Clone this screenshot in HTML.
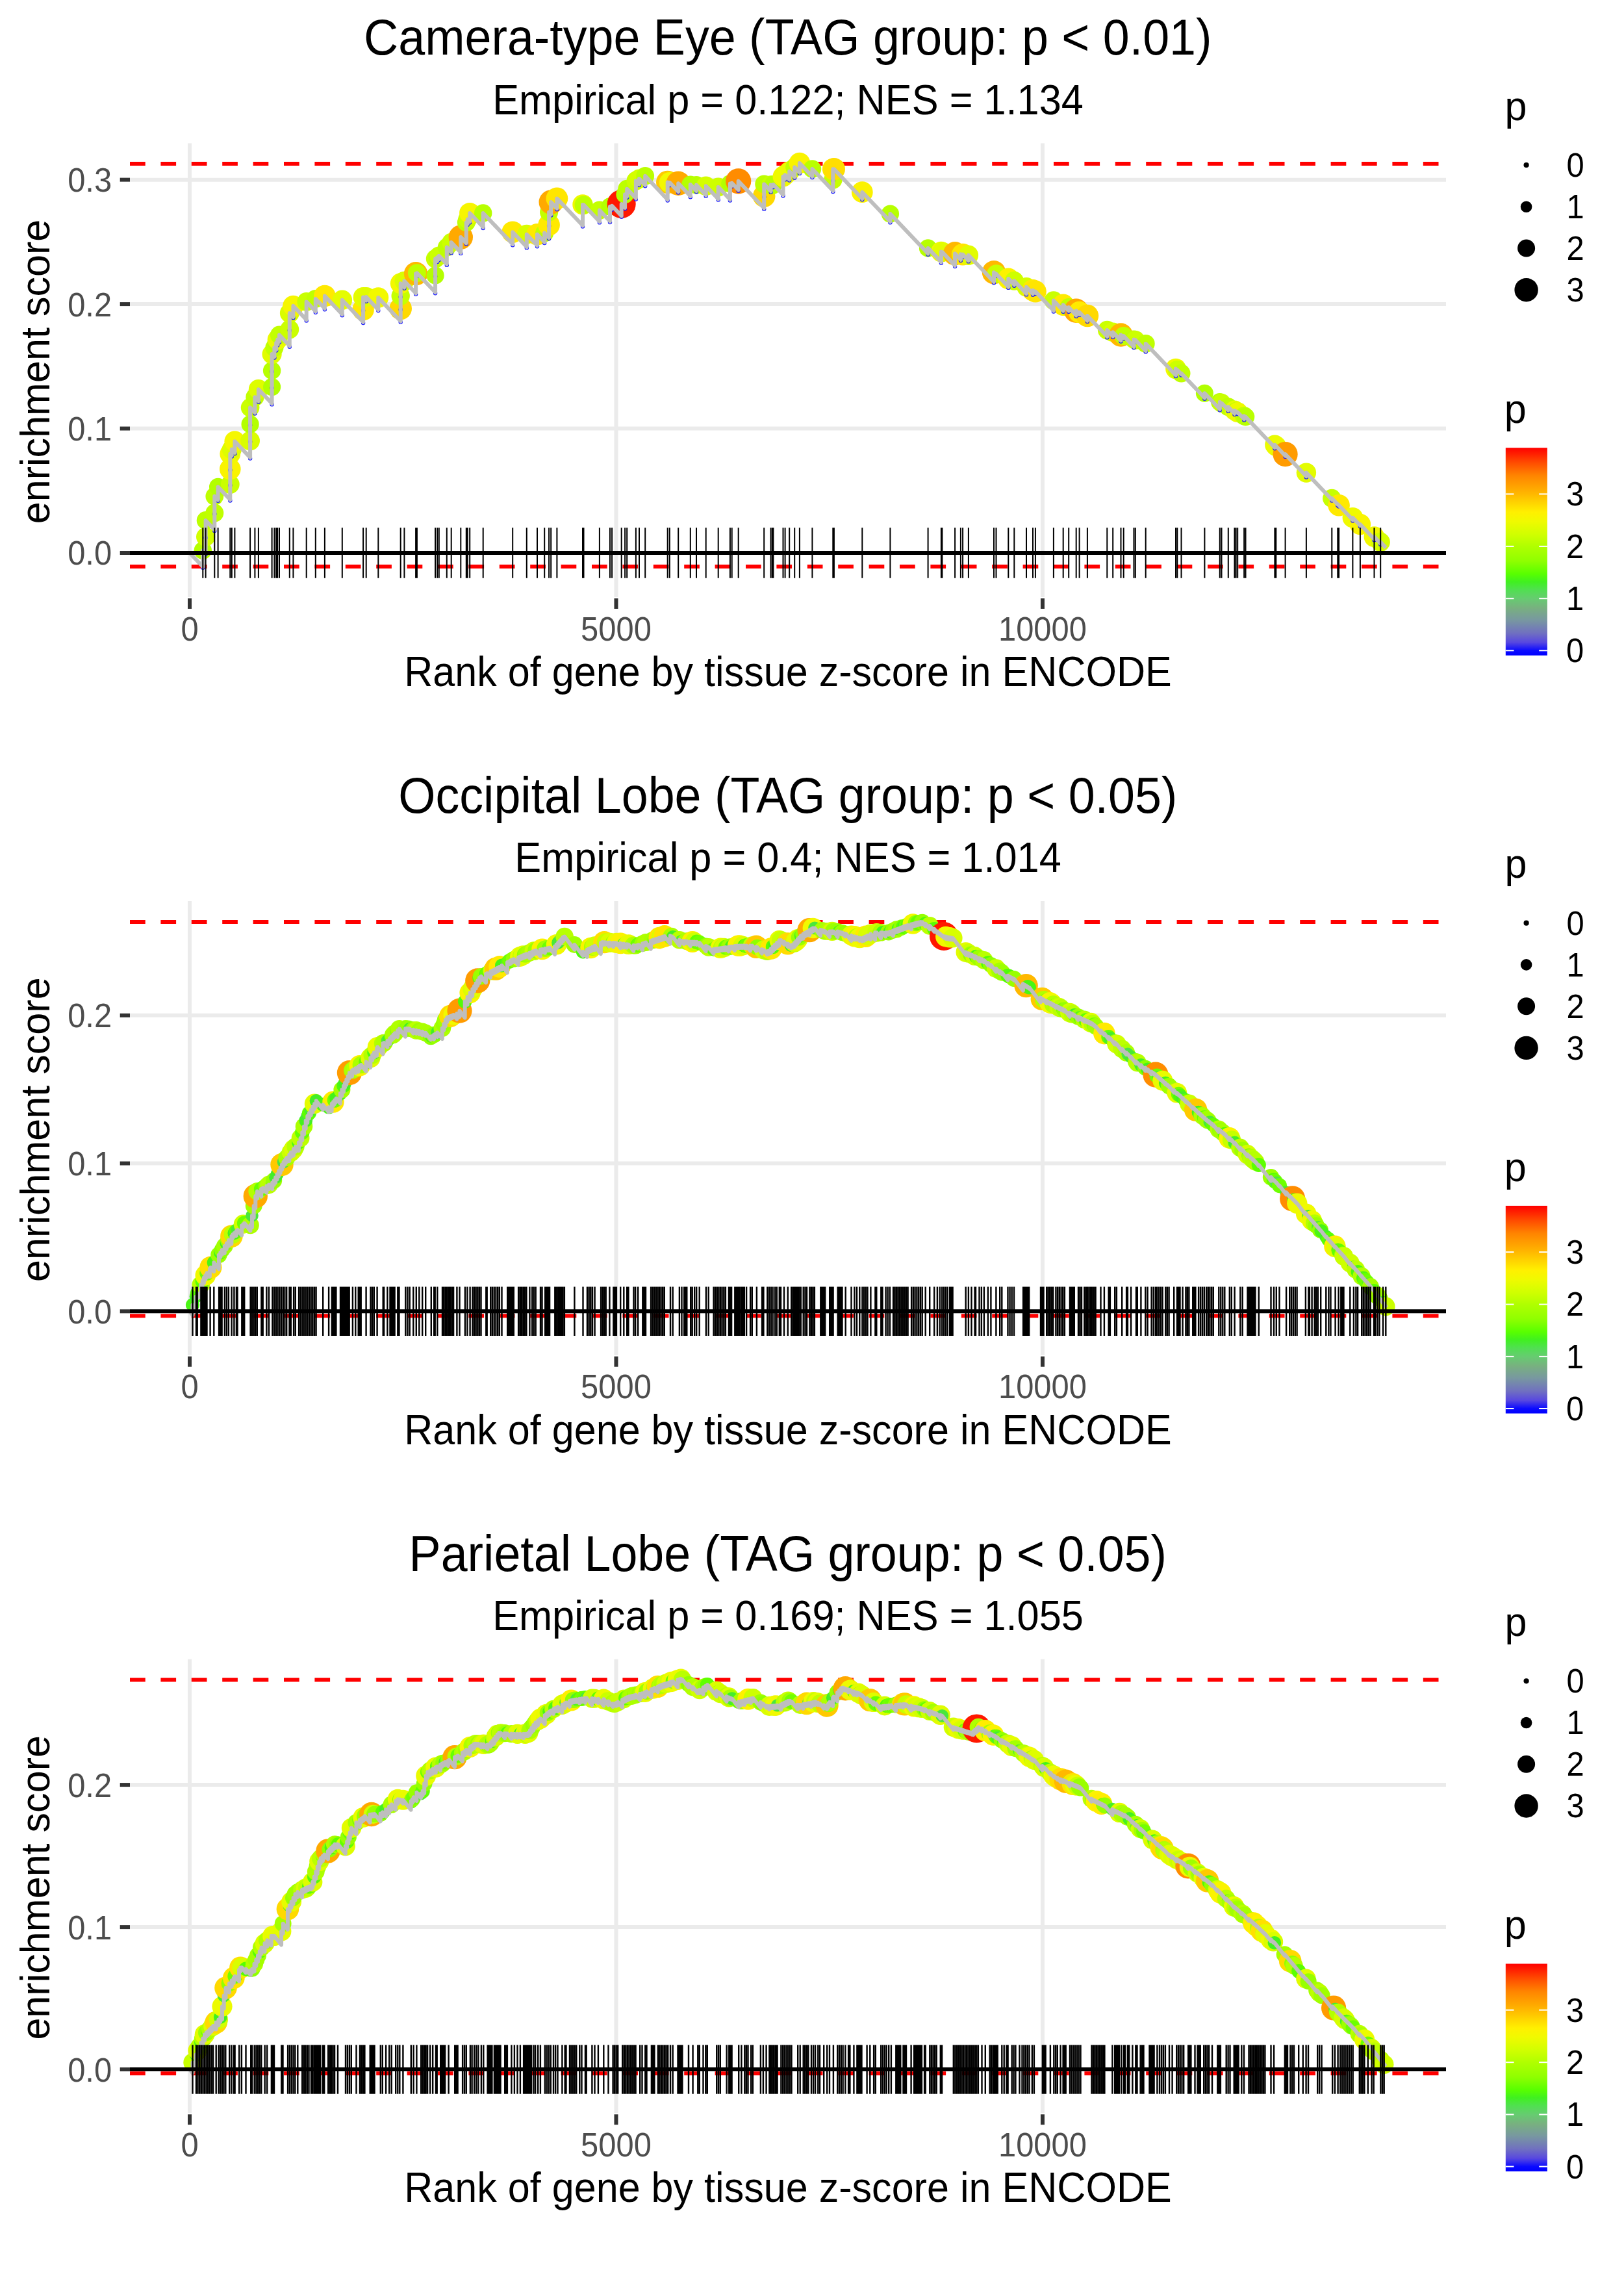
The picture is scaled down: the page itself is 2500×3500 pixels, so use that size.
<!DOCTYPE html><html><head><meta charset="utf-8"><style>html,body{margin:0;padding:0;background:#fff}svg{display:block}</style></head><body><svg width="2500" height="3500" viewBox="0 0 2500 3500">
<defs><linearGradient id="cbar" x1="0" y1="0" x2="0" y2="1"><stop offset="0.0000" stop-color="#FF0000"/><stop offset="0.0696" stop-color="#FF4A00"/><stop offset="0.1329" stop-color="#FF8400"/><stop offset="0.1962" stop-color="#FFA800"/><stop offset="0.2228" stop-color="#FFB800"/><stop offset="0.2595" stop-color="#FFD000"/><stop offset="0.3101" stop-color="#FFF000"/><stop offset="0.3544" stop-color="#F0FA00"/><stop offset="0.4177" stop-color="#D0FF00"/><stop offset="0.4747" stop-color="#B0FF00"/><stop offset="0.5443" stop-color="#90FF00"/><stop offset="0.6076" stop-color="#58FF00"/><stop offset="0.6456" stop-color="#40F020"/><stop offset="0.6835" stop-color="#50E050"/><stop offset="0.7259" stop-color="#66CC70"/><stop offset="0.7722" stop-color="#78B080"/><stop offset="0.8291" stop-color="#7898A0"/><stop offset="0.8924" stop-color="#7070C0"/><stop offset="0.9367" stop-color="#5848E0"/><stop offset="0.9766" stop-color="#0A0AFF"/><stop offset="1.0000" stop-color="#0000FF"/></linearGradient></defs>
<rect width="2500" height="3500" fill="#FFFFFF"/>
<text transform="translate(1212.80,84.30) scale(1,1.06)" font-size="73.6" text-anchor="middle" font-family="Liberation Sans, sans-serif" fill="#000">Camera-type Eye (TAG group: p &lt; 0.01)</text>
<text transform="translate(1213.00,175.80) scale(1,1.065)" font-size="61.3" text-anchor="middle" font-family="Liberation Sans, sans-serif" fill="#000">Empirical p = 0.122; NES = 1.134</text>
<line x1="292.00" y1="220.4" x2="292.00" y2="919.0" stroke="#EBEBEB" stroke-width="6"/>
<line x1="948.48" y1="220.4" x2="948.48" y2="919.0" stroke="#EBEBEB" stroke-width="6"/>
<line x1="1604.95" y1="220.4" x2="1604.95" y2="919.0" stroke="#EBEBEB" stroke-width="6"/>
<line x1="200.0" y1="851.00" x2="2226.0" y2="851.00" stroke="#EBEBEB" stroke-width="6"/>
<line x1="200.0" y1="659.55" x2="2226.0" y2="659.55" stroke="#EBEBEB" stroke-width="6"/>
<line x1="200.0" y1="468.10" x2="2226.0" y2="468.10" stroke="#EBEBEB" stroke-width="6"/>
<line x1="200.0" y1="276.65" x2="2226.0" y2="276.65" stroke="#EBEBEB" stroke-width="6"/>
<line x1="184.7" y1="851.00" x2="200" y2="851.00" stroke="#333333" stroke-width="6"/>
<text transform="translate(172.10,869.40) scale(1,1.065)" font-size="48.9" text-anchor="end" font-family="Liberation Sans, sans-serif" fill="#4D4D4D">0.0</text>
<line x1="184.7" y1="659.55" x2="200" y2="659.55" stroke="#333333" stroke-width="6"/>
<text transform="translate(172.10,677.95) scale(1,1.065)" font-size="48.9" text-anchor="end" font-family="Liberation Sans, sans-serif" fill="#4D4D4D">0.1</text>
<line x1="184.7" y1="468.10" x2="200" y2="468.10" stroke="#333333" stroke-width="6"/>
<text transform="translate(172.10,486.50) scale(1,1.065)" font-size="48.9" text-anchor="end" font-family="Liberation Sans, sans-serif" fill="#4D4D4D">0.2</text>
<line x1="184.7" y1="276.65" x2="200" y2="276.65" stroke="#333333" stroke-width="6"/>
<text transform="translate(172.10,295.05) scale(1,1.065)" font-size="48.9" text-anchor="end" font-family="Liberation Sans, sans-serif" fill="#4D4D4D">0.3</text>
<line x1="292.00" y1="921.0" x2="292.00" y2="937.0" stroke="#333333" stroke-width="6"/>
<text transform="translate(292.00,985.50) scale(1,1.065)" font-size="48.9" text-anchor="middle" font-family="Liberation Sans, sans-serif" fill="#4D4D4D">0</text>
<line x1="948.48" y1="921.0" x2="948.48" y2="937.0" stroke="#333333" stroke-width="6"/>
<text transform="translate(948.48,985.50) scale(1,1.065)" font-size="48.9" text-anchor="middle" font-family="Liberation Sans, sans-serif" fill="#4D4D4D">5000</text>
<line x1="1604.95" y1="921.0" x2="1604.95" y2="937.0" stroke="#333333" stroke-width="6"/>
<text transform="translate(1604.95,985.50) scale(1,1.065)" font-size="48.9" text-anchor="middle" font-family="Liberation Sans, sans-serif" fill="#4D4D4D">10000</text>
<text transform="translate(1213.00,1055.90) scale(1,1.065)" font-size="61.1" text-anchor="middle" font-family="Liberation Sans, sans-serif" fill="#000">Rank of gene by tissue z-score in ENCODE</text>
<text transform="translate(75.80,572.00) rotate(-90) scale(1,1.03)" font-size="61.1" text-anchor="middle" font-family="Liberation Sans, sans-serif" fill="#000">enrichment score</text>
<line x1="200.0" y1="252.0" x2="2226.0" y2="252.0" stroke="#FF0000" stroke-width="6" stroke-dasharray="23.7 23.7"/>
<line x1="200.0" y1="871.9" x2="2226.0" y2="871.9" stroke="#FF0000" stroke-width="6" stroke-dasharray="23.7 23.7"/>
<circle cx="312.3" cy="847.2" r="13.7" fill="#B5FF00"/>
<circle cx="316.6" cy="826.3" r="14.6" fill="#D2FF00"/>
<circle cx="316.6" cy="801.0" r="13.9" fill="#BCFF00"/>
<circle cx="330.3" cy="789.6" r="14.0" fill="#C0FF00"/>
<circle cx="330.3" cy="763.8" r="13.9" fill="#BEFF00"/>
<circle cx="335.6" cy="749.4" r="13.6" fill="#B3FF00"/>
<circle cx="354.3" cy="745.5" r="14.4" fill="#CAFF00"/>
<circle cx="354.3" cy="722.0" r="16.3" fill="#FAF300"/>
<circle cx="354.3" cy="698.4" r="15.9" fill="#F2F800"/>
<circle cx="356.8" cy="691.6" r="15.1" fill="#DEFD00"/>
<circle cx="361.4" cy="679.2" r="16.0" fill="#F5F700"/>
<circle cx="385.1" cy="678.5" r="14.9" fill="#DAFD00"/>
<circle cx="385.1" cy="652.9" r="13.6" fill="#B4FF00"/>
<circle cx="385.1" cy="627.3" r="14.3" fill="#CAFF00"/>
<circle cx="392.4" cy="611.3" r="14.1" fill="#C2FF00"/>
<circle cx="397.9" cy="599.2" r="15.1" fill="#DEFD00"/>
<circle cx="418.6" cy="595.6" r="13.6" fill="#B2FF00"/>
<circle cx="418.6" cy="570.4" r="13.7" fill="#B7FF00"/>
<circle cx="418.6" cy="545.1" r="15.1" fill="#E0FD00"/>
<circle cx="422.4" cy="535.1" r="14.1" fill="#C2FF00"/>
<circle cx="425.2" cy="527.8" r="13.8" fill="#BAFF00"/>
<circle cx="427.2" cy="522.6" r="15.5" fill="#EAFB00"/>
<circle cx="430.0" cy="515.6" r="14.1" fill="#C2FF00"/>
<circle cx="445.8" cy="507.0" r="14.4" fill="#CBFF00"/>
<circle cx="445.8" cy="481.9" r="14.9" fill="#DAFD00"/>
<circle cx="451.4" cy="470.8" r="16.1" fill="#F6F600"/>
<circle cx="471.7" cy="464.4" r="14.3" fill="#C8FF00"/>
<circle cx="485.8" cy="459.9" r="14.0" fill="#BFFF00"/>
<circle cx="499.9" cy="455.5" r="16.8" fill="#FFE900"/>
<circle cx="526.8" cy="461.7" r="15.3" fill="#E5FC00"/>
<circle cx="559.1" cy="476.5" r="16.8" fill="#FFE900"/>
<circle cx="559.1" cy="457.5" r="15.4" fill="#E6FC00"/>
<circle cx="563.7" cy="457.1" r="15.2" fill="#E1FC00"/>
<circle cx="582.3" cy="458.1" r="15.9" fill="#F2F900"/>
<circle cx="616.7" cy="474.9" r="17.3" fill="#FFD900"/>
<circle cx="616.7" cy="455.6" r="14.2" fill="#C6FF00"/>
<circle cx="616.7" cy="436.2" r="15.9" fill="#F3F800"/>
<circle cx="622.4" cy="432.6" r="14.9" fill="#DAFD00"/>
<circle cx="640.1" cy="421.3" r="18.2" fill="#FFB800"/>
<circle cx="641.9" cy="420.2" r="14.0" fill="#BFFF00"/>
<circle cx="670.1" cy="424.0" r="13.6" fill="#B4FF00"/>
<circle cx="670.1" cy="398.3" r="14.3" fill="#C8FF00"/>
<circle cx="673.2" cy="395.9" r="13.8" fill="#B8FF00"/>
<circle cx="675.8" cy="393.8" r="14.4" fill="#CBFF00"/>
<circle cx="687.8" cy="380.6" r="14.0" fill="#BEFF00"/>
<circle cx="694.7" cy="373.1" r="14.4" fill="#CCFF00"/>
<circle cx="709.3" cy="365.1" r="18.7" fill="#FFA900"/>
<circle cx="717.8" cy="342.4" r="13.9" fill="#BDFF00"/>
<circle cx="719.7" cy="337.4" r="14.4" fill="#CCFF00"/>
<circle cx="723.2" cy="328.0" r="16.1" fill="#F7F500"/>
<circle cx="743.7" cy="328.0" r="13.7" fill="#B7FF00"/>
<circle cx="789.2" cy="357.2" r="16.8" fill="#FFE900"/>
<circle cx="810.8" cy="360.7" r="14.9" fill="#D9FE00"/>
<circle cx="827.0" cy="360.7" r="16.8" fill="#FFE900"/>
<circle cx="838.2" cy="358.6" r="14.1" fill="#C2FF00"/>
<circle cx="845.1" cy="346.2" r="16.8" fill="#FFEA00"/>
<circle cx="845.1" cy="326.6" r="14.1" fill="#C3FF00"/>
<circle cx="848.2" cy="311.1" r="18.7" fill="#FFA900"/>
<circle cx="857.4" cy="305.4" r="16.9" fill="#FFE600"/>
<circle cx="897.0" cy="314.9" r="15.7" fill="#EEFA00"/>
<circle cx="898.5" cy="315.3" r="13.9" fill="#BDFF00"/>
<circle cx="922.9" cy="323.6" r="14.2" fill="#C4FF00"/>
<circle cx="939.0" cy="317.9" r="13.6" fill="#B2FF00"/>
<circle cx="942.1" cy="316.8" r="13.7" fill="#B5FF00"/>
<circle cx="956.7" cy="314.0" r="22.0" fill="#FF1800"/>
<circle cx="962.1" cy="299.2" r="13.7" fill="#B5FF00"/>
<circle cx="965.2" cy="290.7" r="13.9" fill="#BCFF00"/>
<circle cx="978.9" cy="278.2" r="14.4" fill="#CBFF00"/>
<circle cx="984.0" cy="275.1" r="14.7" fill="#D5FE00"/>
<circle cx="993.2" cy="270.8" r="13.9" fill="#BBFF00"/>
<circle cx="1027.7" cy="280.4" r="17.7" fill="#FFC900"/>
<circle cx="1030.8" cy="280.9" r="15.9" fill="#F3F800"/>
<circle cx="1044.2" cy="282.3" r="18.7" fill="#FFA900"/>
<circle cx="1062.8" cy="284.0" r="13.6" fill="#B3FF00"/>
<circle cx="1072.0" cy="284.8" r="13.8" fill="#B8FF00"/>
<circle cx="1086.7" cy="286.2" r="14.8" fill="#D5FE00"/>
<circle cx="1105.7" cy="287.9" r="14.5" fill="#CEFF00"/>
<circle cx="1123.9" cy="282.6" r="13.7" fill="#B5FF00"/>
<circle cx="1126.7" cy="281.8" r="13.5" fill="#B1FF00"/>
<circle cx="1136.7" cy="278.8" r="19.6" fill="#FF8C00"/>
<circle cx="1176.2" cy="301.8" r="17.3" fill="#FFD900"/>
<circle cx="1176.2" cy="283.4" r="13.9" fill="#BCFF00"/>
<circle cx="1186.6" cy="284.6" r="14.3" fill="#C8FF00"/>
<circle cx="1188.9" cy="284.8" r="14.3" fill="#C8FF00"/>
<circle cx="1190.4" cy="284.0" r="13.7" fill="#B7FF00"/>
<circle cx="1205.5" cy="271.7" r="15.9" fill="#F3F800"/>
<circle cx="1208.6" cy="269.2" r="15.7" fill="#EEFA00"/>
<circle cx="1215.2" cy="263.8" r="15.6" fill="#ECFB00"/>
<circle cx="1223.2" cy="257.3" r="14.0" fill="#C0FF00"/>
<circle cx="1230.9" cy="251.0" r="16.3" fill="#FAF300"/>
<circle cx="1250.4" cy="260.0" r="13.8" fill="#B9FF00"/>
<circle cx="1282.3" cy="276.8" r="14.2" fill="#C6FF00"/>
<circle cx="1282.3" cy="260.2" r="16.5" fill="#FDF100"/>
<circle cx="1283.9" cy="260.2" r="17.1" fill="#FFDE00"/>
<circle cx="1327.3" cy="295.7" r="16.4" fill="#FBF200"/>
<circle cx="1370.4" cy="329.1" r="13.7" fill="#B7FF00"/>
<circle cx="1428.6" cy="381.9" r="13.7" fill="#B7FF00"/>
<circle cx="1448.9" cy="387.5" r="15.8" fill="#F1F900"/>
<circle cx="1450.4" cy="387.9" r="15.2" fill="#E2FC00"/>
<circle cx="1470.1" cy="390.3" r="18.2" fill="#FFB800"/>
<circle cx="1478.9" cy="391.3" r="14.2" fill="#C5FF00"/>
<circle cx="1482.1" cy="391.6" r="16.9" fill="#FFE600"/>
<circle cx="1490.9" cy="392.7" r="15.2" fill="#E2FC00"/>
<circle cx="1530.0" cy="419.2" r="18.2" fill="#FFB800"/>
<circle cx="1533.5" cy="421.6" r="14.3" fill="#C9FF00"/>
<circle cx="1552.3" cy="428.9" r="16.4" fill="#FCF200"/>
<circle cx="1561.3" cy="432.3" r="14.5" fill="#CEFF00"/>
<circle cx="1580.0" cy="441.7" r="14.8" fill="#D6FE00"/>
<circle cx="1590.0" cy="446.7" r="16.8" fill="#FFE900"/>
<circle cx="1593.9" cy="448.6" r="16.9" fill="#FFE500"/>
<circle cx="1621.9" cy="462.6" r="14.4" fill="#CAFF00"/>
<circle cx="1636.7" cy="469.3" r="16.7" fill="#FFEB00"/>
<circle cx="1645.2" cy="473.1" r="14.1" fill="#C1FF00"/>
<circle cx="1656.7" cy="478.3" r="18.7" fill="#FFA900"/>
<circle cx="1661.6" cy="480.5" r="16.7" fill="#FFEB00"/>
<circle cx="1673.9" cy="486.0" r="17.3" fill="#FFD900"/>
<circle cx="1704.3" cy="508.1" r="14.4" fill="#CBFF00"/>
<circle cx="1713.2" cy="511.2" r="14.8" fill="#D7FE00"/>
<circle cx="1725.5" cy="515.5" r="18.2" fill="#FFB800"/>
<circle cx="1729.7" cy="517.0" r="14.1" fill="#C2FF00"/>
<circle cx="1745.5" cy="522.5" r="13.9" fill="#BDFF00"/>
<circle cx="1747.8" cy="523.3" r="14.4" fill="#CCFF00"/>
<circle cx="1763.7" cy="528.9" r="14.0" fill="#BEFF00"/>
<circle cx="1810.0" cy="567.5" r="15.8" fill="#F1F900"/>
<circle cx="1812.3" cy="569.4" r="14.4" fill="#CDFF00"/>
<circle cx="1818.5" cy="574.6" r="14.0" fill="#C1FF00"/>
<circle cx="1854.4" cy="605.2" r="13.5" fill="#B1FF00"/>
<circle cx="1877.8" cy="618.8" r="13.7" fill="#B6FF00"/>
<circle cx="1880.5" cy="620.4" r="14.3" fill="#C9FF00"/>
<circle cx="1890.8" cy="626.3" r="14.0" fill="#BFFF00"/>
<circle cx="1900.5" cy="631.8" r="15.3" fill="#E5FC00"/>
<circle cx="1902.7" cy="633.1" r="14.0" fill="#C0FF00"/>
<circle cx="1905.2" cy="634.5" r="15.6" fill="#EDFA00"/>
<circle cx="1915.2" cy="640.2" r="14.1" fill="#C2FF00"/>
<circle cx="1917.5" cy="641.6" r="13.8" fill="#B9FF00"/>
<circle cx="1962.4" cy="684.7" r="15.2" fill="#E3FC00"/>
<circle cx="1964.3" cy="686.5" r="15.6" fill="#ECFB00"/>
<circle cx="1978.6" cy="699.1" r="19.1" fill="#FF9B00"/>
<circle cx="2010.9" cy="727.6" r="15.2" fill="#E3FC00"/>
<circle cx="2050.3" cy="767.0" r="14.2" fill="#C6FF00"/>
<circle cx="2059.3" cy="776.0" r="14.1" fill="#C1FF00"/>
<circle cx="2061.1" cy="777.7" r="16.8" fill="#FFE900"/>
<circle cx="2082.4" cy="796.7" r="15.8" fill="#F0FA00"/>
<circle cx="2093.9" cy="807.0" r="16.2" fill="#F9F400"/>
<circle cx="2115.5" cy="826.2" r="15.9" fill="#F2F900"/>
<circle cx="2125.2" cy="834.3" r="14.7" fill="#D5FE00"/>
<circle cx="312.3" cy="873.8" r="2.6" fill="none" stroke="#2020FF" stroke-width="1.2"/>
<circle cx="316.6" cy="853.2" r="2.6" fill="none" stroke="#2020FF" stroke-width="1.2"/>
<circle cx="316.6" cy="827.8" r="2.6" fill="none" stroke="#2020FF" stroke-width="1.2"/>
<circle cx="330.3" cy="816.9" r="2.6" fill="none" stroke="#2020FF" stroke-width="1.2"/>
<circle cx="330.3" cy="791.1" r="2.6" fill="none" stroke="#2020FF" stroke-width="1.2"/>
<circle cx="335.6" cy="770.8" r="2.6" fill="none" stroke="#2020FF" stroke-width="1.2"/>
<circle cx="354.3" cy="770.5" r="2.6" fill="none" stroke="#2020FF" stroke-width="1.2"/>
<circle cx="354.3" cy="747.0" r="2.6" fill="none" stroke="#2020FF" stroke-width="1.2"/>
<circle cx="354.3" cy="723.5" r="2.6" fill="none" stroke="#2020FF" stroke-width="1.2"/>
<circle cx="356.8" cy="702.6" r="2.6" fill="none" stroke="#2020FF" stroke-width="1.2"/>
<circle cx="361.4" cy="698.0" r="2.6" fill="none" stroke="#2020FF" stroke-width="1.2"/>
<circle cx="385.1" cy="705.6" r="2.6" fill="none" stroke="#2020FF" stroke-width="1.2"/>
<circle cx="385.1" cy="680.0" r="2.6" fill="none" stroke="#2020FF" stroke-width="1.2"/>
<circle cx="385.1" cy="654.4" r="2.6" fill="none" stroke="#2020FF" stroke-width="1.2"/>
<circle cx="392.4" cy="636.4" r="2.6" fill="none" stroke="#2020FF" stroke-width="1.2"/>
<circle cx="397.9" cy="618.5" r="2.6" fill="none" stroke="#2020FF" stroke-width="1.2"/>
<circle cx="418.6" cy="622.4" r="2.6" fill="none" stroke="#2020FF" stroke-width="1.2"/>
<circle cx="418.6" cy="597.1" r="2.6" fill="none" stroke="#2020FF" stroke-width="1.2"/>
<circle cx="418.6" cy="571.9" r="2.6" fill="none" stroke="#2020FF" stroke-width="1.2"/>
<circle cx="422.4" cy="550.6" r="2.6" fill="none" stroke="#2020FF" stroke-width="1.2"/>
<circle cx="425.2" cy="539.6" r="2.6" fill="none" stroke="#2020FF" stroke-width="1.2"/>
<circle cx="427.2" cy="531.4" r="2.6" fill="none" stroke="#2020FF" stroke-width="1.2"/>
<circle cx="430.0" cy="527.0" r="2.6" fill="none" stroke="#2020FF" stroke-width="1.2"/>
<circle cx="445.8" cy="533.7" r="2.6" fill="none" stroke="#2020FF" stroke-width="1.2"/>
<circle cx="445.8" cy="508.5" r="2.6" fill="none" stroke="#2020FF" stroke-width="1.2"/>
<circle cx="451.4" cy="489.2" r="2.6" fill="none" stroke="#2020FF" stroke-width="1.2"/>
<circle cx="471.7" cy="493.6" r="2.6" fill="none" stroke="#2020FF" stroke-width="1.2"/>
<circle cx="485.8" cy="480.7" r="2.6" fill="none" stroke="#2020FF" stroke-width="1.2"/>
<circle cx="499.9" cy="476.3" r="2.6" fill="none" stroke="#2020FF" stroke-width="1.2"/>
<circle cx="526.8" cy="485.2" r="2.6" fill="none" stroke="#2020FF" stroke-width="1.2"/>
<circle cx="559.1" cy="497.1" r="2.6" fill="none" stroke="#2020FF" stroke-width="1.2"/>
<circle cx="559.1" cy="478.0" r="2.6" fill="none" stroke="#2020FF" stroke-width="1.2"/>
<circle cx="563.7" cy="463.8" r="2.6" fill="none" stroke="#2020FF" stroke-width="1.2"/>
<circle cx="582.3" cy="478.1" r="2.6" fill="none" stroke="#2020FF" stroke-width="1.2"/>
<circle cx="616.7" cy="495.8" r="2.6" fill="none" stroke="#2020FF" stroke-width="1.2"/>
<circle cx="616.7" cy="476.4" r="2.6" fill="none" stroke="#2020FF" stroke-width="1.2"/>
<circle cx="616.7" cy="457.1" r="2.6" fill="none" stroke="#2020FF" stroke-width="1.2"/>
<circle cx="622.4" cy="443.7" r="2.6" fill="none" stroke="#2020FF" stroke-width="1.2"/>
<circle cx="640.1" cy="452.7" r="2.6" fill="none" stroke="#2020FF" stroke-width="1.2"/>
<circle cx="641.9" cy="424.7" r="2.6" fill="none" stroke="#2020FF" stroke-width="1.2"/>
<circle cx="670.1" cy="451.3" r="2.6" fill="none" stroke="#2020FF" stroke-width="1.2"/>
<circle cx="670.1" cy="425.5" r="2.6" fill="none" stroke="#2020FF" stroke-width="1.2"/>
<circle cx="673.2" cy="403.1" r="2.6" fill="none" stroke="#2020FF" stroke-width="1.2"/>
<circle cx="675.8" cy="400.1" r="2.6" fill="none" stroke="#2020FF" stroke-width="1.2"/>
<circle cx="687.8" cy="407.9" r="2.6" fill="none" stroke="#2020FF" stroke-width="1.2"/>
<circle cx="694.7" cy="389.4" r="2.6" fill="none" stroke="#2020FF" stroke-width="1.2"/>
<circle cx="709.3" cy="389.9" r="2.6" fill="none" stroke="#2020FF" stroke-width="1.2"/>
<circle cx="717.8" cy="375.6" r="2.6" fill="none" stroke="#2020FF" stroke-width="1.2"/>
<circle cx="719.7" cy="345.9" r="2.6" fill="none" stroke="#2020FF" stroke-width="1.2"/>
<circle cx="723.2" cy="342.5" r="2.6" fill="none" stroke="#2020FF" stroke-width="1.2"/>
<circle cx="743.7" cy="351.0" r="2.6" fill="none" stroke="#2020FF" stroke-width="1.2"/>
<circle cx="789.2" cy="377.2" r="2.6" fill="none" stroke="#2020FF" stroke-width="1.2"/>
<circle cx="810.8" cy="381.4" r="2.6" fill="none" stroke="#2020FF" stroke-width="1.2"/>
<circle cx="827.0" cy="379.2" r="2.6" fill="none" stroke="#2020FF" stroke-width="1.2"/>
<circle cx="838.2" cy="374.0" r="2.6" fill="none" stroke="#2020FF" stroke-width="1.2"/>
<circle cx="845.1" cy="367.3" r="2.6" fill="none" stroke="#2020FF" stroke-width="1.2"/>
<circle cx="845.1" cy="347.7" r="2.6" fill="none" stroke="#2020FF" stroke-width="1.2"/>
<circle cx="848.2" cy="331.4" r="2.6" fill="none" stroke="#2020FF" stroke-width="1.2"/>
<circle cx="857.4" cy="322.2" r="2.6" fill="none" stroke="#2020FF" stroke-width="1.2"/>
<circle cx="897.0" cy="348.5" r="2.6" fill="none" stroke="#2020FF" stroke-width="1.2"/>
<circle cx="898.5" cy="318.0" r="2.6" fill="none" stroke="#2020FF" stroke-width="1.2"/>
<circle cx="922.9" cy="342.4" r="2.6" fill="none" stroke="#2020FF" stroke-width="1.2"/>
<circle cx="939.0" cy="342.0" r="2.6" fill="none" stroke="#2020FF" stroke-width="1.2"/>
<circle cx="942.1" cy="322.7" r="2.6" fill="none" stroke="#2020FF" stroke-width="1.2"/>
<circle cx="956.7" cy="333.7" r="2.6" fill="none" stroke="#2020FF" stroke-width="1.2"/>
<circle cx="962.1" cy="321.2" r="2.6" fill="none" stroke="#2020FF" stroke-width="1.2"/>
<circle cx="965.2" cy="303.9" r="2.6" fill="none" stroke="#2020FF" stroke-width="1.2"/>
<circle cx="978.9" cy="306.5" r="2.6" fill="none" stroke="#2020FF" stroke-width="1.2"/>
<circle cx="984.0" cy="285.0" r="2.6" fill="none" stroke="#2020FF" stroke-width="1.2"/>
<circle cx="993.2" cy="286.3" r="2.6" fill="none" stroke="#2020FF" stroke-width="1.2"/>
<circle cx="1027.7" cy="308.6" r="2.6" fill="none" stroke="#2020FF" stroke-width="1.2"/>
<circle cx="1030.8" cy="285.2" r="2.6" fill="none" stroke="#2020FF" stroke-width="1.2"/>
<circle cx="1044.2" cy="296.5" r="2.6" fill="none" stroke="#2020FF" stroke-width="1.2"/>
<circle cx="1062.8" cy="303.3" r="2.6" fill="none" stroke="#2020FF" stroke-width="1.2"/>
<circle cx="1072.0" cy="295.2" r="2.6" fill="none" stroke="#2020FF" stroke-width="1.2"/>
<circle cx="1086.7" cy="301.8" r="2.6" fill="none" stroke="#2020FF" stroke-width="1.2"/>
<circle cx="1105.7" cy="307.6" r="2.6" fill="none" stroke="#2020FF" stroke-width="1.2"/>
<circle cx="1123.9" cy="308.5" r="2.6" fill="none" stroke="#2020FF" stroke-width="1.2"/>
<circle cx="1126.7" cy="287.1" r="2.6" fill="none" stroke="#2020FF" stroke-width="1.2"/>
<circle cx="1136.7" cy="293.8" r="2.6" fill="none" stroke="#2020FF" stroke-width="1.2"/>
<circle cx="1176.2" cy="321.8" r="2.6" fill="none" stroke="#2020FF" stroke-width="1.2"/>
<circle cx="1176.2" cy="303.3" r="2.6" fill="none" stroke="#2020FF" stroke-width="1.2"/>
<circle cx="1186.6" cy="295.8" r="2.6" fill="none" stroke="#2020FF" stroke-width="1.2"/>
<circle cx="1188.9" cy="288.5" r="2.6" fill="none" stroke="#2020FF" stroke-width="1.2"/>
<circle cx="1190.4" cy="287.9" r="2.6" fill="none" stroke="#2020FF" stroke-width="1.2"/>
<circle cx="1205.5" cy="301.3" r="2.6" fill="none" stroke="#2020FF" stroke-width="1.2"/>
<circle cx="1208.6" cy="276.4" r="2.6" fill="none" stroke="#2020FF" stroke-width="1.2"/>
<circle cx="1215.2" cy="277.6" r="2.6" fill="none" stroke="#2020FF" stroke-width="1.2"/>
<circle cx="1223.2" cy="273.7" r="2.6" fill="none" stroke="#2020FF" stroke-width="1.2"/>
<circle cx="1230.9" cy="266.9" r="2.6" fill="none" stroke="#2020FF" stroke-width="1.2"/>
<circle cx="1250.4" cy="273.0" r="2.6" fill="none" stroke="#2020FF" stroke-width="1.2"/>
<circle cx="1282.3" cy="295.0" r="2.6" fill="none" stroke="#2020FF" stroke-width="1.2"/>
<circle cx="1282.3" cy="278.3" r="2.6" fill="none" stroke="#2020FF" stroke-width="1.2"/>
<circle cx="1283.9" cy="263.4" r="2.6" fill="none" stroke="#2020FF" stroke-width="1.2"/>
<circle cx="1327.3" cy="307.3" r="2.6" fill="none" stroke="#2020FF" stroke-width="1.2"/>
<circle cx="1370.4" cy="342.4" r="2.6" fill="none" stroke="#2020FF" stroke-width="1.2"/>
<circle cx="1428.6" cy="391.7" r="2.6" fill="none" stroke="#2020FF" stroke-width="1.2"/>
<circle cx="1448.9" cy="404.8" r="2.6" fill="none" stroke="#2020FF" stroke-width="1.2"/>
<circle cx="1450.4" cy="390.6" r="2.6" fill="none" stroke="#2020FF" stroke-width="1.2"/>
<circle cx="1470.1" cy="410.1" r="2.6" fill="none" stroke="#2020FF" stroke-width="1.2"/>
<circle cx="1478.9" cy="401.0" r="2.6" fill="none" stroke="#2020FF" stroke-width="1.2"/>
<circle cx="1482.1" cy="396.1" r="2.6" fill="none" stroke="#2020FF" stroke-width="1.2"/>
<circle cx="1490.9" cy="402.4" r="2.6" fill="none" stroke="#2020FF" stroke-width="1.2"/>
<circle cx="1530.0" cy="435.2" r="2.6" fill="none" stroke="#2020FF" stroke-width="1.2"/>
<circle cx="1533.5" cy="424.4" r="2.6" fill="none" stroke="#2020FF" stroke-width="1.2"/>
<circle cx="1552.3" cy="442.9" r="2.6" fill="none" stroke="#2020FF" stroke-width="1.2"/>
<circle cx="1561.3" cy="439.8" r="2.6" fill="none" stroke="#2020FF" stroke-width="1.2"/>
<circle cx="1580.0" cy="453.4" r="2.6" fill="none" stroke="#2020FF" stroke-width="1.2"/>
<circle cx="1590.0" cy="453.7" r="2.6" fill="none" stroke="#2020FF" stroke-width="1.2"/>
<circle cx="1593.9" cy="452.3" r="2.6" fill="none" stroke="#2020FF" stroke-width="1.2"/>
<circle cx="1621.9" cy="479.5" r="2.6" fill="none" stroke="#2020FF" stroke-width="1.2"/>
<circle cx="1636.7" cy="479.7" r="2.6" fill="none" stroke="#2020FF" stroke-width="1.2"/>
<circle cx="1645.2" cy="479.7" r="2.6" fill="none" stroke="#2020FF" stroke-width="1.2"/>
<circle cx="1656.7" cy="486.7" r="2.6" fill="none" stroke="#2020FF" stroke-width="1.2"/>
<circle cx="1661.6" cy="484.9" r="2.6" fill="none" stroke="#2020FF" stroke-width="1.2"/>
<circle cx="1673.9" cy="494.9" r="2.6" fill="none" stroke="#2020FF" stroke-width="1.2"/>
<circle cx="1704.3" cy="519.4" r="2.6" fill="none" stroke="#2020FF" stroke-width="1.2"/>
<circle cx="1713.2" cy="519.0" r="2.6" fill="none" stroke="#2020FF" stroke-width="1.2"/>
<circle cx="1725.5" cy="525.6" r="2.6" fill="none" stroke="#2020FF" stroke-width="1.2"/>
<circle cx="1729.7" cy="521.4" r="2.6" fill="none" stroke="#2020FF" stroke-width="1.2"/>
<circle cx="1745.5" cy="535.1" r="2.6" fill="none" stroke="#2020FF" stroke-width="1.2"/>
<circle cx="1747.8" cy="526.5" r="2.6" fill="none" stroke="#2020FF" stroke-width="1.2"/>
<circle cx="1763.7" cy="541.5" r="2.6" fill="none" stroke="#2020FF" stroke-width="1.2"/>
<circle cx="1810.0" cy="579.0" r="2.6" fill="none" stroke="#2020FF" stroke-width="1.2"/>
<circle cx="1812.3" cy="571.4" r="2.6" fill="none" stroke="#2020FF" stroke-width="1.2"/>
<circle cx="1818.5" cy="577.4" r="2.6" fill="none" stroke="#2020FF" stroke-width="1.2"/>
<circle cx="1854.4" cy="613.8" r="2.6" fill="none" stroke="#2020FF" stroke-width="1.2"/>
<circle cx="1877.8" cy="631.3" r="2.6" fill="none" stroke="#2020FF" stroke-width="1.2"/>
<circle cx="1880.5" cy="623.1" r="2.6" fill="none" stroke="#2020FF" stroke-width="1.2"/>
<circle cx="1890.8" cy="632.7" r="2.6" fill="none" stroke="#2020FF" stroke-width="1.2"/>
<circle cx="1900.5" cy="637.9" r="2.6" fill="none" stroke="#2020FF" stroke-width="1.2"/>
<circle cx="1902.7" cy="635.6" r="2.6" fill="none" stroke="#2020FF" stroke-width="1.2"/>
<circle cx="1905.2" cy="637.2" r="2.6" fill="none" stroke="#2020FF" stroke-width="1.2"/>
<circle cx="1915.2" cy="646.5" r="2.6" fill="none" stroke="#2020FF" stroke-width="1.2"/>
<circle cx="1917.5" cy="644.2" r="2.6" fill="none" stroke="#2020FF" stroke-width="1.2"/>
<circle cx="1962.4" cy="690.2" r="2.6" fill="none" stroke="#2020FF" stroke-width="1.2"/>
<circle cx="1964.3" cy="688.2" r="2.6" fill="none" stroke="#2020FF" stroke-width="1.2"/>
<circle cx="1978.6" cy="703.0" r="2.6" fill="none" stroke="#2020FF" stroke-width="1.2"/>
<circle cx="2010.9" cy="734.5" r="2.6" fill="none" stroke="#2020FF" stroke-width="1.2"/>
<circle cx="2050.3" cy="770.5" r="2.6" fill="none" stroke="#2020FF" stroke-width="1.2"/>
<circle cx="2059.3" cy="778.0" r="2.6" fill="none" stroke="#2020FF" stroke-width="1.2"/>
<circle cx="2061.1" cy="779.4" r="2.6" fill="none" stroke="#2020FF" stroke-width="1.2"/>
<circle cx="2082.4" cy="801.6" r="2.6" fill="none" stroke="#2020FF" stroke-width="1.2"/>
<circle cx="2093.9" cy="810.3" r="2.6" fill="none" stroke="#2020FF" stroke-width="1.2"/>
<circle cx="2115.5" cy="831.2" r="2.6" fill="none" stroke="#2020FF" stroke-width="1.2"/>
<circle cx="2125.2" cy="837.9" r="2.6" fill="none" stroke="#2020FF" stroke-width="1.2"/>
<path d="M292.0 851.0 L312.3 872.3 L312.3 847.2 L316.6 851.7 L316.6 801.0 L330.3 815.4 L330.3 763.8 L335.6 769.3 L335.6 749.4 L354.3 769.0 L354.3 698.4 L356.8 701.1 L356.8 691.6 L361.4 696.5 L361.4 679.2 L385.1 704.1 L385.1 627.3 L392.4 634.9 L392.4 611.3 L397.9 617.0 L397.9 599.2 L418.6 620.9 L418.6 545.1 L422.4 549.1 L422.4 535.1 L425.2 538.1 L425.2 527.8 L427.2 529.9 L427.2 522.6 L430.0 525.5 L430.0 515.6 L445.8 532.2 L445.8 481.9 L451.4 487.7 L451.4 470.8 L471.7 492.1 L471.7 464.4 L485.8 479.2 L485.8 459.9 L499.9 474.8 L499.9 455.5 L526.8 483.7 L526.8 461.7 L559.1 495.6 L559.1 457.5 L563.7 462.3 L563.7 457.1 L582.3 476.6 L582.3 458.1 L616.7 494.3 L616.7 436.2 L622.4 442.2 L622.4 432.6 L640.1 451.2 L640.1 421.3 L641.9 423.2 L641.9 420.2 L670.1 449.8 L670.1 398.3 L673.2 401.6 L673.2 395.9 L675.8 398.6 L675.8 393.8 L687.8 406.4 L687.8 380.6 L694.7 387.9 L694.7 373.1 L709.3 388.4 L709.3 365.1 L717.8 374.1 L717.8 342.4 L719.7 344.4 L719.7 337.4 L723.2 341.0 L723.2 328.0 L743.7 349.5 L743.7 328.0 L789.2 375.7 L789.2 357.2 L810.8 379.9 L810.8 360.7 L827.0 377.7 L827.0 360.7 L838.2 372.5 L838.2 358.6 L845.1 365.8 L845.1 326.6 L848.2 329.9 L848.2 311.1 L857.4 320.7 L857.4 305.4 L897.0 347.0 L897.0 314.9 L898.5 316.5 L898.5 315.3 L922.9 340.9 L922.9 323.6 L939.0 340.5 L939.0 317.9 L942.1 321.2 L942.1 316.8 L956.7 332.2 L956.7 314.0 L962.1 319.7 L962.1 299.2 L965.2 302.4 L965.2 290.7 L978.9 305.0 L978.9 278.2 L984.0 283.5 L984.0 275.1 L993.2 284.8 L993.2 270.8 L1027.7 307.1 L1027.7 280.4 L1030.8 283.7 L1030.8 280.9 L1044.2 295.0 L1044.2 282.3 L1062.8 301.8 L1062.8 284.0 L1072.0 293.7 L1072.0 284.8 L1086.7 300.3 L1086.7 286.2 L1105.7 306.1 L1105.7 287.9 L1123.9 307.0 L1123.9 282.6 L1126.7 285.6 L1126.7 281.8 L1136.7 292.3 L1136.7 278.8 L1176.2 320.3 L1176.2 283.4 L1186.6 294.3 L1186.6 284.6 L1188.9 287.0 L1188.9 284.8 L1190.4 286.4 L1190.4 284.0 L1205.5 299.8 L1205.5 271.7 L1208.6 274.9 L1208.6 269.2 L1215.2 276.1 L1215.2 263.8 L1223.2 272.2 L1223.2 257.3 L1230.9 265.4 L1230.9 251.0 L1250.4 271.5 L1250.4 260.0 L1282.3 293.5 L1282.3 260.2 L1283.9 261.9 L1283.9 260.2 L1327.3 305.8 L1327.3 295.7 L1370.4 340.9 L1370.4 329.1 L1428.6 390.2 L1428.6 381.9 L1448.9 403.3 L1448.9 387.5 L1450.4 389.1 L1450.4 387.9 L1470.1 408.6 L1470.1 390.3 L1478.9 399.5 L1478.9 391.3 L1482.1 394.6 L1482.1 391.6 L1490.9 400.9 L1490.9 392.7 L1530.0 433.7 L1530.0 419.2 L1533.5 422.9 L1533.5 421.6 L1552.3 441.4 L1552.3 428.9 L1561.3 438.3 L1561.3 432.3 L1580.0 451.9 L1580.0 441.7 L1590.0 452.2 L1590.0 446.7 L1593.9 450.8 L1593.9 448.6 L1621.9 478.0 L1621.9 462.6 L1636.7 478.2 L1636.7 469.3 L1645.2 478.2 L1645.2 473.1 L1656.7 485.2 L1656.7 478.3 L1661.6 483.4 L1661.6 480.5 L1673.9 493.4 L1673.9 486.0 L1704.3 517.9 L1704.3 508.1 L1713.2 517.5 L1713.2 511.2 L1725.5 524.1 L1725.5 515.5 L1729.7 519.9 L1729.7 517.0 L1745.5 533.6 L1745.5 522.5 L1747.8 525.0 L1747.8 523.3 L1763.7 540.0 L1763.7 528.9 L1810.0 577.5 L1810.0 567.5 L1812.3 569.9 L1812.3 569.4 L1818.5 575.9 L1818.5 574.6 L1854.4 612.3 L1854.4 605.2 L1877.8 629.8 L1877.8 618.8 L1880.5 621.6 L1880.5 620.4 L1890.8 631.2 L1890.8 626.3 L1900.5 636.4 L1900.5 631.8 L1902.7 634.1 L1902.7 633.1 L1905.2 635.7 L1905.2 634.5 L1915.2 645.0 L1915.2 640.2 L1917.5 642.7 L1917.5 641.6 L1962.4 688.7 L1962.4 684.7 L1964.3 686.7 L1964.3 686.5 L1978.6 701.5 L1978.6 699.1 L2010.9 733.0 L2010.9 727.6 L2050.3 769.0 L2050.3 767.0 L2059.3 776.5 L2059.3 776.0 L2061.1 777.9 L2061.1 777.7 L2082.4 800.1 L2082.4 796.7 L2093.9 808.8 L2093.9 807.0 L2115.5 829.7 L2115.5 826.2 L2125.2 836.4 L2125.2 834.3 L2133.5 843.1" fill="none" stroke="#BEBEBE" stroke-width="6" stroke-linejoin="round"/>
<line x1="200.0" y1="851.0" x2="2226.0" y2="851.0" stroke="#000" stroke-width="6"/>
<path d="M312.3 812.2V889.8M316.6 812.2V889.8M330.3 812.2V889.8M335.6 812.2V889.8M354.3 812.2V889.8M356.8 812.2V889.8M361.4 812.2V889.8M385.1 812.2V889.8M392.4 812.2V889.8M397.9 812.2V889.8M418.6 812.2V889.8M422.4 812.2V889.8M425.2 812.2V889.8M427.2 812.2V889.8M430.0 812.2V889.8M445.8 812.2V889.8M451.4 812.2V889.8M471.7 812.2V889.8M485.8 812.2V889.8M499.9 812.2V889.8M526.8 812.2V889.8M559.1 812.2V889.8M563.7 812.2V889.8M582.3 812.2V889.8M616.7 812.2V889.8M622.4 812.2V889.8M640.1 812.2V889.8M641.9 812.2V889.8M670.1 812.2V889.8M673.2 812.2V889.8M675.8 812.2V889.8M687.8 812.2V889.8M694.7 812.2V889.8M709.3 812.2V889.8M717.8 812.2V889.8M719.7 812.2V889.8M723.2 812.2V889.8M743.7 812.2V889.8M789.2 812.2V889.8M810.8 812.2V889.8M827.0 812.2V889.8M838.2 812.2V889.8M845.1 812.2V889.8M848.2 812.2V889.8M857.4 812.2V889.8M897.0 812.2V889.8M898.5 812.2V889.8M922.9 812.2V889.8M939.0 812.2V889.8M942.1 812.2V889.8M956.7 812.2V889.8M962.1 812.2V889.8M965.2 812.2V889.8M978.9 812.2V889.8M984.0 812.2V889.8M993.2 812.2V889.8M1027.7 812.2V889.8M1030.8 812.2V889.8M1044.2 812.2V889.8M1062.8 812.2V889.8M1072.0 812.2V889.8M1086.7 812.2V889.8M1105.7 812.2V889.8M1123.9 812.2V889.8M1126.7 812.2V889.8M1136.7 812.2V889.8M1176.2 812.2V889.8M1186.6 812.2V889.8M1188.9 812.2V889.8M1190.4 812.2V889.8M1205.5 812.2V889.8M1208.6 812.2V889.8M1215.2 812.2V889.8M1223.2 812.2V889.8M1230.9 812.2V889.8M1250.4 812.2V889.8M1282.3 812.2V889.8M1283.9 812.2V889.8M1327.3 812.2V889.8M1370.4 812.2V889.8M1428.6 812.2V889.8M1448.9 812.2V889.8M1450.4 812.2V889.8M1470.1 812.2V889.8M1478.9 812.2V889.8M1482.1 812.2V889.8M1490.9 812.2V889.8M1530.0 812.2V889.8M1533.5 812.2V889.8M1552.3 812.2V889.8M1561.3 812.2V889.8M1580.0 812.2V889.8M1590.0 812.2V889.8M1593.9 812.2V889.8M1621.9 812.2V889.8M1636.7 812.2V889.8M1645.2 812.2V889.8M1656.7 812.2V889.8M1661.6 812.2V889.8M1673.9 812.2V889.8M1704.3 812.2V889.8M1713.2 812.2V889.8M1725.5 812.2V889.8M1729.7 812.2V889.8M1745.5 812.2V889.8M1747.8 812.2V889.8M1763.7 812.2V889.8M1810.0 812.2V889.8M1812.3 812.2V889.8M1818.5 812.2V889.8M1854.4 812.2V889.8M1877.8 812.2V889.8M1880.5 812.2V889.8M1890.8 812.2V889.8M1900.5 812.2V889.8M1902.7 812.2V889.8M1905.2 812.2V889.8M1915.2 812.2V889.8M1917.5 812.2V889.8M1962.4 812.2V889.8M1964.3 812.2V889.8M1978.6 812.2V889.8M2010.9 812.2V889.8M2050.3 812.2V889.8M2059.3 812.2V889.8M2061.1 812.2V889.8M2082.4 812.2V889.8M2093.9 812.2V889.8M2115.5 812.2V889.8M2125.2 812.2V889.8" stroke="#000" stroke-width="2"/>
<text transform="translate(2316.40,184.50) scale(1,1.02)" font-size="61.1" font-family="Liberation Sans, sans-serif" fill="#000">p</text>
<circle cx="2349.6" cy="254.0" r="4.10" fill="#000"/>
<text transform="translate(2411.40,271.90) scale(1,1.07)" font-size="48.9" font-family="Liberation Sans, sans-serif" fill="#000">0</text>
<circle cx="2349.6" cy="318.2" r="8.80" fill="#000"/>
<text transform="translate(2411.40,336.10) scale(1,1.07)" font-size="48.9" font-family="Liberation Sans, sans-serif" fill="#000">1</text>
<circle cx="2349.6" cy="382.0" r="13.50" fill="#000"/>
<text transform="translate(2411.40,399.90) scale(1,1.07)" font-size="48.9" font-family="Liberation Sans, sans-serif" fill="#000">2</text>
<circle cx="2349.6" cy="446.2" r="18.20" fill="#000"/>
<text transform="translate(2411.40,464.10) scale(1,1.07)" font-size="48.9" font-family="Liberation Sans, sans-serif" fill="#000">3</text>
<text transform="translate(2315.80,651.00) scale(1,1.02)" font-size="61.1" font-family="Liberation Sans, sans-serif" fill="#000">p</text>
<rect x="2317.8" y="689.2" width="64.1" height="319.6" fill="url(#cbar)"/>
<line x1="2317.8" y1="1001.3" x2="2330.5" y2="1001.3" stroke="#FFF" stroke-width="2"/>
<line x1="2369.2" y1="1001.3" x2="2381.9" y2="1001.3" stroke="#FFF" stroke-width="2"/>
<text transform="translate(2411.00,1019.20) scale(1,1.07)" font-size="48.9" font-family="Liberation Sans, sans-serif" fill="#000">0</text>
<line x1="2317.8" y1="921.2" x2="2330.5" y2="921.2" stroke="#FFF" stroke-width="2"/>
<line x1="2369.2" y1="921.2" x2="2381.9" y2="921.2" stroke="#FFF" stroke-width="2"/>
<text transform="translate(2411.00,939.10) scale(1,1.07)" font-size="48.9" font-family="Liberation Sans, sans-serif" fill="#000">1</text>
<line x1="2317.8" y1="840.9" x2="2330.5" y2="840.9" stroke="#FFF" stroke-width="2"/>
<line x1="2369.2" y1="840.9" x2="2381.9" y2="840.9" stroke="#FFF" stroke-width="2"/>
<text transform="translate(2411.00,858.80) scale(1,1.07)" font-size="48.9" font-family="Liberation Sans, sans-serif" fill="#000">2</text>
<line x1="2317.8" y1="760.4" x2="2330.5" y2="760.4" stroke="#FFF" stroke-width="2"/>
<line x1="2369.2" y1="760.4" x2="2381.9" y2="760.4" stroke="#FFF" stroke-width="2"/>
<text transform="translate(2411.00,778.30) scale(1,1.07)" font-size="48.9" font-family="Liberation Sans, sans-serif" fill="#000">3</text>
<text transform="translate(1212.80,1250.97) scale(1,1.06)" font-size="73.6" text-anchor="middle" font-family="Liberation Sans, sans-serif" fill="#000">Occipital Lobe (TAG group: p &lt; 0.05)</text>
<text transform="translate(1213.00,1342.47) scale(1,1.065)" font-size="61.3" text-anchor="middle" font-family="Liberation Sans, sans-serif" fill="#000">Empirical p = 0.4; NES = 1.014</text>
<line x1="292.00" y1="1387.1" x2="292.00" y2="2085.7" stroke="#EBEBEB" stroke-width="6"/>
<line x1="948.48" y1="1387.1" x2="948.48" y2="2085.7" stroke="#EBEBEB" stroke-width="6"/>
<line x1="1604.95" y1="1387.1" x2="1604.95" y2="2085.7" stroke="#EBEBEB" stroke-width="6"/>
<line x1="200.0" y1="2018.30" x2="2226.0" y2="2018.30" stroke="#EBEBEB" stroke-width="6"/>
<line x1="200.0" y1="1790.55" x2="2226.0" y2="1790.55" stroke="#EBEBEB" stroke-width="6"/>
<line x1="200.0" y1="1562.80" x2="2226.0" y2="1562.80" stroke="#EBEBEB" stroke-width="6"/>
<line x1="184.7" y1="2018.30" x2="200" y2="2018.30" stroke="#333333" stroke-width="6"/>
<text transform="translate(172.10,2036.70) scale(1,1.065)" font-size="48.9" text-anchor="end" font-family="Liberation Sans, sans-serif" fill="#4D4D4D">0.0</text>
<line x1="184.7" y1="1790.55" x2="200" y2="1790.55" stroke="#333333" stroke-width="6"/>
<text transform="translate(172.10,1808.95) scale(1,1.065)" font-size="48.9" text-anchor="end" font-family="Liberation Sans, sans-serif" fill="#4D4D4D">0.1</text>
<line x1="184.7" y1="1562.80" x2="200" y2="1562.80" stroke="#333333" stroke-width="6"/>
<text transform="translate(172.10,1581.20) scale(1,1.065)" font-size="48.9" text-anchor="end" font-family="Liberation Sans, sans-serif" fill="#4D4D4D">0.2</text>
<line x1="292.00" y1="2087.7" x2="292.00" y2="2103.7" stroke="#333333" stroke-width="6"/>
<text transform="translate(292.00,2152.17) scale(1,1.065)" font-size="48.9" text-anchor="middle" font-family="Liberation Sans, sans-serif" fill="#4D4D4D">0</text>
<line x1="948.48" y1="2087.7" x2="948.48" y2="2103.7" stroke="#333333" stroke-width="6"/>
<text transform="translate(948.48,2152.17) scale(1,1.065)" font-size="48.9" text-anchor="middle" font-family="Liberation Sans, sans-serif" fill="#4D4D4D">5000</text>
<line x1="1604.95" y1="2087.7" x2="1604.95" y2="2103.7" stroke="#333333" stroke-width="6"/>
<text transform="translate(1604.95,2152.17) scale(1,1.065)" font-size="48.9" text-anchor="middle" font-family="Liberation Sans, sans-serif" fill="#4D4D4D">10000</text>
<text transform="translate(1213.00,2222.57) scale(1,1.065)" font-size="61.1" text-anchor="middle" font-family="Liberation Sans, sans-serif" fill="#000">Rank of gene by tissue z-score in ENCODE</text>
<text transform="translate(75.80,1738.67) rotate(-90) scale(1,1.03)" font-size="61.1" text-anchor="middle" font-family="Liberation Sans, sans-serif" fill="#000">enrichment score</text>
<line x1="200.0" y1="1418.9" x2="2226.0" y2="1418.9" stroke="#FF0000" stroke-width="6" stroke-dasharray="23.7 23.7"/>
<line x1="200.0" y1="2025.2" x2="2226.0" y2="2025.2" stroke="#FF0000" stroke-width="6" stroke-dasharray="23.7 23.7"/>
<circle cx="296.5" cy="2008.4" r="10.6" fill="#49F614"/>
<circle cx="301.8" cy="1995.6" r="10.2" fill="#42EE27"/>
<circle cx="303.9" cy="1990.4" r="11.0" fill="#58FF00"/>
<circle cx="309.2" cy="1977.6" r="13.8" fill="#B9FF00"/>
<circle cx="311.6" cy="1971.8" r="11.1" fill="#5CFF00"/>
<circle cx="313.9" cy="1966.5" r="12.4" fill="#94FF00"/>
<circle cx="316.3" cy="1962.9" r="15.8" fill="#F1F900"/>
<circle cx="318.7" cy="1959.3" r="11.5" fill="#71FF00"/>
<circle cx="322.9" cy="1953.0" r="10.7" fill="#4CF810"/>
<circle cx="324.4" cy="1950.7" r="17.1" fill="#FFDF00"/>
<circle cx="329.3" cy="1943.3" r="10.6" fill="#49F514"/>
<circle cx="336.9" cy="1931.5" r="12.7" fill="#9DFF00"/>
<circle cx="339.3" cy="1927.7" r="10.3" fill="#42F11E"/>
<circle cx="341.8" cy="1923.9" r="12.1" fill="#8DFF00"/>
<circle cx="345.7" cy="1918.0" r="12.9" fill="#A2FF00"/>
<circle cx="348.9" cy="1913.4" r="10.4" fill="#42F11D"/>
<circle cx="352.1" cy="1908.8" r="13.1" fill="#A5FF00"/>
<circle cx="356.4" cy="1902.7" r="17.3" fill="#FFD900"/>
<circle cx="358.5" cy="1900.1" r="13.9" fill="#BDFF00"/>
<circle cx="360.6" cy="1898.0" r="10.2" fill="#41EF24"/>
<circle cx="363.7" cy="1894.9" r="11.2" fill="#61FF00"/>
<circle cx="365.7" cy="1892.9" r="10.0" fill="#47E935"/>
<circle cx="372.1" cy="1886.4" r="11.5" fill="#6DFF00"/>
<circle cx="374.3" cy="1884.2" r="14.6" fill="#D2FF00"/>
<circle cx="376.4" cy="1882.7" r="11.5" fill="#6EFF00"/>
<circle cx="385.4" cy="1885.8" r="13.4" fill="#AEFF00"/>
<circle cx="388.0" cy="1870.9" r="9.8" fill="#4AE63E"/>
<circle cx="390.7" cy="1855.9" r="12.9" fill="#A1FF00"/>
<circle cx="393.3" cy="1841.0" r="18.7" fill="#FFA900"/>
<circle cx="396.0" cy="1833.6" r="13.6" fill="#B3FF00"/>
<circle cx="402.2" cy="1830.1" r="11.3" fill="#68FF00"/>
<circle cx="404.9" cy="1828.5" r="11.4" fill="#69FF00"/>
<circle cx="410.4" cy="1825.4" r="12.7" fill="#9DFF00"/>
<circle cx="414.0" cy="1823.4" r="13.8" fill="#BAFF00"/>
<circle cx="419.2" cy="1820.4" r="10.0" fill="#47E935"/>
<circle cx="421.7" cy="1817.1" r="12.5" fill="#99FF00"/>
<circle cx="424.2" cy="1812.2" r="10.0" fill="#46EA31"/>
<circle cx="426.6" cy="1807.2" r="10.1" fill="#44EC2C"/>
<circle cx="429.1" cy="1802.3" r="10.3" fill="#41F01F"/>
<circle cx="431.6" cy="1797.4" r="12.6" fill="#9BFF00"/>
<circle cx="434.0" cy="1792.5" r="17.7" fill="#FFC900"/>
<circle cx="436.5" cy="1788.5" r="9.8" fill="#4CE443"/>
<circle cx="438.9" cy="1785.3" r="9.8" fill="#4CE444"/>
<circle cx="441.4" cy="1782.1" r="13.1" fill="#A7FF00"/>
<circle cx="445.3" cy="1777.2" r="10.6" fill="#4BF711"/>
<circle cx="448.0" cy="1773.6" r="14.4" fill="#CBFF00"/>
<circle cx="451.9" cy="1768.6" r="14.9" fill="#DAFD00"/>
<circle cx="455.0" cy="1764.7" r="13.7" fill="#B5FF00"/>
<circle cx="459.9" cy="1758.3" r="10.7" fill="#4DF80E"/>
<circle cx="462.6" cy="1751.7" r="13.9" fill="#BDFF00"/>
<circle cx="465.3" cy="1742.7" r="11.3" fill="#66FF00"/>
<circle cx="468.0" cy="1733.7" r="13.3" fill="#ABFF00"/>
<circle cx="470.7" cy="1724.7" r="10.4" fill="#43F21C"/>
<circle cx="473.3" cy="1717.7" r="10.0" fill="#47E935"/>
<circle cx="476.0" cy="1713.0" r="11.1" fill="#5EFF00"/>
<circle cx="478.7" cy="1708.3" r="10.0" fill="#46EA31"/>
<circle cx="481.4" cy="1703.6" r="11.3" fill="#67FF00"/>
<circle cx="484.1" cy="1698.9" r="15.3" fill="#E4FC00"/>
<circle cx="486.8" cy="1694.2" r="10.2" fill="#42EE27"/>
<circle cx="497.2" cy="1700.2" r="10.6" fill="#4AF712"/>
<circle cx="506.1" cy="1704.2" r="10.6" fill="#4AF613"/>
<circle cx="510.7" cy="1698.8" r="11.5" fill="#72FF00"/>
<circle cx="513.0" cy="1696.0" r="16.7" fill="#FFEB00"/>
<circle cx="515.3" cy="1693.2" r="11.6" fill="#72FF00"/>
<circle cx="517.6" cy="1690.4" r="10.4" fill="#44F21B"/>
<circle cx="523.8" cy="1683.0" r="10.5" fill="#46F319"/>
<circle cx="526.4" cy="1677.2" r="13.0" fill="#A5FF00"/>
<circle cx="529.0" cy="1671.3" r="10.7" fill="#4DF80E"/>
<circle cx="531.0" cy="1666.8" r="10.2" fill="#41EF24"/>
<circle cx="533.3" cy="1661.6" r="10.5" fill="#47F417"/>
<circle cx="535.6" cy="1656.4" r="9.8" fill="#4CE443"/>
<circle cx="537.9" cy="1651.2" r="19.1" fill="#FF9B00"/>
<circle cx="542.1" cy="1647.5" r="13.1" fill="#A6FF00"/>
<circle cx="543.6" cy="1646.6" r="13.3" fill="#ACFF00"/>
<circle cx="547.3" cy="1644.3" r="13.7" fill="#B8FF00"/>
<circle cx="551.5" cy="1641.7" r="10.4" fill="#42F11D"/>
<circle cx="553.7" cy="1640.3" r="16.3" fill="#F9F400"/>
<circle cx="555.9" cy="1638.9" r="13.3" fill="#ABFF00"/>
<circle cx="563.6" cy="1634.2" r="11.3" fill="#66FF00"/>
<circle cx="570.3" cy="1628.2" r="15.2" fill="#E2FC00"/>
<circle cx="573.1" cy="1623.9" r="13.6" fill="#B4FF00"/>
<circle cx="576.0" cy="1619.7" r="10.7" fill="#4FF90D"/>
<circle cx="580.0" cy="1613.7" r="13.7" fill="#B5FF00"/>
<circle cx="581.3" cy="1611.6" r="15.6" fill="#EBFB00"/>
<circle cx="589.5" cy="1606.0" r="13.8" fill="#B8FF00"/>
<circle cx="591.3" cy="1605.1" r="13.4" fill="#AEFF00"/>
<circle cx="596.4" cy="1601.8" r="9.8" fill="#4BE542"/>
<circle cx="600.3" cy="1597.9" r="10.4" fill="#44F31A"/>
<circle cx="602.8" cy="1595.4" r="11.3" fill="#66FF00"/>
<circle cx="605.3" cy="1592.8" r="13.3" fill="#ABFF00"/>
<circle cx="607.8" cy="1590.3" r="13.4" fill="#ADFF00"/>
<circle cx="612.1" cy="1586.0" r="12.1" fill="#8CFF00"/>
<circle cx="614.7" cy="1583.4" r="13.5" fill="#B0FF00"/>
<circle cx="624.1" cy="1583.0" r="13.1" fill="#A6FF00"/>
<circle cx="626.4" cy="1583.0" r="12.2" fill="#91FF00"/>
<circle cx="628.7" cy="1583.1" r="12.6" fill="#99FF00"/>
<circle cx="630.9" cy="1583.6" r="10.2" fill="#41EF24"/>
<circle cx="636.3" cy="1584.8" r="12.5" fill="#97FF00"/>
<circle cx="640.8" cy="1585.8" r="13.9" fill="#BDFF00"/>
<circle cx="645.3" cy="1586.7" r="12.8" fill="#9FFF00"/>
<circle cx="650.2" cy="1587.8" r="13.4" fill="#ADFF00"/>
<circle cx="655.2" cy="1589.7" r="13.2" fill="#AAFF00"/>
<circle cx="663.1" cy="1596.0" r="12.2" fill="#91FF00"/>
<circle cx="664.5" cy="1595.1" r="10.2" fill="#42EE25"/>
<circle cx="668.0" cy="1592.7" r="12.7" fill="#9CFF00"/>
<circle cx="669.9" cy="1591.5" r="12.1" fill="#8CFF00"/>
<circle cx="673.3" cy="1589.2" r="10.2" fill="#41EF23"/>
<circle cx="680.8" cy="1582.4" r="13.4" fill="#AEFF00"/>
<circle cx="683.3" cy="1576.1" r="12.6" fill="#9BFF00"/>
<circle cx="685.8" cy="1569.7" r="13.0" fill="#A3FF00"/>
<circle cx="688.3" cy="1565.9" r="12.3" fill="#93FF00"/>
<circle cx="690.8" cy="1564.9" r="14.5" fill="#CFFF00"/>
<circle cx="693.3" cy="1563.9" r="17.2" fill="#FFDB00"/>
<circle cx="695.8" cy="1562.9" r="10.6" fill="#4AF712"/>
<circle cx="698.3" cy="1561.9" r="15.8" fill="#F1F900"/>
<circle cx="703.4" cy="1559.9" r="10.2" fill="#41EF23"/>
<circle cx="707.5" cy="1555.7" r="19.1" fill="#FF9B00"/>
<circle cx="715.7" cy="1541.3" r="10.8" fill="#52FB08"/>
<circle cx="719.6" cy="1534.6" r="10.7" fill="#4FF90D"/>
<circle cx="723.6" cy="1528.1" r="16.2" fill="#F9F400"/>
<circle cx="727.3" cy="1522.2" r="15.0" fill="#DDFD00"/>
<circle cx="730.0" cy="1517.9" r="15.4" fill="#E6FC00"/>
<circle cx="732.6" cy="1513.6" r="11.4" fill="#6CFF00"/>
<circle cx="735.3" cy="1509.3" r="19.1" fill="#FF9B00"/>
<circle cx="738.0" cy="1505.1" r="10.7" fill="#4DF80F"/>
<circle cx="740.7" cy="1502.7" r="12.7" fill="#9CFF00"/>
<circle cx="748.1" cy="1499.0" r="10.4" fill="#43F21C"/>
<circle cx="749.9" cy="1498.1" r="11.3" fill="#67FF00"/>
<circle cx="755.0" cy="1495.5" r="11.2" fill="#5FFF00"/>
<circle cx="757.8" cy="1494.1" r="14.4" fill="#CBFF00"/>
<circle cx="760.6" cy="1492.7" r="15.4" fill="#E6FC00"/>
<circle cx="763.5" cy="1491.1" r="17.7" fill="#FFC900"/>
<circle cx="766.3" cy="1489.5" r="10.5" fill="#46F418"/>
<circle cx="769.1" cy="1487.9" r="16.8" fill="#FFE900"/>
<circle cx="772.5" cy="1486.0" r="10.5" fill="#48F515"/>
<circle cx="781.0" cy="1481.1" r="9.8" fill="#4AE63F"/>
<circle cx="783.5" cy="1479.7" r="11.3" fill="#66FF00"/>
<circle cx="786.0" cy="1478.3" r="11.5" fill="#6FFF00"/>
<circle cx="788.5" cy="1477.2" r="10.2" fill="#41EF24"/>
<circle cx="791.0" cy="1476.2" r="12.4" fill="#96FF00"/>
<circle cx="797.9" cy="1473.4" r="11.5" fill="#71FF00"/>
<circle cx="800.5" cy="1472.4" r="15.5" fill="#EBFB00"/>
<circle cx="803.0" cy="1471.3" r="13.8" fill="#B9FF00"/>
<circle cx="805.5" cy="1470.3" r="15.1" fill="#DFFD00"/>
<circle cx="808.0" cy="1469.3" r="12.2" fill="#90FF00"/>
<circle cx="810.6" cy="1468.3" r="12.9" fill="#A2FF00"/>
<circle cx="815.4" cy="1466.4" r="13.3" fill="#ABFF00"/>
<circle cx="819.0" cy="1464.9" r="9.8" fill="#4AE63F"/>
<circle cx="821.9" cy="1463.7" r="14.4" fill="#CCFF00"/>
<circle cx="824.9" cy="1462.8" r="12.7" fill="#9DFF00"/>
<circle cx="831.8" cy="1461.5" r="11.1" fill="#5EFF00"/>
<circle cx="834.7" cy="1460.9" r="16.4" fill="#FCF200"/>
<circle cx="839.0" cy="1460.1" r="12.7" fill="#9BFF00"/>
<circle cx="841.4" cy="1459.7" r="12.8" fill="#A0FF00"/>
<circle cx="843.9" cy="1459.2" r="10.0" fill="#46EA31"/>
<circle cx="846.3" cy="1458.7" r="11.4" fill="#6DFF00"/>
<circle cx="854.1" cy="1456.6" r="12.5" fill="#98FF00"/>
<circle cx="856.6" cy="1453.8" r="15.8" fill="#F2F900"/>
<circle cx="859.1" cy="1451.0" r="10.0" fill="#47E934"/>
<circle cx="861.6" cy="1448.2" r="9.9" fill="#49E73A"/>
<circle cx="864.1" cy="1445.4" r="9.9" fill="#49E73A"/>
<circle cx="866.6" cy="1442.6" r="10.2" fill="#42EE25"/>
<circle cx="869.1" cy="1441.5" r="13.8" fill="#B8FF00"/>
<circle cx="884.4" cy="1454.0" r="12.9" fill="#A1FF00"/>
<circle cx="897.5" cy="1464.7" r="10.7" fill="#4FF90D"/>
<circle cx="903.8" cy="1461.7" r="10.4" fill="#43F21C"/>
<circle cx="906.6" cy="1460.3" r="10.3" fill="#41EF22"/>
<circle cx="909.4" cy="1459.0" r="16.2" fill="#F9F400"/>
<circle cx="912.2" cy="1457.6" r="13.3" fill="#ABFF00"/>
<circle cx="915.6" cy="1455.8" r="14.6" fill="#D0FF00"/>
<circle cx="924.9" cy="1451.2" r="10.2" fill="#42EE26"/>
<circle cx="927.6" cy="1450.0" r="10.6" fill="#4AF613"/>
<circle cx="930.3" cy="1450.2" r="17.1" fill="#FFDF00"/>
<circle cx="932.9" cy="1450.4" r="14.2" fill="#C6FF00"/>
<circle cx="937.7" cy="1450.7" r="11.1" fill="#5BFF00"/>
<circle cx="939.1" cy="1450.8" r="15.0" fill="#DBFD00"/>
<circle cx="944.2" cy="1451.1" r="12.1" fill="#8BFF00"/>
<circle cx="946.6" cy="1451.2" r="11.5" fill="#6FFF00"/>
<circle cx="949.1" cy="1451.4" r="15.6" fill="#ECFB00"/>
<circle cx="955.2" cy="1451.8" r="16.4" fill="#FBF200"/>
<circle cx="960.3" cy="1452.5" r="10.0" fill="#46EA32"/>
<circle cx="965.0" cy="1453.3" r="13.4" fill="#ADFF00"/>
<circle cx="967.6" cy="1453.7" r="15.4" fill="#E7FB00"/>
<circle cx="975.3" cy="1455.0" r="13.5" fill="#B1FF00"/>
<circle cx="978.4" cy="1455.5" r="13.1" fill="#A7FF00"/>
<circle cx="981.4" cy="1454.8" r="11.2" fill="#62FF00"/>
<circle cx="983.0" cy="1454.3" r="11.5" fill="#6EFF00"/>
<circle cx="989.1" cy="1452.2" r="12.7" fill="#9CFF00"/>
<circle cx="991.7" cy="1451.4" r="10.2" fill="#42EE25"/>
<circle cx="994.2" cy="1450.5" r="13.4" fill="#AEFF00"/>
<circle cx="1001.9" cy="1448.0" r="9.9" fill="#4AE63D"/>
<circle cx="1004.5" cy="1447.1" r="13.2" fill="#A8FF00"/>
<circle cx="1007.2" cy="1446.2" r="10.2" fill="#43ED29"/>
<circle cx="1009.8" cy="1445.3" r="12.1" fill="#8CFF00"/>
<circle cx="1012.5" cy="1444.5" r="10.6" fill="#4BF712"/>
<circle cx="1015.1" cy="1443.6" r="16.8" fill="#FFE700"/>
<circle cx="1017.7" cy="1442.7" r="15.0" fill="#DCFD00"/>
<circle cx="1020.4" cy="1441.8" r="10.2" fill="#42EE26"/>
<circle cx="1023.0" cy="1441.0" r="16.9" fill="#FFE400"/>
<circle cx="1031.8" cy="1440.3" r="9.8" fill="#4CE443"/>
<circle cx="1033.8" cy="1441.2" r="13.4" fill="#ADFF00"/>
<circle cx="1035.9" cy="1442.2" r="10.2" fill="#42EE25"/>
<circle cx="1045.9" cy="1446.7" r="13.8" fill="#BAFF00"/>
<circle cx="1049.5" cy="1448.2" r="9.8" fill="#4BE541"/>
<circle cx="1053.0" cy="1448.5" r="10.5" fill="#48F515"/>
<circle cx="1055.2" cy="1448.6" r="12.5" fill="#97FF00"/>
<circle cx="1057.5" cy="1448.8" r="13.5" fill="#B0FF00"/>
<circle cx="1063.0" cy="1449.2" r="12.5" fill="#97FF00"/>
<circle cx="1065.9" cy="1449.4" r="16.5" fill="#FDF100"/>
<circle cx="1069.0" cy="1449.6" r="14.6" fill="#D1FF00"/>
<circle cx="1072.4" cy="1449.8" r="11.2" fill="#60FF00"/>
<circle cx="1076.7" cy="1450.9" r="11.5" fill="#71FF00"/>
<circle cx="1086.7" cy="1455.9" r="12.4" fill="#96FF00"/>
<circle cx="1088.8" cy="1456.9" r="10.5" fill="#48F516"/>
<circle cx="1090.9" cy="1457.9" r="13.9" fill="#BBFF00"/>
<circle cx="1098.4" cy="1460.9" r="10.5" fill="#46F418"/>
<circle cx="1101.1" cy="1460.5" r="11.6" fill="#73FF00"/>
<circle cx="1103.7" cy="1460.1" r="9.8" fill="#4AE63F"/>
<circle cx="1106.4" cy="1459.7" r="10.5" fill="#46F418"/>
<circle cx="1109.1" cy="1459.3" r="15.7" fill="#EEFA00"/>
<circle cx="1111.7" cy="1458.9" r="14.0" fill="#BEFF00"/>
<circle cx="1114.4" cy="1458.5" r="14.7" fill="#D5FE00"/>
<circle cx="1117.1" cy="1458.1" r="11.5" fill="#6FFF00"/>
<circle cx="1121.8" cy="1457.4" r="12.1" fill="#8EFF00"/>
<circle cx="1124.1" cy="1457.1" r="12.8" fill="#9FFF00"/>
<circle cx="1126.3" cy="1456.8" r="10.4" fill="#42F11D"/>
<circle cx="1131.1" cy="1456.1" r="9.7" fill="#4CE445"/>
<circle cx="1133.6" cy="1455.7" r="10.4" fill="#44F21B"/>
<circle cx="1136.0" cy="1455.6" r="16.2" fill="#F9F400"/>
<circle cx="1138.5" cy="1455.6" r="16.3" fill="#FBF300"/>
<circle cx="1141.0" cy="1455.6" r="11.3" fill="#65FF00"/>
<circle cx="1143.5" cy="1455.6" r="14.9" fill="#DAFD00"/>
<circle cx="1146.0" cy="1455.6" r="10.6" fill="#4BF711"/>
<circle cx="1149.1" cy="1455.6" r="11.5" fill="#6EFF00"/>
<circle cx="1154.9" cy="1455.6" r="10.4" fill="#44F31A"/>
<circle cx="1158.0" cy="1455.6" r="14.3" fill="#C7FF00"/>
<circle cx="1164.2" cy="1457.3" r="17.7" fill="#FFC900"/>
<circle cx="1165.7" cy="1458.0" r="12.2" fill="#8FFF00"/>
<circle cx="1172.9" cy="1461.0" r="9.9" fill="#4AE63E"/>
<circle cx="1175.6" cy="1462.0" r="14.6" fill="#D2FF00"/>
<circle cx="1181.1" cy="1464.3" r="13.8" fill="#B9FF00"/>
<circle cx="1184.0" cy="1463.0" r="10.3" fill="#41EF23"/>
<circle cx="1186.9" cy="1460.0" r="16.8" fill="#FFE800"/>
<circle cx="1189.9" cy="1457.1" r="11.1" fill="#5CFF00"/>
<circle cx="1192.9" cy="1454.0" r="10.3" fill="#41EF22"/>
<circle cx="1196.0" cy="1450.9" r="11.2" fill="#5FFF00"/>
<circle cx="1199.6" cy="1447.3" r="15.2" fill="#E3FC00"/>
<circle cx="1202.2" cy="1447.1" r="14.2" fill="#C7FF00"/>
<circle cx="1207.0" cy="1449.5" r="10.6" fill="#4BF711"/>
<circle cx="1212.8" cy="1452.4" r="17.2" fill="#FFDB00"/>
<circle cx="1218.0" cy="1455.1" r="10.2" fill="#42EE26"/>
<circle cx="1220.5" cy="1454.0" r="10.7" fill="#4DF80F"/>
<circle cx="1223.0" cy="1451.2" r="14.5" fill="#CEFF00"/>
<circle cx="1225.5" cy="1448.4" r="15.4" fill="#E7FB00"/>
<circle cx="1228.0" cy="1445.6" r="15.5" fill="#E9FB00"/>
<circle cx="1230.5" cy="1442.8" r="12.7" fill="#9DFF00"/>
<circle cx="1233.0" cy="1440.0" r="10.4" fill="#44F31A"/>
<circle cx="1236.5" cy="1437.4" r="12.2" fill="#91FF00"/>
<circle cx="1239.4" cy="1435.7" r="11.2" fill="#5FFF00"/>
<circle cx="1242.2" cy="1434.0" r="9.9" fill="#4AE63D"/>
<circle cx="1246.2" cy="1431.6" r="18.7" fill="#FFA900"/>
<circle cx="1248.8" cy="1430.0" r="11.6" fill="#73FF00"/>
<circle cx="1251.4" cy="1428.5" r="15.8" fill="#F2F900"/>
<circle cx="1254.1" cy="1428.4" r="9.9" fill="#49E73B"/>
<circle cx="1263.1" cy="1431.1" r="10.7" fill="#4DF80F"/>
<circle cx="1265.6" cy="1431.8" r="12.9" fill="#A2FF00"/>
<circle cx="1268.0" cy="1432.6" r="10.5" fill="#48F516"/>
<circle cx="1270.4" cy="1433.3" r="13.4" fill="#ADFF00"/>
<circle cx="1277.0" cy="1433.4" r="13.7" fill="#B6FF00"/>
<circle cx="1279.0" cy="1433.4" r="12.3" fill="#93FF00"/>
<circle cx="1281.0" cy="1433.4" r="14.7" fill="#D4FE00"/>
<circle cx="1282.8" cy="1433.4" r="12.8" fill="#9FFF00"/>
<circle cx="1289.5" cy="1433.5" r="12.5" fill="#97FF00"/>
<circle cx="1291.9" cy="1434.2" r="10.2" fill="#42EE26"/>
<circle cx="1294.3" cy="1434.9" r="11.4" fill="#6BFF00"/>
<circle cx="1296.7" cy="1435.6" r="12.7" fill="#9DFF00"/>
<circle cx="1301.0" cy="1436.9" r="11.6" fill="#74FF00"/>
<circle cx="1302.4" cy="1437.4" r="12.5" fill="#98FF00"/>
<circle cx="1310.5" cy="1439.8" r="15.3" fill="#E3FC00"/>
<circle cx="1315.4" cy="1441.3" r="16.2" fill="#F8F400"/>
<circle cx="1319.0" cy="1442.3" r="13.6" fill="#B4FF00"/>
<circle cx="1323.3" cy="1443.6" r="15.7" fill="#EFFA00"/>
<circle cx="1327.2" cy="1444.1" r="10.3" fill="#40F020"/>
<circle cx="1330.0" cy="1442.6" r="10.1" fill="#44EC2D"/>
<circle cx="1332.8" cy="1441.2" r="16.8" fill="#FFE900"/>
<circle cx="1335.7" cy="1439.8" r="14.8" fill="#D7FE00"/>
<circle cx="1340.4" cy="1437.4" r="14.9" fill="#DAFD00"/>
<circle cx="1347.2" cy="1435.3" r="11.2" fill="#61FF00"/>
<circle cx="1349.5" cy="1435.3" r="14.4" fill="#CBFF00"/>
<circle cx="1356.1" cy="1435.3" r="13.3" fill="#AAFF00"/>
<circle cx="1358.7" cy="1435.3" r="10.4" fill="#45F31A"/>
<circle cx="1363.4" cy="1435.3" r="10.1" fill="#44EC2C"/>
<circle cx="1365.6" cy="1435.3" r="10.9" fill="#53FC06"/>
<circle cx="1367.9" cy="1434.9" r="12.5" fill="#97FF00"/>
<circle cx="1370.1" cy="1434.1" r="10.4" fill="#42F11D"/>
<circle cx="1374.9" cy="1432.3" r="12.4" fill="#96FF00"/>
<circle cx="1377.5" cy="1431.3" r="10.1" fill="#44EC2C"/>
<circle cx="1380.0" cy="1430.4" r="13.1" fill="#A7FF00"/>
<circle cx="1382.6" cy="1429.4" r="9.9" fill="#48E839"/>
<circle cx="1385.1" cy="1428.5" r="10.8" fill="#50FA0A"/>
<circle cx="1387.6" cy="1427.5" r="12.3" fill="#92FF00"/>
<circle cx="1390.2" cy="1426.6" r="11.0" fill="#5AFF00"/>
<circle cx="1392.7" cy="1425.6" r="10.3" fill="#40F021"/>
<circle cx="1395.3" cy="1424.7" r="11.5" fill="#71FF00"/>
<circle cx="1397.8" cy="1423.9" r="10.8" fill="#51FB09"/>
<circle cx="1402.9" cy="1422.6" r="10.5" fill="#48F516"/>
<circle cx="1405.3" cy="1422.0" r="15.8" fill="#F2F900"/>
<circle cx="1407.8" cy="1421.3" r="10.1" fill="#44EC2C"/>
<circle cx="1410.2" cy="1420.7" r="12.5" fill="#97FF00"/>
<circle cx="1412.6" cy="1420.1" r="11.4" fill="#6CFF00"/>
<circle cx="1415.0" cy="1419.5" r="11.3" fill="#65FF00"/>
<circle cx="1417.4" cy="1418.9" r="11.4" fill="#6BFF00"/>
<circle cx="1419.9" cy="1419.2" r="12.4" fill="#95FF00"/>
<circle cx="1424.7" cy="1421.7" r="10.8" fill="#50FA0A"/>
<circle cx="1431.2" cy="1424.9" r="13.8" fill="#B9FF00"/>
<circle cx="1438.2" cy="1429.8" r="10.9" fill="#55FD04"/>
<circle cx="1442.9" cy="1433.6" r="10.7" fill="#4DF80E"/>
<circle cx="1446.8" cy="1436.7" r="10.3" fill="#40F021"/>
<circle cx="1450.0" cy="1439.3" r="13.8" fill="#BAFF00"/>
<circle cx="1453.0" cy="1441.0" r="22.0" fill="#FF1800"/>
<circle cx="1455.9" cy="1441.6" r="15.8" fill="#F1F900"/>
<circle cx="1458.8" cy="1442.2" r="10.0" fill="#47E935"/>
<circle cx="1461.9" cy="1442.8" r="15.8" fill="#F1F900"/>
<circle cx="1464.3" cy="1443.3" r="12.2" fill="#90FF00"/>
<circle cx="1466.8" cy="1443.8" r="14.8" fill="#D8FE00"/>
<circle cx="1486.7" cy="1465.5" r="15.2" fill="#E2FC00"/>
<circle cx="1490.9" cy="1467.3" r="14.5" fill="#CDFF00"/>
<circle cx="1494.7" cy="1469.0" r="12.5" fill="#98FF00"/>
<circle cx="1496.4" cy="1469.7" r="11.3" fill="#67FF00"/>
<circle cx="1500.4" cy="1471.5" r="14.5" fill="#CEFF00"/>
<circle cx="1502.2" cy="1472.3" r="10.5" fill="#47F417"/>
<circle cx="1507.3" cy="1474.5" r="12.8" fill="#9FFF00"/>
<circle cx="1511.1" cy="1476.2" r="10.2" fill="#42EE26"/>
<circle cx="1514.9" cy="1477.9" r="13.8" fill="#B9FF00"/>
<circle cx="1520.9" cy="1482.1" r="10.8" fill="#51FB09"/>
<circle cx="1525.4" cy="1485.2" r="12.2" fill="#8FFF00"/>
<circle cx="1533.4" cy="1490.7" r="14.4" fill="#CBFF00"/>
<circle cx="1539.0" cy="1494.5" r="13.1" fill="#A7FF00"/>
<circle cx="1542.5" cy="1497.0" r="12.7" fill="#9CFF00"/>
<circle cx="1551.3" cy="1501.7" r="10.8" fill="#52FB08"/>
<circle cx="1553.5" cy="1502.8" r="11.0" fill="#57FE01"/>
<circle cx="1555.7" cy="1503.9" r="10.6" fill="#49F614"/>
<circle cx="1557.9" cy="1505.0" r="10.9" fill="#55FD05"/>
<circle cx="1561.0" cy="1506.5" r="12.5" fill="#98FF00"/>
<circle cx="1574.9" cy="1514.2" r="13.6" fill="#B2FF00"/>
<circle cx="1577.3" cy="1515.7" r="12.4" fill="#96FF00"/>
<circle cx="1579.6" cy="1517.1" r="18.2" fill="#FFB800"/>
<circle cx="1582.0" cy="1518.5" r="10.5" fill="#49F514"/>
<circle cx="1584.4" cy="1519.9" r="10.6" fill="#49F614"/>
<circle cx="1601.8" cy="1535.6" r="12.2" fill="#8FFF00"/>
<circle cx="1604.3" cy="1537.4" r="17.7" fill="#FFC900"/>
<circle cx="1606.7" cy="1538.6" r="13.6" fill="#B2FF00"/>
<circle cx="1611.0" cy="1540.7" r="12.2" fill="#90FF00"/>
<circle cx="1613.6" cy="1542.0" r="12.8" fill="#9FFF00"/>
<circle cx="1616.2" cy="1543.3" r="16.2" fill="#F9F400"/>
<circle cx="1618.8" cy="1544.6" r="15.8" fill="#F2F900"/>
<circle cx="1621.4" cy="1545.9" r="13.6" fill="#B4FF00"/>
<circle cx="1625.2" cy="1547.8" r="11.6" fill="#73FF00"/>
<circle cx="1628.0" cy="1549.2" r="13.9" fill="#BCFF00"/>
<circle cx="1630.8" cy="1550.5" r="14.5" fill="#CEFF00"/>
<circle cx="1633.5" cy="1551.9" r="13.8" fill="#BAFF00"/>
<circle cx="1636.3" cy="1553.3" r="10.4" fill="#44F21B"/>
<circle cx="1639.1" cy="1554.7" r="12.4" fill="#95FF00"/>
<circle cx="1646.8" cy="1558.5" r="14.7" fill="#D3FF00"/>
<circle cx="1649.2" cy="1559.7" r="14.4" fill="#CCFF00"/>
<circle cx="1651.6" cy="1560.9" r="13.8" fill="#BAFF00"/>
<circle cx="1654.0" cy="1562.2" r="10.2" fill="#41EF24"/>
<circle cx="1659.8" cy="1564.9" r="12.7" fill="#9CFF00"/>
<circle cx="1662.5" cy="1566.2" r="10.1" fill="#45EB2E"/>
<circle cx="1665.2" cy="1567.4" r="11.5" fill="#6FFF00"/>
<circle cx="1669.1" cy="1569.2" r="13.8" fill="#B8FF00"/>
<circle cx="1671.6" cy="1570.4" r="11.2" fill="#62FF00"/>
<circle cx="1674.1" cy="1571.6" r="10.7" fill="#4FF90C"/>
<circle cx="1676.7" cy="1572.8" r="12.8" fill="#9EFF00"/>
<circle cx="1679.2" cy="1573.9" r="15.1" fill="#DFFD00"/>
<circle cx="1681.7" cy="1575.5" r="13.7" fill="#B8FF00"/>
<circle cx="1684.3" cy="1577.6" r="11.6" fill="#74FF00"/>
<circle cx="1686.8" cy="1579.7" r="12.8" fill="#A0FF00"/>
<circle cx="1694.5" cy="1586.2" r="12.6" fill="#9AFF00"/>
<circle cx="1699.9" cy="1590.6" r="16.8" fill="#FFEA00"/>
<circle cx="1706.5" cy="1596.1" r="11.2" fill="#60FF00"/>
<circle cx="1709.1" cy="1598.3" r="10.1" fill="#45EB2F"/>
<circle cx="1716.0" cy="1604.2" r="12.2" fill="#90FF00"/>
<circle cx="1719.1" cy="1607.0" r="14.6" fill="#D2FF00"/>
<circle cx="1727.2" cy="1614.3" r="13.9" fill="#BDFF00"/>
<circle cx="1733.9" cy="1620.3" r="13.3" fill="#ACFF00"/>
<circle cx="1736.1" cy="1622.3" r="9.7" fill="#4CE445"/>
<circle cx="1741.1" cy="1626.8" r="10.0" fill="#46EA32"/>
<circle cx="1748.8" cy="1633.8" r="12.9" fill="#A2FF00"/>
<circle cx="1751.0" cy="1635.7" r="13.8" fill="#B8FF00"/>
<circle cx="1756.4" cy="1639.2" r="10.2" fill="#43ED29"/>
<circle cx="1763.1" cy="1643.5" r="12.1" fill="#8DFF00"/>
<circle cx="1766.8" cy="1645.9" r="10.4" fill="#44F21B"/>
<circle cx="1772.4" cy="1649.4" r="10.4" fill="#44F21B"/>
<circle cx="1774.6" cy="1650.8" r="10.8" fill="#52FB08"/>
<circle cx="1776.8" cy="1652.3" r="12.5" fill="#97FF00"/>
<circle cx="1779.0" cy="1654.2" r="19.6" fill="#FF8C00"/>
<circle cx="1781.0" cy="1655.9" r="11.5" fill="#6FFF00"/>
<circle cx="1783.9" cy="1658.3" r="10.0" fill="#46EA32"/>
<circle cx="1786.9" cy="1660.8" r="10.9" fill="#56FE03"/>
<circle cx="1789.8" cy="1663.3" r="15.5" fill="#E9FB00"/>
<circle cx="1794.1" cy="1667.0" r="10.2" fill="#41EF24"/>
<circle cx="1796.9" cy="1669.4" r="11.0" fill="#56FE02"/>
<circle cx="1799.8" cy="1671.8" r="12.7" fill="#9EFF00"/>
<circle cx="1807.2" cy="1678.1" r="12.9" fill="#A2FF00"/>
<circle cx="1811.8" cy="1682.1" r="15.4" fill="#E7FB00"/>
<circle cx="1814.3" cy="1684.2" r="11.4" fill="#6DFF00"/>
<circle cx="1816.7" cy="1686.4" r="10.7" fill="#4FF90C"/>
<circle cx="1820.6" cy="1689.9" r="10.2" fill="#42EE27"/>
<circle cx="1825.2" cy="1694.1" r="11.2" fill="#61FF00"/>
<circle cx="1827.9" cy="1696.6" r="10.8" fill="#50FA0A"/>
<circle cx="1830.6" cy="1699.0" r="14.4" fill="#CCFF00"/>
<circle cx="1836.0" cy="1703.9" r="10.9" fill="#54FC05"/>
<circle cx="1838.3" cy="1706.0" r="13.3" fill="#ABFF00"/>
<circle cx="1840.6" cy="1708.1" r="17.7" fill="#FFC900"/>
<circle cx="1844.9" cy="1712.0" r="10.3" fill="#40F020"/>
<circle cx="1847.9" cy="1714.8" r="11.4" fill="#6BFF00"/>
<circle cx="1850.9" cy="1717.5" r="13.4" fill="#AFFF00"/>
<circle cx="1854.0" cy="1720.3" r="11.3" fill="#67FF00"/>
<circle cx="1856.9" cy="1722.7" r="13.0" fill="#A3FF00"/>
<circle cx="1859.7" cy="1724.9" r="12.9" fill="#A2FF00"/>
<circle cx="1862.4" cy="1727.1" r="9.9" fill="#48E838"/>
<circle cx="1865.2" cy="1729.3" r="9.8" fill="#4BE541"/>
<circle cx="1868.0" cy="1731.5" r="11.1" fill="#5FFF00"/>
<circle cx="1876.1" cy="1738.1" r="13.7" fill="#B6FF00"/>
<circle cx="1878.5" cy="1739.9" r="12.6" fill="#9AFF00"/>
<circle cx="1880.8" cy="1741.8" r="12.9" fill="#A2FF00"/>
<circle cx="1883.2" cy="1743.7" r="13.1" fill="#A6FF00"/>
<circle cx="1885.5" cy="1745.6" r="10.9" fill="#56FE03"/>
<circle cx="1892.6" cy="1751.4" r="16.3" fill="#FBF300"/>
<circle cx="1896.0" cy="1754.5" r="14.2" fill="#C6FF00"/>
<circle cx="1900.6" cy="1758.7" r="10.2" fill="#42EE27"/>
<circle cx="1909.1" cy="1766.5" r="13.9" fill="#BBFF00"/>
<circle cx="1912.9" cy="1770.0" r="12.7" fill="#9DFF00"/>
<circle cx="1920.3" cy="1776.8" r="14.7" fill="#D5FE00"/>
<circle cx="1922.8" cy="1779.0" r="11.4" fill="#6DFF00"/>
<circle cx="1925.2" cy="1781.3" r="13.4" fill="#AEFF00"/>
<circle cx="1927.7" cy="1783.6" r="13.9" fill="#BDFF00"/>
<circle cx="1930.2" cy="1785.8" r="13.7" fill="#B5FF00"/>
<circle cx="1932.6" cy="1788.1" r="13.7" fill="#B6FF00"/>
<circle cx="1937.8" cy="1793.0" r="11.1" fill="#5DFF00"/>
<circle cx="1956.5" cy="1811.7" r="12.7" fill="#9CFF00"/>
<circle cx="1960.8" cy="1816.0" r="10.9" fill="#55FD04"/>
<circle cx="1962.9" cy="1818.1" r="11.5" fill="#6DFF00"/>
<circle cx="1965.0" cy="1820.2" r="9.8" fill="#4BE542"/>
<circle cx="1969.5" cy="1824.7" r="11.5" fill="#6FFF00"/>
<circle cx="1980.1" cy="1835.3" r="10.0" fill="#46EA33"/>
<circle cx="1985.0" cy="1840.2" r="9.8" fill="#4BE540"/>
<circle cx="1987.3" cy="1842.5" r="13.3" fill="#ABFF00"/>
<circle cx="1989.7" cy="1844.9" r="19.6" fill="#FF8C00"/>
<circle cx="1992.1" cy="1847.3" r="10.9" fill="#53FC07"/>
<circle cx="1994.5" cy="1849.7" r="11.3" fill="#65FF00"/>
<circle cx="1996.8" cy="1852.3" r="15.7" fill="#EEFA00"/>
<circle cx="2009.1" cy="1866.4" r="11.4" fill="#69FF00"/>
<circle cx="2010.7" cy="1868.2" r="15.8" fill="#F0FA00"/>
<circle cx="2014.2" cy="1872.2" r="10.1" fill="#44EC2B"/>
<circle cx="2016.1" cy="1874.3" r="9.8" fill="#4BE541"/>
<circle cx="2019.6" cy="1878.4" r="15.5" fill="#EBFB00"/>
<circle cx="2023.5" cy="1882.8" r="13.6" fill="#B4FF00"/>
<circle cx="2026.2" cy="1885.9" r="12.6" fill="#9BFF00"/>
<circle cx="2029.0" cy="1889.1" r="9.9" fill="#48E839"/>
<circle cx="2032.5" cy="1893.2" r="12.5" fill="#97FF00"/>
<circle cx="2033.9" cy="1894.7" r="10.5" fill="#48F515"/>
<circle cx="2041.3" cy="1903.2" r="10.2" fill="#42EE25"/>
<circle cx="2045.2" cy="1907.6" r="11.1" fill="#5CFF00"/>
<circle cx="2048.7" cy="1911.5" r="10.3" fill="#42F11E"/>
<circle cx="2054.9" cy="1918.3" r="16.7" fill="#FFEC00"/>
<circle cx="2056.4" cy="1920.0" r="15.2" fill="#E2FC00"/>
<circle cx="2059.9" cy="1923.9" r="10.5" fill="#48F516"/>
<circle cx="2061.3" cy="1925.4" r="11.2" fill="#61FF00"/>
<circle cx="2064.1" cy="1928.5" r="11.1" fill="#5BFF00"/>
<circle cx="2066.4" cy="1931.0" r="12.5" fill="#98FF00"/>
<circle cx="2068.7" cy="1933.6" r="14.4" fill="#CAFF00"/>
<circle cx="2078.3" cy="1944.1" r="14.5" fill="#CEFF00"/>
<circle cx="2083.9" cy="1950.3" r="10.1" fill="#44EC2C"/>
<circle cx="2087.2" cy="1954.0" r="13.9" fill="#BDFF00"/>
<circle cx="2090.3" cy="1957.6" r="10.7" fill="#4CF80F"/>
<circle cx="2096.0" cy="1964.1" r="13.6" fill="#B3FF00"/>
<circle cx="2098.7" cy="1967.2" r="10.7" fill="#4DF80F"/>
<circle cx="2101.5" cy="1970.4" r="11.3" fill="#66FF00"/>
<circle cx="2104.3" cy="1973.6" r="11.5" fill="#70FF00"/>
<circle cx="2107.0" cy="1976.7" r="10.1" fill="#43ED2A"/>
<circle cx="2109.8" cy="1980.1" r="13.0" fill="#A5FF00"/>
<circle cx="2114.9" cy="1986.8" r="10.9" fill="#56FE03"/>
<circle cx="2117.5" cy="1990.2" r="11.2" fill="#62FF00"/>
<circle cx="2120.3" cy="1993.8" r="13.6" fill="#B2FF00"/>
<circle cx="2123.7" cy="1998.3" r="12.8" fill="#9EFF00"/>
<circle cx="2129.1" cy="2005.3" r="10.5" fill="#46F418"/>
<circle cx="2133.3" cy="2010.9" r="14.3" fill="#CAFF00"/>
<path d="M292.0 2018.3 L296.5 2024.3 L296.5 2008.4 L301.8 2015.3 L301.8 1995.6 L303.9 1998.4 L303.9 1990.4 L309.2 1997.2 L309.2 1977.6 L311.6 1980.7 L311.6 1971.8 L313.9 1974.9 L313.9 1966.5 L316.3 1969.7 L316.3 1962.9 L318.7 1966.1 L318.7 1959.3 L322.9 1964.8 L322.9 1953.0 L324.4 1955.1 L324.4 1950.7 L329.3 1957.1 L329.3 1943.3 L336.9 1953.3 L336.9 1931.5 L339.3 1934.8 L339.3 1927.7 L341.8 1930.9 L341.8 1923.9 L345.7 1928.9 L345.7 1918.0 L348.9 1922.3 L348.9 1913.4 L352.1 1917.7 L352.1 1908.8 L356.4 1914.5 L356.4 1902.7 L358.5 1905.4 L358.5 1900.1 L360.6 1902.8 L360.6 1898.0 L363.7 1902.0 L363.7 1894.9 L365.7 1897.5 L365.7 1892.9 L372.1 1901.4 L372.1 1886.4 L374.3 1889.2 L374.3 1884.2 L376.4 1887.0 L376.4 1882.7 L385.4 1894.4 L385.4 1885.8 L388.0 1889.3 L388.0 1870.9 L390.7 1874.4 L390.7 1855.9 L393.3 1859.4 L393.3 1841.0 L396.0 1844.5 L396.0 1833.6 L402.2 1841.7 L402.2 1830.1 L404.9 1833.8 L404.9 1828.5 L410.4 1835.7 L410.4 1825.4 L414.0 1830.2 L414.0 1823.4 L419.2 1830.2 L419.2 1820.4 L421.7 1823.6 L421.7 1817.1 L424.2 1820.3 L424.2 1812.2 L426.6 1815.4 L426.6 1807.2 L429.1 1810.5 L429.1 1802.3 L431.6 1805.5 L431.6 1797.4 L434.0 1800.6 L434.0 1792.5 L436.5 1795.7 L436.5 1788.5 L438.9 1791.7 L438.9 1785.3 L441.4 1788.5 L441.4 1782.1 L445.3 1787.2 L445.3 1777.2 L448.0 1780.8 L448.0 1773.6 L451.9 1778.6 L451.9 1768.6 L455.0 1772.7 L455.0 1764.7 L459.9 1771.1 L459.9 1758.3 L462.6 1761.9 L462.6 1751.7 L465.3 1755.2 L465.3 1742.7 L468.0 1746.2 L468.0 1733.7 L470.7 1737.2 L470.7 1724.7 L473.3 1728.2 L473.3 1717.7 L476.0 1721.3 L476.0 1713.0 L478.7 1716.6 L478.7 1708.3 L481.4 1711.9 L481.4 1703.6 L484.1 1707.2 L484.1 1698.9 L486.8 1702.5 L486.8 1694.2 L497.2 1707.9 L497.2 1700.2 L506.1 1711.9 L506.1 1704.2 L510.7 1710.2 L510.7 1698.8 L513.0 1701.8 L513.0 1696.0 L515.3 1699.0 L515.3 1693.2 L517.6 1696.2 L517.6 1690.4 L523.8 1698.5 L523.8 1683.0 L526.4 1686.5 L526.4 1677.2 L529.0 1680.6 L529.0 1671.3 L531.0 1673.9 L531.0 1666.8 L533.3 1669.8 L533.3 1661.6 L535.6 1664.6 L535.6 1656.4 L537.9 1659.4 L537.9 1651.2 L542.1 1656.7 L542.1 1647.5 L543.6 1649.6 L543.6 1646.6 L547.3 1651.4 L547.3 1644.3 L551.5 1649.7 L551.5 1641.7 L553.7 1644.6 L553.7 1640.3 L555.9 1643.2 L555.9 1638.9 L563.6 1648.9 L563.6 1634.2 L570.3 1643.0 L570.3 1628.2 L573.1 1632.0 L573.1 1623.9 L576.0 1627.7 L576.0 1619.7 L580.0 1624.9 L580.0 1613.7 L581.3 1615.5 L581.3 1611.6 L589.5 1622.3 L589.5 1606.0 L591.3 1608.4 L591.3 1605.1 L596.4 1611.7 L596.4 1601.8 L600.3 1606.8 L600.3 1597.9 L602.8 1601.2 L602.8 1595.4 L605.3 1598.7 L605.3 1592.8 L607.8 1596.1 L607.8 1590.3 L612.1 1596.0 L612.1 1586.0 L614.7 1589.4 L614.7 1583.4 L624.1 1595.7 L624.1 1583.0 L626.4 1586.0 L626.4 1583.0 L628.7 1586.0 L628.7 1583.1 L630.9 1586.1 L630.9 1583.6 L636.3 1590.7 L636.3 1584.8 L640.8 1590.8 L640.8 1585.8 L645.3 1591.6 L645.3 1586.7 L650.2 1593.2 L650.2 1587.8 L655.2 1594.4 L655.2 1589.7 L663.1 1600.0 L663.1 1596.0 L664.5 1597.8 L664.5 1595.1 L668.0 1599.7 L668.0 1592.7 L669.9 1595.2 L669.9 1591.5 L673.3 1596.1 L673.3 1589.2 L680.8 1599.0 L680.8 1582.4 L683.3 1585.7 L683.3 1576.1 L685.8 1579.3 L685.8 1569.7 L688.3 1573.0 L688.3 1565.9 L690.8 1569.2 L690.8 1564.9 L693.3 1568.2 L693.3 1563.9 L695.8 1567.2 L695.8 1562.9 L698.3 1566.2 L698.3 1561.9 L703.4 1568.6 L703.4 1559.9 L707.5 1565.2 L707.5 1555.7 L715.7 1566.5 L715.7 1541.3 L719.6 1546.4 L719.6 1534.6 L723.6 1539.9 L723.6 1528.1 L727.3 1533.0 L727.3 1522.2 L730.0 1525.7 L730.0 1517.9 L732.6 1521.4 L732.6 1513.6 L735.3 1517.1 L735.3 1509.3 L738.0 1512.9 L738.0 1505.1 L740.7 1508.6 L740.7 1502.7 L748.1 1512.4 L748.1 1499.0 L749.9 1501.4 L749.9 1498.1 L755.0 1504.7 L755.0 1495.5 L757.8 1499.2 L757.8 1494.1 L760.6 1497.8 L760.6 1492.7 L763.5 1496.4 L763.5 1491.1 L766.3 1494.8 L766.3 1489.5 L769.1 1493.2 L769.1 1487.9 L772.5 1492.3 L772.5 1486.0 L781.0 1497.1 L781.0 1481.1 L783.5 1484.4 L783.5 1479.7 L786.0 1483.0 L786.0 1478.3 L788.5 1481.6 L788.5 1477.2 L791.0 1480.4 L791.0 1476.2 L797.9 1485.2 L797.9 1473.4 L800.5 1476.7 L800.5 1472.4 L803.0 1475.7 L803.0 1471.3 L805.5 1474.7 L805.5 1470.3 L808.0 1473.6 L808.0 1469.3 L810.6 1472.6 L810.6 1468.3 L815.4 1474.7 L815.4 1466.4 L819.0 1471.1 L819.0 1464.9 L821.9 1468.8 L821.9 1463.7 L824.9 1467.6 L824.9 1462.8 L831.8 1471.9 L831.8 1461.5 L834.7 1465.3 L834.7 1460.9 L839.0 1466.6 L839.0 1460.1 L841.4 1463.3 L841.4 1459.7 L843.9 1462.8 L843.9 1459.2 L846.3 1462.4 L846.3 1458.7 L854.1 1469.0 L854.1 1456.6 L856.6 1459.9 L856.6 1453.8 L859.1 1457.1 L859.1 1451.0 L861.6 1454.3 L861.6 1448.2 L864.1 1451.5 L864.1 1445.4 L866.6 1448.7 L866.6 1442.6 L869.1 1445.9 L869.1 1441.5 L884.4 1461.6 L884.4 1454.0 L897.5 1471.2 L897.5 1464.7 L903.8 1472.9 L903.8 1461.7 L906.6 1465.4 L906.6 1460.3 L909.4 1464.0 L909.4 1459.0 L912.2 1462.6 L912.2 1457.6 L915.6 1462.1 L915.6 1455.8 L924.9 1468.1 L924.9 1451.2 L927.6 1454.7 L927.6 1450.0 L930.3 1453.5 L930.3 1450.2 L932.9 1453.7 L932.9 1450.4 L937.7 1456.6 L937.7 1450.7 L939.1 1452.5 L939.1 1450.8 L944.2 1457.4 L944.2 1451.1 L946.6 1454.3 L946.6 1451.2 L949.1 1454.5 L949.1 1451.4 L955.2 1459.4 L955.2 1451.8 L960.3 1458.5 L960.3 1452.5 L965.0 1458.6 L965.0 1453.3 L967.6 1456.7 L967.6 1453.7 L975.3 1463.8 L975.3 1455.0 L978.4 1459.0 L978.4 1455.5 L981.4 1459.5 L981.4 1454.8 L983.0 1456.8 L983.0 1454.3 L989.1 1462.4 L989.1 1452.2 L991.7 1455.6 L991.7 1451.4 L994.2 1454.7 L994.2 1450.5 L1001.9 1460.6 L1001.9 1448.0 L1004.5 1451.4 L1004.5 1447.1 L1007.2 1450.5 L1007.2 1446.2 L1009.8 1449.7 L1009.8 1445.3 L1012.5 1448.8 L1012.5 1444.5 L1015.1 1447.9 L1015.1 1443.6 L1017.7 1447.0 L1017.7 1442.7 L1020.4 1446.2 L1020.4 1441.8 L1023.0 1445.3 L1023.0 1441.0 L1031.8 1452.5 L1031.8 1440.3 L1033.8 1443.0 L1033.8 1441.2 L1035.9 1444.0 L1035.9 1442.2 L1045.9 1455.3 L1045.9 1446.7 L1049.5 1451.4 L1049.5 1448.2 L1053.0 1452.9 L1053.0 1448.5 L1055.2 1451.4 L1055.2 1448.6 L1057.5 1451.6 L1057.5 1448.8 L1063.0 1456.0 L1063.0 1449.2 L1065.9 1453.0 L1065.9 1449.4 L1069.0 1453.4 L1069.0 1449.6 L1072.4 1454.0 L1072.4 1449.8 L1076.7 1455.5 L1076.7 1450.9 L1086.7 1464.0 L1086.7 1455.9 L1088.8 1458.6 L1088.8 1456.9 L1090.9 1459.6 L1090.9 1457.9 L1098.4 1467.8 L1098.4 1460.9 L1101.1 1464.4 L1101.1 1460.5 L1103.7 1464.0 L1103.7 1460.1 L1106.4 1463.6 L1106.4 1459.7 L1109.1 1463.2 L1109.1 1459.3 L1111.7 1462.8 L1111.7 1458.9 L1114.4 1462.4 L1114.4 1458.5 L1117.1 1462.0 L1117.1 1458.1 L1121.8 1464.4 L1121.8 1457.4 L1124.1 1460.4 L1124.1 1457.1 L1126.3 1460.0 L1126.3 1456.8 L1131.1 1463.0 L1131.1 1456.1 L1133.6 1459.3 L1133.6 1455.7 L1136.0 1459.0 L1136.0 1455.6 L1138.5 1458.9 L1138.5 1455.6 L1141.0 1458.9 L1141.0 1455.6 L1143.5 1458.9 L1143.5 1455.6 L1146.0 1458.9 L1146.0 1455.6 L1149.1 1459.6 L1149.1 1455.6 L1154.9 1463.3 L1154.9 1455.6 L1158.0 1459.6 L1158.0 1455.6 L1164.2 1463.7 L1164.2 1457.3 L1165.7 1459.3 L1165.7 1458.0 L1172.9 1467.5 L1172.9 1461.0 L1175.6 1464.4 L1175.6 1462.0 L1181.1 1469.3 L1181.1 1464.3 L1184.0 1468.2 L1184.0 1463.0 L1186.9 1466.8 L1186.9 1460.0 L1189.9 1463.9 L1189.9 1457.1 L1192.9 1461.1 L1192.9 1454.0 L1196.0 1458.0 L1196.0 1450.9 L1199.6 1455.5 L1199.6 1447.3 L1202.2 1450.8 L1202.2 1447.1 L1207.0 1453.5 L1207.0 1449.5 L1212.8 1457.1 L1212.8 1452.4 L1218.0 1459.3 L1218.0 1455.1 L1220.5 1458.3 L1220.5 1454.0 L1223.0 1457.3 L1223.0 1451.2 L1225.5 1454.5 L1225.5 1448.4 L1228.0 1451.7 L1228.0 1445.6 L1230.5 1448.9 L1230.5 1442.8 L1233.0 1446.1 L1233.0 1440.0 L1236.5 1444.7 L1236.5 1437.4 L1239.4 1441.2 L1239.4 1435.7 L1242.2 1439.5 L1242.2 1434.0 L1246.2 1439.3 L1246.2 1431.6 L1248.8 1435.0 L1248.8 1430.0 L1251.4 1433.5 L1251.4 1428.5 L1254.1 1431.9 L1254.1 1428.4 L1263.1 1440.3 L1263.1 1431.1 L1265.6 1434.3 L1265.6 1431.8 L1268.0 1435.0 L1268.0 1432.6 L1270.4 1435.7 L1270.4 1433.3 L1277.0 1442.0 L1277.0 1433.4 L1279.0 1436.0 L1279.0 1433.4 L1281.0 1436.0 L1281.0 1433.4 L1282.8 1435.8 L1282.8 1433.4 L1289.5 1442.1 L1289.5 1433.5 L1291.9 1436.6 L1291.9 1434.2 L1294.3 1437.3 L1294.3 1434.9 L1296.7 1438.1 L1296.7 1435.6 L1301.0 1441.3 L1301.0 1436.9 L1302.4 1438.8 L1302.4 1437.4 L1310.5 1448.0 L1310.5 1439.8 L1315.4 1446.3 L1315.4 1441.3 L1319.0 1446.0 L1319.0 1442.3 L1323.3 1447.9 L1323.3 1443.6 L1327.2 1448.7 L1327.2 1444.1 L1330.0 1447.8 L1330.0 1442.6 L1332.8 1446.4 L1332.8 1441.2 L1335.7 1444.9 L1335.7 1439.8 L1340.4 1446.1 L1340.4 1437.4 L1347.2 1446.3 L1347.2 1435.3 L1349.5 1438.3 L1349.5 1435.3 L1356.1 1444.0 L1356.1 1435.3 L1358.7 1438.7 L1358.7 1435.3 L1363.4 1441.4 L1363.4 1435.3 L1365.6 1438.3 L1365.6 1435.3 L1367.9 1438.3 L1367.9 1434.9 L1370.1 1437.9 L1370.1 1434.1 L1374.9 1440.3 L1374.9 1432.3 L1377.5 1435.6 L1377.5 1431.3 L1380.0 1434.7 L1380.0 1430.4 L1382.6 1433.7 L1382.6 1429.4 L1385.1 1432.8 L1385.1 1428.5 L1387.6 1431.8 L1387.6 1427.5 L1390.2 1430.9 L1390.2 1426.6 L1392.7 1429.9 L1392.7 1425.6 L1395.3 1429.0 L1395.3 1424.7 L1397.8 1428.0 L1397.8 1423.9 L1402.9 1430.5 L1402.9 1422.6 L1405.3 1425.7 L1405.3 1422.0 L1407.8 1425.1 L1407.8 1421.3 L1410.2 1424.5 L1410.2 1420.7 L1412.6 1423.9 L1412.6 1420.1 L1415.0 1423.3 L1415.0 1419.5 L1417.4 1422.7 L1417.4 1418.9 L1419.9 1422.1 L1419.9 1419.2 L1424.7 1425.6 L1424.7 1421.7 L1431.2 1430.2 L1431.2 1424.9 L1438.2 1434.0 L1438.2 1429.8 L1442.9 1436.1 L1442.9 1433.6 L1446.8 1438.7 L1446.8 1436.7 L1450.0 1441.0 L1450.0 1439.3 L1453.0 1443.1 L1453.0 1441.0 L1455.9 1444.8 L1455.9 1441.6 L1458.8 1445.4 L1458.8 1442.2 L1461.9 1446.2 L1461.9 1442.8 L1464.3 1446.0 L1464.3 1443.3 L1466.8 1446.5 L1466.8 1443.8 L1486.7 1469.8 L1486.7 1465.5 L1490.9 1471.0 L1490.9 1467.3 L1494.7 1472.3 L1494.7 1469.0 L1496.4 1471.2 L1496.4 1469.7 L1500.4 1475.0 L1500.4 1471.5 L1502.2 1473.9 L1502.2 1472.3 L1507.3 1479.0 L1507.3 1474.5 L1511.1 1479.6 L1511.1 1476.2 L1514.9 1481.2 L1514.9 1477.9 L1520.9 1485.8 L1520.9 1482.1 L1525.4 1487.9 L1525.4 1485.2 L1533.4 1495.7 L1533.4 1490.7 L1539.0 1498.0 L1539.0 1494.5 L1542.5 1499.2 L1542.5 1497.0 L1551.3 1508.5 L1551.3 1501.7 L1553.5 1504.6 L1553.5 1502.8 L1555.7 1505.7 L1555.7 1503.9 L1557.9 1506.8 L1557.9 1505.0 L1561.0 1509.0 L1561.0 1506.5 L1574.9 1524.7 L1574.9 1514.2 L1577.3 1517.4 L1577.3 1515.7 L1579.6 1518.8 L1579.6 1517.1 L1582.0 1520.2 L1582.0 1518.5 L1584.4 1521.6 L1584.4 1519.9 L1601.8 1542.7 L1601.8 1535.6 L1604.3 1538.8 L1604.3 1537.4 L1606.7 1540.6 L1606.7 1538.6 L1611.0 1544.3 L1611.0 1540.7 L1613.6 1544.1 L1613.6 1542.0 L1616.2 1545.4 L1616.2 1543.3 L1618.8 1546.7 L1618.8 1544.6 L1621.4 1548.0 L1621.4 1545.9 L1625.2 1550.9 L1625.2 1547.8 L1628.0 1551.4 L1628.0 1549.2 L1630.8 1552.8 L1630.8 1550.5 L1633.5 1554.2 L1633.5 1551.9 L1636.3 1555.5 L1636.3 1553.3 L1639.1 1556.9 L1639.1 1554.7 L1646.8 1564.8 L1646.8 1558.5 L1649.2 1561.7 L1649.2 1559.7 L1651.6 1562.9 L1651.6 1560.9 L1654.0 1564.1 L1654.0 1562.2 L1659.8 1569.8 L1659.8 1564.9 L1662.5 1568.5 L1662.5 1566.2 L1665.2 1569.7 L1665.2 1567.4 L1669.1 1572.5 L1669.1 1569.2 L1671.6 1572.5 L1671.6 1570.4 L1674.1 1573.7 L1674.1 1571.6 L1676.7 1574.9 L1676.7 1572.8 L1679.2 1576.1 L1679.2 1573.9 L1681.7 1577.3 L1681.7 1575.5 L1684.3 1578.9 L1684.3 1577.6 L1686.8 1581.0 L1686.8 1579.7 L1694.5 1589.8 L1694.5 1586.2 L1699.9 1593.2 L1699.9 1590.6 L1706.5 1599.3 L1706.5 1596.1 L1709.1 1599.6 L1709.1 1598.3 L1716.0 1607.4 L1716.0 1604.2 L1719.1 1608.3 L1719.1 1607.0 L1727.2 1617.6 L1727.2 1614.3 L1733.9 1623.1 L1733.9 1620.3 L1736.1 1623.2 L1736.1 1622.3 L1741.1 1628.9 L1741.1 1626.8 L1748.8 1637.0 L1748.8 1633.8 L1751.0 1636.6 L1751.0 1635.7 L1756.4 1642.9 L1756.4 1639.2 L1763.1 1648.0 L1763.1 1643.5 L1766.8 1648.4 L1766.8 1645.9 L1772.4 1653.1 L1772.4 1649.4 L1774.6 1652.3 L1774.6 1650.8 L1776.8 1653.7 L1776.8 1652.3 L1779.0 1655.2 L1779.0 1654.2 L1781.0 1656.8 L1781.0 1655.9 L1783.9 1659.7 L1783.9 1658.3 L1786.9 1662.2 L1786.9 1660.8 L1789.8 1664.7 L1789.8 1663.3 L1794.1 1669.0 L1794.1 1667.0 L1796.9 1670.7 L1796.9 1669.4 L1799.8 1673.2 L1799.8 1671.8 L1807.2 1681.5 L1807.2 1678.1 L1811.8 1684.2 L1811.8 1682.1 L1814.3 1685.3 L1814.3 1684.2 L1816.7 1687.4 L1816.7 1686.4 L1820.6 1691.5 L1820.6 1689.9 L1825.2 1696.0 L1825.2 1694.1 L1827.9 1697.7 L1827.9 1696.6 L1830.6 1700.1 L1830.6 1699.0 L1836.0 1706.1 L1836.0 1703.9 L1838.3 1707.0 L1838.3 1706.0 L1840.6 1709.1 L1840.6 1708.1 L1844.9 1713.8 L1844.9 1712.0 L1847.9 1716.0 L1847.9 1714.8 L1850.9 1718.8 L1850.9 1717.5 L1854.0 1721.5 L1854.0 1720.3 L1856.9 1724.1 L1856.9 1722.7 L1859.7 1726.3 L1859.7 1724.9 L1862.4 1728.5 L1862.4 1727.1 L1865.2 1730.7 L1865.2 1729.3 L1868.0 1733.0 L1868.0 1731.5 L1876.1 1742.2 L1876.1 1738.1 L1878.5 1741.1 L1878.5 1739.9 L1880.8 1743.0 L1880.8 1741.8 L1883.2 1744.9 L1883.2 1743.7 L1885.5 1746.8 L1885.5 1745.6 L1892.6 1754.9 L1892.6 1751.4 L1896.0 1755.8 L1896.0 1754.5 L1900.6 1760.6 L1900.6 1758.7 L1909.1 1769.8 L1909.1 1766.5 L1912.9 1771.5 L1912.9 1770.0 L1920.3 1779.7 L1920.3 1776.8 L1922.8 1780.0 L1922.8 1779.0 L1925.2 1782.3 L1925.2 1781.3 L1927.7 1784.5 L1927.7 1783.6 L1930.2 1786.8 L1930.2 1785.8 L1932.6 1789.1 L1932.6 1788.1 L1937.8 1794.8 L1937.8 1793.0 L1956.5 1817.5 L1956.5 1811.7 L1960.8 1817.3 L1960.8 1816.0 L1962.9 1818.7 L1962.9 1818.1 L1965.0 1820.8 L1965.0 1820.2 L1969.5 1826.1 L1969.5 1824.7 L1980.1 1838.6 L1980.1 1835.3 L1985.0 1841.7 L1985.0 1840.2 L1987.3 1843.3 L1987.3 1842.5 L1989.7 1845.7 L1989.7 1844.9 L1992.1 1848.0 L1992.1 1847.3 L1994.5 1850.4 L1994.5 1849.7 L1996.8 1852.8 L1996.8 1852.3 L2009.1 1868.5 L2009.1 1866.4 L2010.7 1868.4 L2010.7 1868.2 L2014.2 1872.8 L2014.2 1872.2 L2016.1 1874.6 L2016.1 1874.3 L2019.6 1879.0 L2019.6 1878.4 L2023.5 1883.4 L2023.5 1882.8 L2026.2 1886.4 L2026.2 1885.9 L2029.0 1889.6 L2029.0 1889.1 L2032.5 1893.8 L2032.5 1893.2 L2033.9 1895.0 L2033.9 1894.7 L2041.3 1904.4 L2041.3 1903.2 L2045.2 1908.2 L2045.2 1907.6 L2048.7 1912.2 L2048.7 1911.5 L2054.9 1919.6 L2054.9 1918.3 L2056.4 1920.3 L2056.4 1920.0 L2059.9 1924.6 L2059.9 1923.9 L2061.3 1925.7 L2061.3 1925.4 L2064.1 1929.1 L2064.1 1928.5 L2066.4 1931.5 L2066.4 1931.0 L2068.7 1934.0 L2068.7 1933.6 L2078.3 1946.1 L2078.3 1944.1 L2083.9 1951.4 L2083.9 1950.3 L2087.2 1954.6 L2087.2 1954.0 L2090.3 1958.1 L2090.3 1957.6 L2096.0 1965.0 L2096.0 1964.1 L2098.7 1967.7 L2098.7 1967.2 L2101.5 1970.9 L2101.5 1970.4 L2104.3 1974.0 L2104.3 1973.6 L2107.0 1977.2 L2107.0 1976.7 L2109.8 1980.4 L2109.8 1980.1 L2114.9 1986.8 L2114.9 1986.8 L2117.5 1990.2 L2117.5 1990.2 L2120.3 1993.8 L2120.3 1993.8 L2123.7 1998.3 L2123.7 1998.3 L2129.1 2005.3 L2129.1 2005.3 L2133.3 2010.9 L2133.3 2010.9 L2134.5 2012.5" fill="none" stroke="#BEBEBE" stroke-width="6" stroke-linejoin="round"/>
<line x1="200.0" y1="2018.3" x2="2226.0" y2="2018.3" stroke="#000" stroke-width="6"/>
<path d="M296.5 1980.6V2056.0M302.0 1980.6V2056.0M303.7 1980.6V2056.0M309.4 1980.6V2056.0M311.7 1980.6V2056.0M313.9 1980.6V2056.0M316.2 1980.6V2056.0M318.5 1980.6V2056.0M323.6 1980.6V2056.0M329.3 1980.6V2056.0M337.1 1980.6V2056.0M339.3 1980.6V2056.0M341.6 1980.6V2056.0M345.9 1980.6V2056.0M348.9 1980.6V2056.0M351.9 1980.6V2056.0M356.6 1980.6V2056.0M360.4 1980.6V2056.0M363.9 1980.6V2056.0M365.5 1980.6V2056.0M372.3 1980.6V2056.0M374.3 1980.6V2056.0M376.2 1980.6V2056.0M385.6 1980.6V2056.0M388.1 1980.6V2056.0M390.7 1980.6V2056.0M393.2 1980.6V2056.0M395.8 1980.6V2056.0M402.4 1980.6V2056.0M404.7 1980.6V2056.0M410.4 1980.6V2056.0M414.0 1980.6V2056.0M419.4 1980.6V2056.0M422.2 1980.6V2056.0M424.9 1980.6V2056.0M427.6 1980.6V2056.0M430.3 1980.6V2056.0M433.0 1980.6V2056.0M435.8 1980.6V2056.0M438.5 1980.6V2056.0M441.2 1980.6V2056.0M445.5 1980.6V2056.0M447.8 1980.6V2056.0M452.1 1980.6V2056.0M454.8 1980.6V2056.0M460.1 1980.6V2056.0M462.7 1980.6V2056.0M465.4 1980.6V2056.0M468.0 1980.6V2056.0M470.7 1980.6V2056.0M473.3 1980.6V2056.0M476.0 1980.6V2056.0M478.7 1980.6V2056.0M481.3 1980.6V2056.0M484.0 1980.6V2056.0M486.6 1980.6V2056.0M497.2 1980.6V2056.0M506.1 1980.6V2056.0M510.9 1980.6V2056.0M513.1 1980.6V2056.0M515.2 1980.6V2056.0M517.4 1980.6V2056.0M524.0 1980.6V2056.0M526.4 1980.6V2056.0M528.8 1980.6V2056.0M531.2 1980.6V2056.0M533.4 1980.6V2056.0M535.6 1980.6V2056.0M537.7 1980.6V2056.0M542.9 1980.6V2056.0M547.3 1980.6V2056.0M551.7 1980.6V2056.0M553.7 1980.6V2056.0M555.7 1980.6V2056.0M563.6 1980.6V2056.0M570.5 1980.6V2056.0M573.1 1980.6V2056.0M575.8 1980.6V2056.0M580.6 1980.6V2056.0M589.7 1980.6V2056.0M591.1 1980.6V2056.0M596.4 1980.6V2056.0M600.5 1980.6V2056.0M602.9 1980.6V2056.0M605.2 1980.6V2056.0M607.6 1980.6V2056.0M612.3 1980.6V2056.0M614.5 1980.6V2056.0M624.3 1980.6V2056.0M627.5 1980.6V2056.0M630.7 1980.6V2056.0M636.3 1980.6V2056.0M640.8 1980.6V2056.0M645.3 1980.6V2056.0M650.2 1980.6V2056.0M655.2 1980.6V2056.0M663.8 1980.6V2056.0M668.2 1980.6V2056.0M669.7 1980.6V2056.0M673.3 1980.6V2056.0M681.0 1980.6V2056.0M683.4 1980.6V2056.0M685.9 1980.6V2056.0M688.3 1980.6V2056.0M690.8 1980.6V2056.0M693.2 1980.6V2056.0M695.7 1980.6V2056.0M698.1 1980.6V2056.0M703.4 1980.6V2056.0M707.5 1980.6V2056.0M715.9 1980.6V2056.0M719.4 1980.6V2056.0M723.6 1980.6V2056.0M727.5 1980.6V2056.0M730.1 1980.6V2056.0M732.7 1980.6V2056.0M735.3 1980.6V2056.0M737.9 1980.6V2056.0M740.5 1980.6V2056.0M748.3 1980.6V2056.0M749.7 1980.6V2056.0M755.2 1980.6V2056.0M757.9 1980.6V2056.0M760.7 1980.6V2056.0M763.4 1980.6V2056.0M766.2 1980.6V2056.0M768.9 1980.6V2056.0M772.5 1980.6V2056.0M781.2 1980.6V2056.0M783.6 1980.6V2056.0M786.0 1980.6V2056.0M788.4 1980.6V2056.0M790.8 1980.6V2056.0M798.1 1980.6V2056.0M800.6 1980.6V2056.0M803.0 1980.6V2056.0M805.5 1980.6V2056.0M807.9 1980.6V2056.0M810.4 1980.6V2056.0M815.4 1980.6V2056.0M819.2 1980.6V2056.0M821.9 1980.6V2056.0M824.7 1980.6V2056.0M832.0 1980.6V2056.0M834.5 1980.6V2056.0M839.2 1980.6V2056.0M841.5 1980.6V2056.0M843.8 1980.6V2056.0M846.1 1980.6V2056.0M854.3 1980.6V2056.0M856.7 1980.6V2056.0M859.2 1980.6V2056.0M861.6 1980.6V2056.0M864.0 1980.6V2056.0M866.4 1980.6V2056.0M868.9 1980.6V2056.0M884.4 1980.6V2056.0M897.5 1980.6V2056.0M904.0 1980.6V2056.0M906.7 1980.6V2056.0M909.3 1980.6V2056.0M912.0 1980.6V2056.0M915.6 1980.6V2056.0M925.1 1980.6V2056.0M927.7 1980.6V2056.0M930.2 1980.6V2056.0M932.7 1980.6V2056.0M938.4 1980.6V2056.0M944.4 1980.6V2056.0M946.6 1980.6V2056.0M948.9 1980.6V2056.0M955.2 1980.6V2056.0M960.3 1980.6V2056.0M965.2 1980.6V2056.0M967.4 1980.6V2056.0M975.5 1980.6V2056.0M978.2 1980.6V2056.0M982.2 1980.6V2056.0M989.3 1980.6V2056.0M991.7 1980.6V2056.0M994.0 1980.6V2056.0M1002.1 1980.6V2056.0M1004.7 1980.6V2056.0M1007.3 1980.6V2056.0M1009.9 1980.6V2056.0M1012.5 1980.6V2056.0M1015.0 1980.6V2056.0M1017.6 1980.6V2056.0M1020.2 1980.6V2056.0M1022.8 1980.6V2056.0M1032.0 1980.6V2056.0M1035.7 1980.6V2056.0M1045.9 1980.6V2056.0M1049.5 1980.6V2056.0M1053.2 1980.6V2056.0M1055.2 1980.6V2056.0M1057.3 1980.6V2056.0M1063.2 1980.6V2056.0M1065.7 1980.6V2056.0M1069.2 1980.6V2056.0M1072.2 1980.6V2056.0M1076.7 1980.6V2056.0M1086.9 1980.6V2056.0M1090.7 1980.6V2056.0M1098.6 1980.6V2056.0M1101.2 1980.6V2056.0M1103.8 1980.6V2056.0M1106.4 1980.6V2056.0M1109.0 1980.6V2056.0M1111.6 1980.6V2056.0M1114.3 1980.6V2056.0M1116.9 1980.6V2056.0M1122.0 1980.6V2056.0M1124.1 1980.6V2056.0M1126.1 1980.6V2056.0M1131.3 1980.6V2056.0M1133.7 1980.6V2056.0M1136.1 1980.6V2056.0M1138.5 1980.6V2056.0M1141.0 1980.6V2056.0M1143.4 1980.6V2056.0M1145.8 1980.6V2056.0M1149.1 1980.6V2056.0M1155.1 1980.6V2056.0M1157.8 1980.6V2056.0M1164.9 1980.6V2056.0M1173.1 1980.6V2056.0M1175.4 1980.6V2056.0M1181.3 1980.6V2056.0M1184.1 1980.6V2056.0M1186.9 1980.6V2056.0M1189.7 1980.6V2056.0M1193.1 1980.6V2056.0M1195.8 1980.6V2056.0M1199.8 1980.6V2056.0M1202.0 1980.6V2056.0M1207.0 1980.6V2056.0M1212.8 1980.6V2056.0M1218.2 1980.6V2056.0M1220.7 1980.6V2056.0M1223.1 1980.6V2056.0M1225.5 1980.6V2056.0M1227.9 1980.6V2056.0M1230.3 1980.6V2056.0M1232.8 1980.6V2056.0M1236.7 1980.6V2056.0M1239.4 1980.6V2056.0M1242.0 1980.6V2056.0M1246.4 1980.6V2056.0M1248.9 1980.6V2056.0M1251.4 1980.6V2056.0M1253.9 1980.6V2056.0M1263.3 1980.6V2056.0M1265.6 1980.6V2056.0M1267.9 1980.6V2056.0M1270.2 1980.6V2056.0M1277.2 1980.6V2056.0M1278.8 1980.6V2056.0M1281.2 1980.6V2056.0M1282.6 1980.6V2056.0M1289.7 1980.6V2056.0M1291.9 1980.6V2056.0M1294.2 1980.6V2056.0M1296.5 1980.6V2056.0M1301.7 1980.6V2056.0M1310.5 1980.6V2056.0M1315.4 1980.6V2056.0M1319.0 1980.6V2056.0M1323.3 1980.6V2056.0M1327.4 1980.6V2056.0M1330.1 1980.6V2056.0M1332.8 1980.6V2056.0M1335.5 1980.6V2056.0M1340.4 1980.6V2056.0M1347.4 1980.6V2056.0M1349.3 1980.6V2056.0M1356.3 1980.6V2056.0M1358.5 1980.6V2056.0M1363.6 1980.6V2056.0M1366.7 1980.6V2056.0M1369.9 1980.6V2056.0M1375.1 1980.6V2056.0M1377.6 1980.6V2056.0M1380.1 1980.6V2056.0M1382.6 1980.6V2056.0M1385.1 1980.6V2056.0M1387.6 1980.6V2056.0M1390.1 1980.6V2056.0M1392.6 1980.6V2056.0M1395.1 1980.6V2056.0M1397.6 1980.6V2056.0M1403.1 1980.6V2056.0M1405.9 1980.6V2056.0M1408.6 1980.6V2056.0M1411.4 1980.6V2056.0M1414.1 1980.6V2056.0M1416.9 1980.6V2056.0M1419.7 1980.6V2056.0M1424.7 1980.6V2056.0M1431.2 1980.6V2056.0M1438.2 1980.6V2056.0M1442.9 1980.6V2056.0M1446.8 1980.6V2056.0M1450.2 1980.6V2056.0M1453.0 1980.6V2056.0M1455.8 1980.6V2056.0M1458.6 1980.6V2056.0M1462.1 1980.6V2056.0M1464.3 1980.6V2056.0M1466.6 1980.6V2056.0M1486.7 1980.6V2056.0M1490.9 1980.6V2056.0M1495.5 1980.6V2056.0M1500.6 1980.6V2056.0M1502.0 1980.6V2056.0M1507.5 1980.6V2056.0M1510.9 1980.6V2056.0M1514.9 1980.6V2056.0M1520.9 1980.6V2056.0M1525.4 1980.6V2056.0M1533.4 1980.6V2056.0M1539.2 1980.6V2056.0M1542.3 1980.6V2056.0M1551.5 1980.6V2056.0M1554.6 1980.6V2056.0M1557.7 1980.6V2056.0M1561.0 1980.6V2056.0M1575.1 1980.6V2056.0M1577.4 1980.6V2056.0M1579.6 1980.6V2056.0M1581.9 1980.6V2056.0M1584.2 1980.6V2056.0M1602.0 1980.6V2056.0M1604.3 1980.6V2056.0M1606.5 1980.6V2056.0M1611.2 1980.6V2056.0M1613.7 1980.6V2056.0M1616.2 1980.6V2056.0M1618.7 1980.6V2056.0M1621.2 1980.6V2056.0M1625.4 1980.6V2056.0M1628.1 1980.6V2056.0M1630.8 1980.6V2056.0M1633.5 1980.6V2056.0M1636.2 1980.6V2056.0M1638.9 1980.6V2056.0M1647.0 1980.6V2056.0M1649.2 1980.6V2056.0M1651.5 1980.6V2056.0M1653.8 1980.6V2056.0M1660.0 1980.6V2056.0M1662.5 1980.6V2056.0M1665.0 1980.6V2056.0M1669.3 1980.6V2056.0M1671.8 1980.6V2056.0M1674.2 1980.6V2056.0M1676.7 1980.6V2056.0M1679.2 1980.6V2056.0M1681.6 1980.6V2056.0M1684.1 1980.6V2056.0M1686.6 1980.6V2056.0M1694.5 1980.6V2056.0M1699.9 1980.6V2056.0M1706.7 1980.6V2056.0M1708.9 1980.6V2056.0M1716.2 1980.6V2056.0M1718.9 1980.6V2056.0M1727.2 1980.6V2056.0M1734.1 1980.6V2056.0M1735.9 1980.6V2056.0M1741.1 1980.6V2056.0M1749.0 1980.6V2056.0M1750.8 1980.6V2056.0M1756.4 1980.6V2056.0M1763.3 1980.6V2056.0M1766.6 1980.6V2056.0M1772.6 1980.6V2056.0M1775.7 1980.6V2056.0M1778.8 1980.6V2056.0M1781.2 1980.6V2056.0M1784.0 1980.6V2056.0M1786.8 1980.6V2056.0M1789.6 1980.6V2056.0M1794.3 1980.6V2056.0M1796.9 1980.6V2056.0M1799.6 1980.6V2056.0M1807.2 1980.6V2056.0M1812.0 1980.6V2056.0M1814.3 1980.6V2056.0M1816.5 1980.6V2056.0M1820.6 1980.6V2056.0M1825.4 1980.6V2056.0M1827.9 1980.6V2056.0M1830.4 1980.6V2056.0M1836.2 1980.6V2056.0M1838.3 1980.6V2056.0M1840.4 1980.6V2056.0M1845.1 1980.6V2056.0M1848.0 1980.6V2056.0M1850.9 1980.6V2056.0M1853.8 1980.6V2056.0M1857.1 1980.6V2056.0M1859.8 1980.6V2056.0M1862.4 1980.6V2056.0M1865.1 1980.6V2056.0M1867.8 1980.6V2056.0M1876.3 1980.6V2056.0M1879.3 1980.6V2056.0M1882.3 1980.6V2056.0M1885.3 1980.6V2056.0M1892.8 1980.6V2056.0M1895.8 1980.6V2056.0M1900.6 1980.6V2056.0M1909.3 1980.6V2056.0M1912.7 1980.6V2056.0M1920.5 1980.6V2056.0M1922.9 1980.6V2056.0M1925.3 1980.6V2056.0M1927.7 1980.6V2056.0M1930.0 1980.6V2056.0M1932.4 1980.6V2056.0M1937.8 1980.6V2056.0M1956.5 1980.6V2056.0M1961.0 1980.6V2056.0M1964.8 1980.6V2056.0M1969.5 1980.6V2056.0M1980.1 1980.6V2056.0M1985.2 1980.6V2056.0M1988.0 1980.6V2056.0M1990.9 1980.6V2056.0M1993.8 1980.6V2056.0M1996.6 1980.6V2056.0M2009.9 1980.6V2056.0M2014.4 1980.6V2056.0M2015.9 1980.6V2056.0M2019.6 1980.6V2056.0M2023.7 1980.6V2056.0M2026.2 1980.6V2056.0M2028.8 1980.6V2056.0M2033.2 1980.6V2056.0M2041.3 1980.6V2056.0M2045.4 1980.6V2056.0M2048.5 1980.6V2056.0M2055.6 1980.6V2056.0M2060.6 1980.6V2056.0M2064.3 1980.6V2056.0M2066.4 1980.6V2056.0M2068.5 1980.6V2056.0M2078.3 1980.6V2056.0M2083.9 1980.6V2056.0M2087.4 1980.6V2056.0M2090.1 1980.6V2056.0M2096.2 1980.6V2056.0M2098.9 1980.6V2056.0M2101.5 1980.6V2056.0M2104.2 1980.6V2056.0M2106.9 1980.6V2056.0M2109.6 1980.6V2056.0M2115.1 1980.6V2056.0M2117.3 1980.6V2056.0M2120.5 1980.6V2056.0M2123.5 1980.6V2056.0M2129.1 1980.6V2056.0M2133.3 1980.6V2056.0" stroke="#000" stroke-width="2.4"/>
<text transform="translate(2316.40,1351.17) scale(1,1.02)" font-size="61.1" font-family="Liberation Sans, sans-serif" fill="#000">p</text>
<circle cx="2349.6" cy="1420.7" r="4.10" fill="#000"/>
<text transform="translate(2411.40,1438.57) scale(1,1.07)" font-size="48.9" font-family="Liberation Sans, sans-serif" fill="#000">0</text>
<circle cx="2349.6" cy="1484.9" r="8.80" fill="#000"/>
<text transform="translate(2411.40,1502.77) scale(1,1.07)" font-size="48.9" font-family="Liberation Sans, sans-serif" fill="#000">1</text>
<circle cx="2349.6" cy="1548.7" r="13.50" fill="#000"/>
<text transform="translate(2411.40,1566.57) scale(1,1.07)" font-size="48.9" font-family="Liberation Sans, sans-serif" fill="#000">2</text>
<circle cx="2349.6" cy="1612.9" r="18.20" fill="#000"/>
<text transform="translate(2411.40,1630.77) scale(1,1.07)" font-size="48.9" font-family="Liberation Sans, sans-serif" fill="#000">3</text>
<text transform="translate(2315.80,1817.67) scale(1,1.02)" font-size="61.1" font-family="Liberation Sans, sans-serif" fill="#000">p</text>
<rect x="2317.8" y="1855.9" width="64.1" height="319.6" fill="url(#cbar)"/>
<line x1="2317.8" y1="2168.0" x2="2330.5" y2="2168.0" stroke="#FFF" stroke-width="2"/>
<line x1="2369.2" y1="2168.0" x2="2381.9" y2="2168.0" stroke="#FFF" stroke-width="2"/>
<text transform="translate(2411.00,2185.87) scale(1,1.07)" font-size="48.9" font-family="Liberation Sans, sans-serif" fill="#000">0</text>
<line x1="2317.8" y1="2087.9" x2="2330.5" y2="2087.9" stroke="#FFF" stroke-width="2"/>
<line x1="2369.2" y1="2087.9" x2="2381.9" y2="2087.9" stroke="#FFF" stroke-width="2"/>
<text transform="translate(2411.00,2105.77) scale(1,1.07)" font-size="48.9" font-family="Liberation Sans, sans-serif" fill="#000">1</text>
<line x1="2317.8" y1="2007.6" x2="2330.5" y2="2007.6" stroke="#FFF" stroke-width="2"/>
<line x1="2369.2" y1="2007.6" x2="2381.9" y2="2007.6" stroke="#FFF" stroke-width="2"/>
<text transform="translate(2411.00,2025.47) scale(1,1.07)" font-size="48.9" font-family="Liberation Sans, sans-serif" fill="#000">2</text>
<line x1="2317.8" y1="1927.1" x2="2330.5" y2="1927.1" stroke="#FFF" stroke-width="2"/>
<line x1="2369.2" y1="1927.1" x2="2381.9" y2="1927.1" stroke="#FFF" stroke-width="2"/>
<text transform="translate(2411.00,1944.97) scale(1,1.07)" font-size="48.9" font-family="Liberation Sans, sans-serif" fill="#000">3</text>
<text transform="translate(1212.80,2417.63) scale(1,1.06)" font-size="73.6" text-anchor="middle" font-family="Liberation Sans, sans-serif" fill="#000">Parietal Lobe (TAG group: p &lt; 0.05)</text>
<text transform="translate(1213.00,2509.13) scale(1,1.065)" font-size="61.3" text-anchor="middle" font-family="Liberation Sans, sans-serif" fill="#000">Empirical p = 0.169; NES = 1.055</text>
<line x1="292.00" y1="2553.7" x2="292.00" y2="3252.3" stroke="#EBEBEB" stroke-width="6"/>
<line x1="948.48" y1="2553.7" x2="948.48" y2="3252.3" stroke="#EBEBEB" stroke-width="6"/>
<line x1="1604.95" y1="2553.7" x2="1604.95" y2="3252.3" stroke="#EBEBEB" stroke-width="6"/>
<line x1="200.0" y1="3185.10" x2="2226.0" y2="3185.10" stroke="#EBEBEB" stroke-width="6"/>
<line x1="200.0" y1="2966.10" x2="2226.0" y2="2966.10" stroke="#EBEBEB" stroke-width="6"/>
<line x1="200.0" y1="2747.10" x2="2226.0" y2="2747.10" stroke="#EBEBEB" stroke-width="6"/>
<line x1="184.7" y1="3185.10" x2="200" y2="3185.10" stroke="#333333" stroke-width="6"/>
<text transform="translate(172.10,3203.50) scale(1,1.065)" font-size="48.9" text-anchor="end" font-family="Liberation Sans, sans-serif" fill="#4D4D4D">0.0</text>
<line x1="184.7" y1="2966.10" x2="200" y2="2966.10" stroke="#333333" stroke-width="6"/>
<text transform="translate(172.10,2984.50) scale(1,1.065)" font-size="48.9" text-anchor="end" font-family="Liberation Sans, sans-serif" fill="#4D4D4D">0.1</text>
<line x1="184.7" y1="2747.10" x2="200" y2="2747.10" stroke="#333333" stroke-width="6"/>
<text transform="translate(172.10,2765.50) scale(1,1.065)" font-size="48.9" text-anchor="end" font-family="Liberation Sans, sans-serif" fill="#4D4D4D">0.2</text>
<line x1="292.00" y1="3254.3" x2="292.00" y2="3270.3" stroke="#333333" stroke-width="6"/>
<text transform="translate(292.00,3318.83) scale(1,1.065)" font-size="48.9" text-anchor="middle" font-family="Liberation Sans, sans-serif" fill="#4D4D4D">0</text>
<line x1="948.48" y1="3254.3" x2="948.48" y2="3270.3" stroke="#333333" stroke-width="6"/>
<text transform="translate(948.48,3318.83) scale(1,1.065)" font-size="48.9" text-anchor="middle" font-family="Liberation Sans, sans-serif" fill="#4D4D4D">5000</text>
<line x1="1604.95" y1="3254.3" x2="1604.95" y2="3270.3" stroke="#333333" stroke-width="6"/>
<text transform="translate(1604.95,3318.83) scale(1,1.065)" font-size="48.9" text-anchor="middle" font-family="Liberation Sans, sans-serif" fill="#4D4D4D">10000</text>
<text transform="translate(1213.00,3389.23) scale(1,1.065)" font-size="61.1" text-anchor="middle" font-family="Liberation Sans, sans-serif" fill="#000">Rank of gene by tissue z-score in ENCODE</text>
<text transform="translate(75.80,2905.33) rotate(-90) scale(1,1.03)" font-size="61.1" text-anchor="middle" font-family="Liberation Sans, sans-serif" fill="#000">enrichment score</text>
<line x1="200.0" y1="2585.6" x2="2226.0" y2="2585.6" stroke="#FF0000" stroke-width="6" stroke-dasharray="23.7 23.7"/>
<line x1="200.0" y1="3191.2" x2="2226.0" y2="3191.2" stroke="#FF0000" stroke-width="6" stroke-dasharray="23.7 23.7"/>
<circle cx="296.5" cy="3174.4" r="14.2" fill="#C7FF00"/>
<circle cx="301.8" cy="3162.2" r="10.2" fill="#41EF24"/>
<circle cx="304.4" cy="3156.0" r="15.0" fill="#DDFD00"/>
<circle cx="307.1" cy="3149.9" r="13.8" fill="#B8FF00"/>
<circle cx="309.7" cy="3143.7" r="10.6" fill="#4BF712"/>
<circle cx="312.4" cy="3137.5" r="13.5" fill="#B1FF00"/>
<circle cx="315.0" cy="3131.4" r="15.3" fill="#E3FC00"/>
<circle cx="317.7" cy="3128.6" r="12.7" fill="#9DFF00"/>
<circle cx="320.3" cy="3125.9" r="11.3" fill="#67FF00"/>
<circle cx="323.0" cy="3123.3" r="13.5" fill="#B0FF00"/>
<circle cx="325.6" cy="3120.6" r="10.6" fill="#49F614"/>
<circle cx="328.3" cy="3117.9" r="15.2" fill="#E0FC00"/>
<circle cx="332.7" cy="3112.7" r="17.3" fill="#FFD900"/>
<circle cx="336.4" cy="3108.4" r="14.6" fill="#D1FF00"/>
<circle cx="339.2" cy="3104.8" r="10.3" fill="#40F01F"/>
<circle cx="342.0" cy="3088.2" r="15.6" fill="#ECFB00"/>
<circle cx="344.7" cy="3071.6" r="10.0" fill="#46EA32"/>
<circle cx="347.5" cy="3059.7" r="17.3" fill="#FFD900"/>
<circle cx="353.0" cy="3052.8" r="12.4" fill="#95FF00"/>
<circle cx="356.7" cy="3048.2" r="12.4" fill="#96FF00"/>
<circle cx="359.8" cy="3044.4" r="16.9" fill="#FFE300"/>
<circle cx="361.8" cy="3041.7" r="11.5" fill="#72FF00"/>
<circle cx="368.0" cy="3031.8" r="10.5" fill="#46F418"/>
<circle cx="370.1" cy="3028.4" r="17.0" fill="#FFE100"/>
<circle cx="372.1" cy="3028.2" r="14.9" fill="#DAFD00"/>
<circle cx="378.5" cy="3030.4" r="10.9" fill="#56FE03"/>
<circle cx="386.0" cy="3032.8" r="10.1" fill="#44EC2B"/>
<circle cx="388.3" cy="3030.4" r="12.2" fill="#8EFF00"/>
<circle cx="391.5" cy="3022.7" r="13.6" fill="#B3FF00"/>
<circle cx="394.3" cy="3016.2" r="13.0" fill="#A5FF00"/>
<circle cx="397.0" cy="3009.7" r="13.0" fill="#A3FF00"/>
<circle cx="399.7" cy="3003.3" r="10.9" fill="#54FC06"/>
<circle cx="402.5" cy="2997.4" r="13.5" fill="#B0FF00"/>
<circle cx="407.5" cy="2991.1" r="14.9" fill="#DAFE00"/>
<circle cx="411.4" cy="2986.3" r="13.5" fill="#B0FF00"/>
<circle cx="417.7" cy="2979.7" r="12.5" fill="#98FF00"/>
<circle cx="419.9" cy="2979.7" r="15.7" fill="#EEFA00"/>
<circle cx="422.2" cy="2979.7" r="15.4" fill="#E6FC00"/>
<circle cx="433.1" cy="2972.5" r="15.3" fill="#E5FC00"/>
<circle cx="435.7" cy="2960.7" r="12.9" fill="#A3FF00"/>
<circle cx="442.9" cy="2938.3" r="17.3" fill="#FFD900"/>
<circle cx="445.8" cy="2932.5" r="10.5" fill="#48F515"/>
<circle cx="448.7" cy="2926.8" r="15.4" fill="#E6FC00"/>
<circle cx="451.6" cy="2921.0" r="12.6" fill="#99FF00"/>
<circle cx="454.5" cy="2915.2" r="12.9" fill="#A3FF00"/>
<circle cx="458.3" cy="2911.9" r="12.9" fill="#A0FF00"/>
<circle cx="465.0" cy="2908.8" r="13.8" fill="#BAFF00"/>
<circle cx="467.7" cy="2907.6" r="11.0" fill="#57FE02"/>
<circle cx="470.3" cy="2906.3" r="14.8" fill="#D8FE00"/>
<circle cx="473.0" cy="2905.1" r="13.9" fill="#BDFF00"/>
<circle cx="475.7" cy="2903.8" r="10.8" fill="#50FA0B"/>
<circle cx="478.8" cy="2902.4" r="11.2" fill="#62FF00"/>
<circle cx="481.3" cy="2896.4" r="15.1" fill="#DEFD00"/>
<circle cx="483.8" cy="2888.6" r="10.8" fill="#52FB08"/>
<circle cx="486.3" cy="2880.7" r="13.4" fill="#AFFF00"/>
<circle cx="488.8" cy="2872.9" r="13.3" fill="#ABFF00"/>
<circle cx="491.3" cy="2865.0" r="15.1" fill="#DEFD00"/>
<circle cx="493.7" cy="2860.1" r="13.9" fill="#BBFF00"/>
<circle cx="497.0" cy="2856.8" r="11.0" fill="#59FF00"/>
<circle cx="499.4" cy="2854.4" r="13.5" fill="#B1FF00"/>
<circle cx="505.0" cy="2848.9" r="18.7" fill="#FFA900"/>
<circle cx="507.6" cy="2846.3" r="12.2" fill="#90FF00"/>
<circle cx="510.1" cy="2843.7" r="10.5" fill="#47F417"/>
<circle cx="512.7" cy="2841.2" r="10.5" fill="#48F516"/>
<circle cx="515.3" cy="2838.6" r="13.4" fill="#AEFF00"/>
<circle cx="519.3" cy="2838.5" r="12.6" fill="#9AFF00"/>
<circle cx="520.7" cy="2839.0" r="11.1" fill="#5EFF00"/>
<circle cx="531.8" cy="2841.3" r="15.1" fill="#DEFD00"/>
<circle cx="534.1" cy="2834.4" r="11.2" fill="#63FF00"/>
<circle cx="536.4" cy="2827.4" r="12.5" fill="#97FF00"/>
<circle cx="538.7" cy="2820.5" r="11.2" fill="#61FF00"/>
<circle cx="541.0" cy="2813.6" r="15.2" fill="#E3FC00"/>
<circle cx="548.5" cy="2805.1" r="13.1" fill="#A8FF00"/>
<circle cx="553.8" cy="2801.1" r="11.6" fill="#72FF00"/>
<circle cx="556.4" cy="2799.2" r="13.3" fill="#ABFF00"/>
<circle cx="559.0" cy="2797.2" r="15.5" fill="#EBFB00"/>
<circle cx="561.6" cy="2795.2" r="12.6" fill="#9BFF00"/>
<circle cx="569.5" cy="2792.7" r="12.3" fill="#93FF00"/>
<circle cx="571.9" cy="2792.5" r="18.7" fill="#FFA900"/>
<circle cx="574.3" cy="2792.3" r="14.6" fill="#D2FF00"/>
<circle cx="576.7" cy="2792.1" r="12.6" fill="#99FF00"/>
<circle cx="585.6" cy="2791.4" r="12.4" fill="#96FF00"/>
<circle cx="589.0" cy="2789.2" r="11.1" fill="#5CFF00"/>
<circle cx="594.1" cy="2784.9" r="10.2" fill="#42EE26"/>
<circle cx="599.0" cy="2780.6" r="10.6" fill="#4CF710"/>
<circle cx="602.9" cy="2777.3" r="13.3" fill="#ABFF00"/>
<circle cx="609.0" cy="2772.1" r="12.8" fill="#9EFF00"/>
<circle cx="612.3" cy="2769.3" r="15.6" fill="#ECFB00"/>
<circle cx="615.5" cy="2769.6" r="11.3" fill="#66FF00"/>
<circle cx="620.4" cy="2770.3" r="15.5" fill="#E9FB00"/>
<circle cx="632.6" cy="2772.3" r="11.3" fill="#66FF00"/>
<circle cx="634.7" cy="2769.5" r="12.1" fill="#8DFF00"/>
<circle cx="636.8" cy="2766.2" r="11.5" fill="#71FF00"/>
<circle cx="641.4" cy="2758.8" r="12.6" fill="#99FF00"/>
<circle cx="648.0" cy="2760.4" r="10.0" fill="#46EA33"/>
<circle cx="650.6" cy="2756.8" r="11.2" fill="#61FF00"/>
<circle cx="653.2" cy="2745.0" r="12.4" fill="#95FF00"/>
<circle cx="655.7" cy="2733.3" r="15.5" fill="#EAFB00"/>
<circle cx="658.3" cy="2727.2" r="11.4" fill="#6BFF00"/>
<circle cx="662.2" cy="2725.0" r="13.6" fill="#B2FF00"/>
<circle cx="666.2" cy="2722.7" r="13.8" fill="#B8FF00"/>
<circle cx="670.8" cy="2720.1" r="15.6" fill="#ECFB00"/>
<circle cx="672.9" cy="2718.8" r="11.0" fill="#5AFF00"/>
<circle cx="678.0" cy="2715.9" r="13.5" fill="#B0FF00"/>
<circle cx="680.4" cy="2714.6" r="13.7" fill="#B8FF00"/>
<circle cx="682.8" cy="2713.2" r="12.6" fill="#9AFF00"/>
<circle cx="685.2" cy="2712.0" r="10.0" fill="#47E934"/>
<circle cx="689.9" cy="2709.7" r="12.2" fill="#90FF00"/>
<circle cx="691.4" cy="2708.9" r="12.4" fill="#94FF00"/>
<circle cx="700.0" cy="2704.6" r="18.7" fill="#FFA900"/>
<circle cx="702.4" cy="2703.4" r="13.7" fill="#B7FF00"/>
<circle cx="704.8" cy="2702.2" r="11.3" fill="#67FF00"/>
<circle cx="711.9" cy="2697.8" r="13.1" fill="#A8FF00"/>
<circle cx="715.0" cy="2695.5" r="13.7" fill="#B5FF00"/>
<circle cx="718.0" cy="2693.2" r="12.9" fill="#A1FF00"/>
<circle cx="723.7" cy="2688.9" r="16.2" fill="#F8F500"/>
<circle cx="726.8" cy="2686.6" r="13.3" fill="#ABFF00"/>
<circle cx="729.9" cy="2684.3" r="10.9" fill="#54FC05"/>
<circle cx="732.1" cy="2683.7" r="13.8" fill="#BAFF00"/>
<circle cx="734.3" cy="2683.9" r="13.9" fill="#BDFF00"/>
<circle cx="736.5" cy="2684.1" r="13.0" fill="#A4FF00"/>
<circle cx="740.7" cy="2684.4" r="14.3" fill="#C7FF00"/>
<circle cx="744.5" cy="2684.8" r="15.2" fill="#E2FC00"/>
<circle cx="750.4" cy="2685.3" r="13.7" fill="#B7FF00"/>
<circle cx="752.8" cy="2685.5" r="13.0" fill="#A3FF00"/>
<circle cx="755.2" cy="2682.8" r="13.5" fill="#B1FF00"/>
<circle cx="757.6" cy="2679.7" r="10.6" fill="#49F614"/>
<circle cx="760.7" cy="2675.9" r="13.1" fill="#A7FF00"/>
<circle cx="763.2" cy="2672.8" r="14.7" fill="#D3FE00"/>
<circle cx="765.7" cy="2669.6" r="14.9" fill="#D8FE00"/>
<circle cx="768.2" cy="2667.0" r="12.6" fill="#9AFF00"/>
<circle cx="770.7" cy="2667.2" r="13.9" fill="#BDFF00"/>
<circle cx="777.0" cy="2667.7" r="13.6" fill="#B3FF00"/>
<circle cx="779.0" cy="2667.9" r="12.7" fill="#9CFF00"/>
<circle cx="780.9" cy="2668.1" r="10.8" fill="#53FC07"/>
<circle cx="787.4" cy="2668.6" r="13.6" fill="#B2FF00"/>
<circle cx="791.9" cy="2668.8" r="11.1" fill="#5CFF00"/>
<circle cx="796.5" cy="2668.8" r="15.1" fill="#DFFD00"/>
<circle cx="800.9" cy="2668.8" r="10.3" fill="#40F020"/>
<circle cx="805.9" cy="2668.8" r="10.1" fill="#44EC2D"/>
<circle cx="808.4" cy="2668.8" r="15.2" fill="#E2FC00"/>
<circle cx="810.9" cy="2668.8" r="13.6" fill="#B2FF00"/>
<circle cx="813.3" cy="2667.0" r="15.2" fill="#E2FC00"/>
<circle cx="815.8" cy="2663.3" r="13.3" fill="#ABFF00"/>
<circle cx="818.3" cy="2659.6" r="13.2" fill="#A9FF00"/>
<circle cx="821.3" cy="2655.0" r="12.5" fill="#97FF00"/>
<circle cx="824.4" cy="2651.2" r="13.0" fill="#A3FF00"/>
<circle cx="828.0" cy="2648.5" r="14.4" fill="#CAFF00"/>
<circle cx="830.0" cy="2646.8" r="9.8" fill="#4BE541"/>
<circle cx="832.1" cy="2645.2" r="15.7" fill="#EFFA00"/>
<circle cx="838.7" cy="2640.0" r="12.8" fill="#9FFF00"/>
<circle cx="841.0" cy="2638.2" r="15.5" fill="#E9FB00"/>
<circle cx="843.3" cy="2636.4" r="12.6" fill="#99FF00"/>
<circle cx="845.7" cy="2634.6" r="10.5" fill="#48F515"/>
<circle cx="848.0" cy="2632.8" r="10.5" fill="#49F514"/>
<circle cx="852.0" cy="2630.5" r="13.8" fill="#BBFF00"/>
<circle cx="854.9" cy="2629.0" r="10.8" fill="#51FB09"/>
<circle cx="858.7" cy="2627.1" r="10.0" fill="#47E936"/>
<circle cx="865.4" cy="2623.7" r="15.2" fill="#E0FC00"/>
<circle cx="869.5" cy="2621.7" r="14.9" fill="#DAFD00"/>
<circle cx="871.7" cy="2620.6" r="10.5" fill="#46F418"/>
<circle cx="876.8" cy="2618.0" r="13.9" fill="#BBFF00"/>
<circle cx="879.4" cy="2617.0" r="16.6" fill="#FFEE00"/>
<circle cx="882.1" cy="2616.5" r="12.3" fill="#92FF00"/>
<circle cx="884.8" cy="2616.1" r="12.5" fill="#97FF00"/>
<circle cx="887.5" cy="2615.6" r="9.8" fill="#4CE444"/>
<circle cx="892.1" cy="2614.8" r="11.0" fill="#59FF00"/>
<circle cx="895.7" cy="2614.3" r="11.6" fill="#72FF00"/>
<circle cx="900.8" cy="2613.4" r="11.4" fill="#69FF00"/>
<circle cx="902.9" cy="2613.5" r="9.8" fill="#4CE443"/>
<circle cx="911.4" cy="2614.1" r="14.6" fill="#D1FF00"/>
<circle cx="915.5" cy="2614.3" r="14.5" fill="#CFFF00"/>
<circle cx="920.9" cy="2614.7" r="11.2" fill="#61FF00"/>
<circle cx="929.3" cy="2615.2" r="15.6" fill="#ECFB00"/>
<circle cx="936.5" cy="2618.4" r="14.3" fill="#CAFF00"/>
<circle cx="943.4" cy="2621.9" r="13.4" fill="#AEFF00"/>
<circle cx="946.1" cy="2622.2" r="13.8" fill="#BBFF00"/>
<circle cx="948.7" cy="2620.9" r="11.6" fill="#72FF00"/>
<circle cx="951.4" cy="2619.5" r="14.2" fill="#C6FF00"/>
<circle cx="958.0" cy="2616.2" r="11.0" fill="#57FE02"/>
<circle cx="960.6" cy="2614.9" r="14.3" fill="#C9FF00"/>
<circle cx="963.2" cy="2613.6" r="11.1" fill="#5DFF00"/>
<circle cx="965.8" cy="2612.3" r="11.4" fill="#69FF00"/>
<circle cx="968.4" cy="2611.3" r="12.2" fill="#90FF00"/>
<circle cx="971.0" cy="2610.7" r="13.2" fill="#A8FF00"/>
<circle cx="973.6" cy="2610.0" r="13.4" fill="#ADFF00"/>
<circle cx="976.2" cy="2609.4" r="11.2" fill="#63FF00"/>
<circle cx="978.8" cy="2608.7" r="13.3" fill="#ABFF00"/>
<circle cx="985.0" cy="2607.1" r="12.9" fill="#A1FF00"/>
<circle cx="988.7" cy="2606.2" r="13.6" fill="#B2FF00"/>
<circle cx="993.1" cy="2604.4" r="15.5" fill="#E9FB00"/>
<circle cx="995.7" cy="2603.3" r="12.6" fill="#9BFF00"/>
<circle cx="1002.7" cy="2600.2" r="11.6" fill="#73FF00"/>
<circle cx="1005.1" cy="2599.2" r="15.6" fill="#EBFB00"/>
<circle cx="1007.6" cy="2598.1" r="13.2" fill="#AAFF00"/>
<circle cx="1012.7" cy="2595.9" r="17.1" fill="#FFDF00"/>
<circle cx="1015.3" cy="2594.7" r="12.7" fill="#9CFF00"/>
<circle cx="1017.9" cy="2593.6" r="13.8" fill="#B8FF00"/>
<circle cx="1020.5" cy="2592.6" r="13.4" fill="#ADFF00"/>
<circle cx="1023.1" cy="2591.8" r="13.8" fill="#B8FF00"/>
<circle cx="1025.8" cy="2591.0" r="14.7" fill="#D3FF00"/>
<circle cx="1028.4" cy="2590.2" r="10.2" fill="#41EF24"/>
<circle cx="1031.8" cy="2589.1" r="13.2" fill="#A9FF00"/>
<circle cx="1033.8" cy="2588.5" r="15.7" fill="#EEFA00"/>
<circle cx="1035.9" cy="2587.8" r="11.3" fill="#66FF00"/>
<circle cx="1043.3" cy="2585.5" r="15.6" fill="#EDFA00"/>
<circle cx="1045.7" cy="2584.8" r="12.6" fill="#9AFF00"/>
<circle cx="1048.1" cy="2584.0" r="15.5" fill="#EAFB00"/>
<circle cx="1050.6" cy="2585.3" r="13.8" fill="#B9FF00"/>
<circle cx="1060.0" cy="2592.0" r="12.2" fill="#91FF00"/>
<circle cx="1066.6" cy="2596.7" r="13.6" fill="#B3FF00"/>
<circle cx="1074.1" cy="2602.1" r="11.2" fill="#5FFF00"/>
<circle cx="1077.0" cy="2600.7" r="14.6" fill="#D1FF00"/>
<circle cx="1082.5" cy="2597.3" r="13.4" fill="#ADFF00"/>
<circle cx="1086.1" cy="2595.0" r="12.5" fill="#97FF00"/>
<circle cx="1089.0" cy="2593.2" r="11.2" fill="#5FFF00"/>
<circle cx="1103.0" cy="2602.8" r="15.0" fill="#DBFD00"/>
<circle cx="1106.0" cy="2604.8" r="11.3" fill="#64FF00"/>
<circle cx="1109.0" cy="2606.6" r="14.6" fill="#D1FF00"/>
<circle cx="1118.7" cy="2610.9" r="13.8" fill="#B9FF00"/>
<circle cx="1122.1" cy="2612.4" r="15.1" fill="#DEFD00"/>
<circle cx="1124.4" cy="2613.4" r="13.2" fill="#A9FF00"/>
<circle cx="1126.8" cy="2614.4" r="10.1" fill="#44EC2D"/>
<circle cx="1137.2" cy="2619.0" r="11.1" fill="#5BFF00"/>
<circle cx="1141.4" cy="2617.9" r="13.2" fill="#A8FF00"/>
<circle cx="1146.1" cy="2616.7" r="13.1" fill="#A5FF00"/>
<circle cx="1148.9" cy="2616.0" r="9.8" fill="#4BE540"/>
<circle cx="1151.7" cy="2615.3" r="16.5" fill="#FEF100"/>
<circle cx="1156.0" cy="2614.3" r="10.9" fill="#55FD03"/>
<circle cx="1159.1" cy="2613.5" r="14.5" fill="#CDFF00"/>
<circle cx="1170.9" cy="2620.1" r="12.7" fill="#9DFF00"/>
<circle cx="1174.9" cy="2622.4" r="12.1" fill="#8DFF00"/>
<circle cx="1179.6" cy="2625.2" r="11.6" fill="#74FF00"/>
<circle cx="1184.2" cy="2626.0" r="15.0" fill="#DCFD00"/>
<circle cx="1186.7" cy="2625.8" r="12.6" fill="#9AFF00"/>
<circle cx="1189.2" cy="2625.6" r="14.9" fill="#D9FE00"/>
<circle cx="1191.7" cy="2625.3" r="15.5" fill="#E9FB00"/>
<circle cx="1194.3" cy="2625.1" r="15.8" fill="#F1F900"/>
<circle cx="1196.8" cy="2624.8" r="9.8" fill="#4BE541"/>
<circle cx="1202.2" cy="2623.4" r="10.1" fill="#45EB2E"/>
<circle cx="1204.9" cy="2622.0" r="9.8" fill="#4AE63F"/>
<circle cx="1207.7" cy="2620.7" r="13.7" fill="#B7FF00"/>
<circle cx="1210.4" cy="2619.3" r="13.9" fill="#BBFF00"/>
<circle cx="1213.2" cy="2617.9" r="14.3" fill="#C9FF00"/>
<circle cx="1215.9" cy="2617.7" r="12.8" fill="#A0FF00"/>
<circle cx="1218.7" cy="2619.0" r="11.5" fill="#71FF00"/>
<circle cx="1228.0" cy="2623.7" r="10.8" fill="#51FB09"/>
<circle cx="1231.9" cy="2624.0" r="13.9" fill="#BCFF00"/>
<circle cx="1236.5" cy="2623.0" r="12.8" fill="#A0FF00"/>
<circle cx="1239.2" cy="2622.5" r="12.4" fill="#95FF00"/>
<circle cx="1241.8" cy="2621.9" r="17.3" fill="#FFD900"/>
<circle cx="1244.5" cy="2621.3" r="9.8" fill="#4BE541"/>
<circle cx="1248.8" cy="2620.4" r="10.4" fill="#44F21B"/>
<circle cx="1252.1" cy="2619.7" r="15.7" fill="#EFFA00"/>
<circle cx="1255.3" cy="2619.0" r="14.3" fill="#C8FF00"/>
<circle cx="1259.1" cy="2620.6" r="15.4" fill="#E6FC00"/>
<circle cx="1262.2" cy="2622.0" r="13.9" fill="#BEFF00"/>
<circle cx="1268.2" cy="2624.6" r="10.0" fill="#46EA33"/>
<circle cx="1273.0" cy="2625.0" r="17.7" fill="#FFC900"/>
<circle cx="1275.1" cy="2622.4" r="12.7" fill="#9BFF00"/>
<circle cx="1277.2" cy="2619.7" r="13.5" fill="#B1FF00"/>
<circle cx="1282.2" cy="2613.2" r="10.3" fill="#42F11E"/>
<circle cx="1283.6" cy="2611.5" r="10.0" fill="#47E936"/>
<circle cx="1289.0" cy="2605.0" r="12.4" fill="#95FF00"/>
<circle cx="1291.9" cy="2601.6" r="10.0" fill="#46EA33"/>
<circle cx="1294.9" cy="2598.2" r="12.1" fill="#8CFF00"/>
<circle cx="1297.8" cy="2597.4" r="14.5" fill="#CFFF00"/>
<circle cx="1301.3" cy="2598.7" r="18.7" fill="#FFA900"/>
<circle cx="1305.9" cy="2600.3" r="11.5" fill="#6FFF00"/>
<circle cx="1308.6" cy="2601.2" r="15.7" fill="#EEFA00"/>
<circle cx="1314.4" cy="2603.3" r="10.6" fill="#4AF613"/>
<circle cx="1319.2" cy="2605.0" r="11.5" fill="#6FFF00"/>
<circle cx="1321.7" cy="2605.9" r="15.2" fill="#E2FC00"/>
<circle cx="1324.2" cy="2607.4" r="12.7" fill="#9DFF00"/>
<circle cx="1326.7" cy="2608.9" r="15.0" fill="#DCFD00"/>
<circle cx="1334.6" cy="2613.8" r="12.4" fill="#94FF00"/>
<circle cx="1339.3" cy="2616.6" r="17.7" fill="#FFC900"/>
<circle cx="1344.9" cy="2620.0" r="15.1" fill="#DFFD00"/>
<circle cx="1348.0" cy="2621.9" r="11.4" fill="#6AFF00"/>
<circle cx="1356.0" cy="2626.2" r="10.5" fill="#47F516"/>
<circle cx="1358.9" cy="2625.9" r="10.2" fill="#41EF23"/>
<circle cx="1361.9" cy="2625.6" r="14.8" fill="#D5FE00"/>
<circle cx="1364.9" cy="2625.4" r="10.7" fill="#4CF80F"/>
<circle cx="1368.0" cy="2625.1" r="11.4" fill="#6CFF00"/>
<circle cx="1370.1" cy="2624.9" r="11.6" fill="#73FF00"/>
<circle cx="1372.1" cy="2624.6" r="11.4" fill="#6CFF00"/>
<circle cx="1379.1" cy="2624.0" r="12.5" fill="#97FF00"/>
<circle cx="1381.5" cy="2623.7" r="12.6" fill="#9BFF00"/>
<circle cx="1384.0" cy="2623.5" r="10.1" fill="#44EC2C"/>
<circle cx="1386.5" cy="2623.3" r="14.0" fill="#BEFF00"/>
<circle cx="1390.3" cy="2622.9" r="17.2" fill="#FFDC00"/>
<circle cx="1392.8" cy="2622.9" r="17.7" fill="#FFC900"/>
<circle cx="1395.2" cy="2623.5" r="14.3" fill="#C8FF00"/>
<circle cx="1402.6" cy="2625.3" r="14.7" fill="#D4FE00"/>
<circle cx="1406.9" cy="2626.4" r="16.1" fill="#F7F600"/>
<circle cx="1409.4" cy="2627.0" r="14.8" fill="#D6FE00"/>
<circle cx="1411.8" cy="2627.6" r="9.7" fill="#4CE445"/>
<circle cx="1414.2" cy="2628.2" r="15.1" fill="#DEFD00"/>
<circle cx="1416.7" cy="2628.8" r="10.6" fill="#49F614"/>
<circle cx="1419.1" cy="2629.4" r="14.6" fill="#D0FF00"/>
<circle cx="1422.9" cy="2630.5" r="12.3" fill="#94FF00"/>
<circle cx="1424.9" cy="2631.2" r="11.2" fill="#61FF00"/>
<circle cx="1431.1" cy="2633.5" r="14.5" fill="#CFFF00"/>
<circle cx="1433.8" cy="2634.5" r="9.9" fill="#49E73A"/>
<circle cx="1436.5" cy="2635.6" r="13.0" fill="#A4FF00"/>
<circle cx="1439.2" cy="2636.6" r="10.1" fill="#44EC2B"/>
<circle cx="1441.9" cy="2637.6" r="13.4" fill="#AEFF00"/>
<circle cx="1447.6" cy="2639.7" r="15.2" fill="#E0FC00"/>
<circle cx="1450.3" cy="2640.8" r="9.9" fill="#4AE63D"/>
<circle cx="1467.6" cy="2658.3" r="14.9" fill="#D9FE00"/>
<circle cx="1470.1" cy="2659.1" r="14.3" fill="#C8FF00"/>
<circle cx="1472.7" cy="2659.9" r="14.8" fill="#D5FE00"/>
<circle cx="1475.3" cy="2660.7" r="15.6" fill="#EDFA00"/>
<circle cx="1477.8" cy="2661.5" r="12.1" fill="#8DFF00"/>
<circle cx="1480.4" cy="2662.3" r="15.0" fill="#DCFD00"/>
<circle cx="1483.0" cy="2663.1" r="14.6" fill="#D2FF00"/>
<circle cx="1485.5" cy="2663.9" r="11.3" fill="#66FF00"/>
<circle cx="1488.1" cy="2664.7" r="12.4" fill="#95FF00"/>
<circle cx="1490.7" cy="2665.5" r="13.2" fill="#A9FF00"/>
<circle cx="1493.2" cy="2666.3" r="10.7" fill="#4EF90D"/>
<circle cx="1495.8" cy="2666.8" r="13.1" fill="#A5FF00"/>
<circle cx="1498.4" cy="2664.7" r="11.1" fill="#5CFF00"/>
<circle cx="1500.9" cy="2662.5" r="15.6" fill="#EDFA00"/>
<circle cx="1503.5" cy="2660.4" r="22.0" fill="#FF1800"/>
<circle cx="1506.1" cy="2658.2" r="13.5" fill="#B0FF00"/>
<circle cx="1511.5" cy="2660.6" r="11.4" fill="#6AFF00"/>
<circle cx="1516.8" cy="2663.6" r="16.7" fill="#FFED00"/>
<circle cx="1523.5" cy="2667.4" r="13.1" fill="#A6FF00"/>
<circle cx="1526.2" cy="2668.9" r="12.1" fill="#8DFF00"/>
<circle cx="1529.0" cy="2670.5" r="16.3" fill="#FBF300"/>
<circle cx="1531.0" cy="2671.6" r="9.9" fill="#48E838"/>
<circle cx="1533.5" cy="2673.1" r="11.3" fill="#65FF00"/>
<circle cx="1535.9" cy="2674.6" r="9.9" fill="#48E839"/>
<circle cx="1542.1" cy="2678.3" r="12.5" fill="#97FF00"/>
<circle cx="1545.9" cy="2680.6" r="10.9" fill="#53FC06"/>
<circle cx="1549.2" cy="2682.5" r="13.1" fill="#A6FF00"/>
<circle cx="1551.8" cy="2684.1" r="14.4" fill="#CAFF00"/>
<circle cx="1557.5" cy="2687.5" r="15.4" fill="#E6FC00"/>
<circle cx="1560.6" cy="2689.3" r="10.0" fill="#47E936"/>
<circle cx="1563.6" cy="2691.2" r="13.0" fill="#A5FF00"/>
<circle cx="1569.5" cy="2694.7" r="10.0" fill="#47E936"/>
<circle cx="1573.3" cy="2697.1" r="12.3" fill="#94FF00"/>
<circle cx="1576.2" cy="2698.9" r="13.7" fill="#B7FF00"/>
<circle cx="1579.0" cy="2700.7" r="10.8" fill="#52FB08"/>
<circle cx="1581.9" cy="2702.5" r="14.5" fill="#CEFF00"/>
<circle cx="1584.7" cy="2704.2" r="15.7" fill="#F0FA00"/>
<circle cx="1588.7" cy="2706.8" r="12.9" fill="#A1FF00"/>
<circle cx="1592.1" cy="2708.9" r="15.1" fill="#DEFD00"/>
<circle cx="1604.6" cy="2718.0" r="13.9" fill="#BBFF00"/>
<circle cx="1607.2" cy="2720.2" r="14.8" fill="#D6FE00"/>
<circle cx="1609.8" cy="2722.4" r="10.4" fill="#43F21D"/>
<circle cx="1616.9" cy="2728.5" r="13.9" fill="#BDFF00"/>
<circle cx="1622.1" cy="2732.9" r="15.7" fill="#EFFA00"/>
<circle cx="1625.1" cy="2735.4" r="15.6" fill="#ECFB00"/>
<circle cx="1628.0" cy="2736.5" r="10.7" fill="#4EF90D"/>
<circle cx="1632.6" cy="2738.4" r="17.2" fill="#FFDB00"/>
<circle cx="1636.4" cy="2739.9" r="10.5" fill="#48F515"/>
<circle cx="1638.7" cy="2740.8" r="12.8" fill="#9EFF00"/>
<circle cx="1640.9" cy="2741.7" r="18.2" fill="#FFB800"/>
<circle cx="1646.8" cy="2744.1" r="13.0" fill="#A5FF00"/>
<circle cx="1649.2" cy="2745.0" r="10.0" fill="#47E934"/>
<circle cx="1651.6" cy="2746.0" r="17.0" fill="#FFE200"/>
<circle cx="1654.0" cy="2747.0" r="15.2" fill="#E3FC00"/>
<circle cx="1656.4" cy="2748.0" r="15.7" fill="#EEFA00"/>
<circle cx="1658.9" cy="2748.9" r="14.3" fill="#C7FF00"/>
<circle cx="1661.3" cy="2749.9" r="12.6" fill="#9AFF00"/>
<circle cx="1663.7" cy="2752.0" r="12.6" fill="#9AFF00"/>
<circle cx="1680.3" cy="2768.6" r="13.8" fill="#BAFF00"/>
<circle cx="1682.9" cy="2769.9" r="12.6" fill="#99FF00"/>
<circle cx="1685.4" cy="2771.2" r="12.9" fill="#A2FF00"/>
<circle cx="1687.9" cy="2772.4" r="16.4" fill="#FCF200"/>
<circle cx="1690.5" cy="2773.7" r="11.0" fill="#56FE02"/>
<circle cx="1693.0" cy="2775.0" r="10.9" fill="#53FC07"/>
<circle cx="1695.6" cy="2776.3" r="16.7" fill="#FFEC00"/>
<circle cx="1698.1" cy="2777.5" r="10.6" fill="#4BF711"/>
<circle cx="1700.6" cy="2778.8" r="12.4" fill="#94FF00"/>
<circle cx="1712.4" cy="2784.7" r="10.0" fill="#47E935"/>
<circle cx="1716.0" cy="2786.5" r="10.5" fill="#47F417"/>
<circle cx="1718.4" cy="2787.7" r="10.2" fill="#42EE27"/>
<circle cx="1720.9" cy="2788.8" r="10.8" fill="#50FA0B"/>
<circle cx="1723.3" cy="2789.9" r="15.2" fill="#E2FC00"/>
<circle cx="1726.5" cy="2791.4" r="13.3" fill="#ACFF00"/>
<circle cx="1729.9" cy="2793.0" r="11.1" fill="#5BFF00"/>
<circle cx="1732.2" cy="2794.1" r="13.1" fill="#A7FF00"/>
<circle cx="1735.7" cy="2796.8" r="13.0" fill="#A3FF00"/>
<circle cx="1738.4" cy="2799.2" r="10.2" fill="#42EE27"/>
<circle cx="1743.4" cy="2803.7" r="10.7" fill="#4EF90E"/>
<circle cx="1748.1" cy="2807.9" r="13.2" fill="#A9FF00"/>
<circle cx="1750.7" cy="2810.2" r="10.4" fill="#44F21B"/>
<circle cx="1755.4" cy="2814.5" r="14.6" fill="#D1FF00"/>
<circle cx="1758.1" cy="2816.9" r="13.0" fill="#A4FF00"/>
<circle cx="1760.7" cy="2819.3" r="11.6" fill="#74FF00"/>
<circle cx="1769.3" cy="2827.0" r="11.2" fill="#61FF00"/>
<circle cx="1771.8" cy="2829.3" r="9.9" fill="#4AE63D"/>
<circle cx="1774.3" cy="2831.5" r="14.9" fill="#DAFD00"/>
<circle cx="1776.8" cy="2833.8" r="10.5" fill="#46F418"/>
<circle cx="1781.4" cy="2837.9" r="13.5" fill="#B0FF00"/>
<circle cx="1784.8" cy="2841.0" r="10.2" fill="#43ED29"/>
<circle cx="1787.2" cy="2843.0" r="17.0" fill="#FFE300"/>
<circle cx="1789.5" cy="2845.1" r="17.3" fill="#FFD900"/>
<circle cx="1791.8" cy="2847.2" r="13.4" fill="#ADFF00"/>
<circle cx="1794.1" cy="2849.3" r="13.7" fill="#B6FF00"/>
<circle cx="1800.0" cy="2854.5" r="15.1" fill="#DDFD00"/>
<circle cx="1803.8" cy="2856.8" r="15.4" fill="#E7FB00"/>
<circle cx="1805.5" cy="2857.8" r="15.0" fill="#DCFD00"/>
<circle cx="1811.0" cy="2861.2" r="15.4" fill="#E6FC00"/>
<circle cx="1813.9" cy="2862.9" r="14.4" fill="#CCFF00"/>
<circle cx="1816.7" cy="2864.6" r="14.2" fill="#C6FF00"/>
<circle cx="1819.6" cy="2866.3" r="15.2" fill="#E0FC00"/>
<circle cx="1822.4" cy="2868.0" r="13.9" fill="#BCFF00"/>
<circle cx="1829.0" cy="2872.0" r="19.6" fill="#FF8C00"/>
<circle cx="1831.3" cy="2873.4" r="15.6" fill="#EDFA00"/>
<circle cx="1833.6" cy="2874.9" r="12.8" fill="#9FFF00"/>
<circle cx="1839.5" cy="2879.6" r="13.0" fill="#A3FF00"/>
<circle cx="1843.3" cy="2882.7" r="14.7" fill="#D3FE00"/>
<circle cx="1845.7" cy="2884.5" r="13.1" fill="#A7FF00"/>
<circle cx="1848.0" cy="2886.4" r="12.7" fill="#9CFF00"/>
<circle cx="1853.0" cy="2890.4" r="15.6" fill="#ECFB00"/>
<circle cx="1855.8" cy="2892.6" r="12.9" fill="#A2FF00"/>
<circle cx="1858.6" cy="2894.8" r="17.7" fill="#FFC900"/>
<circle cx="1861.4" cy="2897.1" r="10.8" fill="#52FB08"/>
<circle cx="1866.0" cy="2900.7" r="12.3" fill="#92FF00"/>
<circle cx="1874.1" cy="2908.8" r="14.7" fill="#D5FE00"/>
<circle cx="1876.6" cy="2911.3" r="15.6" fill="#ECFB00"/>
<circle cx="1879.1" cy="2913.8" r="16.3" fill="#FBF300"/>
<circle cx="1887.5" cy="2922.2" r="13.8" fill="#B9FF00"/>
<circle cx="1890.6" cy="2925.3" r="9.8" fill="#4AE63F"/>
<circle cx="1893.7" cy="2928.4" r="13.0" fill="#A5FF00"/>
<circle cx="1899.5" cy="2934.2" r="15.5" fill="#E9FB00"/>
<circle cx="1901.9" cy="2936.3" r="14.0" fill="#BEFF00"/>
<circle cx="1904.4" cy="2938.3" r="13.1" fill="#A5FF00"/>
<circle cx="1906.8" cy="2940.4" r="12.8" fill="#A0FF00"/>
<circle cx="1911.1" cy="2944.0" r="13.2" fill="#A9FF00"/>
<circle cx="1913.2" cy="2945.8" r="13.9" fill="#BBFF00"/>
<circle cx="1915.2" cy="2947.6" r="13.1" fill="#A6FF00"/>
<circle cx="1922.3" cy="2953.6" r="10.4" fill="#45F319"/>
<circle cx="1924.8" cy="2955.7" r="13.1" fill="#A7FF00"/>
<circle cx="1927.4" cy="2957.9" r="13.7" fill="#B8FF00"/>
<circle cx="1929.9" cy="2960.0" r="16.7" fill="#FFED00"/>
<circle cx="1932.4" cy="2962.2" r="13.3" fill="#AAFF00"/>
<circle cx="1934.9" cy="2964.5" r="16.5" fill="#FDF100"/>
<circle cx="1937.5" cy="2966.9" r="13.6" fill="#B4FF00"/>
<circle cx="1940.0" cy="2969.3" r="10.3" fill="#41F11E"/>
<circle cx="1942.5" cy="2971.7" r="17.1" fill="#FFE000"/>
<circle cx="1945.0" cy="2974.2" r="12.3" fill="#93FF00"/>
<circle cx="1947.6" cy="2976.6" r="15.3" fill="#E5FC00"/>
<circle cx="1956.5" cy="2985.1" r="15.8" fill="#F2F900"/>
<circle cx="1960.3" cy="2988.7" r="14.9" fill="#D9FE00"/>
<circle cx="1961.9" cy="2990.2" r="10.3" fill="#40F021"/>
<circle cx="1977.7" cy="3008.2" r="13.0" fill="#A5FF00"/>
<circle cx="1980.0" cy="3010.8" r="10.1" fill="#45EB2E"/>
<circle cx="1982.2" cy="3013.5" r="13.2" fill="#A9FF00"/>
<circle cx="1986.2" cy="3018.3" r="17.3" fill="#FFD900"/>
<circle cx="1989.2" cy="3021.9" r="12.2" fill="#8FFF00"/>
<circle cx="1992.2" cy="3025.5" r="13.6" fill="#B2FF00"/>
<circle cx="1999.2" cy="3033.9" r="11.0" fill="#5AFF00"/>
<circle cx="2005.8" cy="3040.8" r="10.3" fill="#41F01F"/>
<circle cx="2010.4" cy="3045.6" r="15.2" fill="#E1FC00"/>
<circle cx="2014.2" cy="3049.7" r="12.5" fill="#97FF00"/>
<circle cx="2027.3" cy="3063.4" r="13.1" fill="#A7FF00"/>
<circle cx="2029.0" cy="3065.2" r="11.0" fill="#56FE02"/>
<circle cx="2031.0" cy="3067.3" r="14.0" fill="#BEFF00"/>
<circle cx="2034.8" cy="3071.4" r="12.9" fill="#A1FF00"/>
<circle cx="2051.0" cy="3088.3" r="10.0" fill="#46EA32"/>
<circle cx="2053.1" cy="3090.5" r="19.1" fill="#FF9B00"/>
<circle cx="2055.2" cy="3092.7" r="10.1" fill="#45EB30"/>
<circle cx="2059.6" cy="3097.3" r="13.6" fill="#B4FF00"/>
<circle cx="2063.0" cy="3100.9" r="13.6" fill="#B3FF00"/>
<circle cx="2065.5" cy="3103.5" r="9.8" fill="#4CE444"/>
<circle cx="2068.0" cy="3106.0" r="14.7" fill="#D5FE00"/>
<circle cx="2070.5" cy="3108.5" r="14.8" fill="#D6FE00"/>
<circle cx="2072.9" cy="3111.0" r="10.2" fill="#41EF24"/>
<circle cx="2075.4" cy="3113.5" r="11.4" fill="#6DFF00"/>
<circle cx="2077.9" cy="3116.0" r="12.7" fill="#9EFF00"/>
<circle cx="2080.4" cy="3118.4" r="12.8" fill="#9FFF00"/>
<circle cx="2082.9" cy="3120.9" r="11.4" fill="#6BFF00"/>
<circle cx="2092.6" cy="3130.7" r="13.9" fill="#BCFF00"/>
<circle cx="2095.2" cy="3133.3" r="13.3" fill="#AAFF00"/>
<circle cx="2097.9" cy="3136.0" r="9.8" fill="#4BE540"/>
<circle cx="2100.6" cy="3139.2" r="15.6" fill="#ECFB00"/>
<circle cx="2105.8" cy="3145.8" r="11.4" fill="#6CFF00"/>
<circle cx="2111.4" cy="3152.8" r="14.7" fill="#D4FE00"/>
<circle cx="2114.9" cy="3157.3" r="13.9" fill="#BCFF00"/>
<circle cx="2125.2" cy="3170.3" r="13.9" fill="#BCFF00"/>
<circle cx="2128.1" cy="3173.9" r="10.5" fill="#46F418"/>
<circle cx="2130.9" cy="3177.4" r="14.6" fill="#D0FF00"/>
<path d="M292.0 3185.1 L296.5 3190.8 L296.5 3174.4 L301.8 3181.0 L301.8 3162.2 L304.4 3165.6 L304.4 3156.0 L307.1 3159.4 L307.1 3149.9 L309.7 3153.2 L309.7 3143.7 L312.4 3147.1 L312.4 3137.5 L315.0 3140.9 L315.0 3131.4 L317.7 3134.7 L317.7 3128.6 L320.3 3132.0 L320.3 3125.9 L323.0 3129.3 L323.0 3123.3 L325.6 3126.6 L325.6 3120.6 L328.3 3123.9 L328.3 3117.9 L332.7 3123.5 L332.7 3112.7 L336.4 3117.4 L336.4 3108.4 L339.2 3111.9 L339.2 3104.8 L342.0 3108.3 L342.0 3088.2 L344.7 3091.7 L344.7 3071.6 L347.5 3075.1 L347.5 3059.7 L353.0 3066.7 L353.0 3052.8 L356.7 3057.5 L356.7 3048.2 L359.8 3052.1 L359.8 3044.4 L361.8 3046.9 L361.8 3041.7 L368.0 3049.4 L368.0 3031.8 L370.1 3034.4 L370.1 3028.4 L372.1 3031.0 L372.1 3028.2 L378.5 3036.3 L378.5 3030.4 L386.0 3039.8 L386.0 3032.8 L388.3 3035.7 L388.3 3030.4 L391.5 3034.4 L391.5 3022.7 L394.3 3026.1 L394.3 3016.2 L397.0 3019.7 L397.0 3009.7 L399.7 3013.2 L399.7 3003.3 L402.5 3006.7 L402.5 2997.4 L407.5 3003.8 L407.5 2991.1 L411.4 2995.9 L411.4 2986.3 L417.7 2994.3 L417.7 2979.7 L419.9 2982.5 L419.9 2979.7 L422.2 2982.5 L422.2 2979.7 L433.1 2993.5 L433.1 2972.5 L435.7 2975.8 L435.7 2960.7 L442.9 2969.9 L442.9 2938.3 L445.8 2941.9 L445.8 2932.5 L448.7 2936.2 L448.7 2926.8 L451.6 2930.4 L451.6 2921.0 L454.5 2924.6 L454.5 2915.2 L458.3 2920.0 L458.3 2911.9 L465.0 2920.4 L465.0 2908.8 L467.7 2912.2 L467.7 2907.6 L470.3 2911.0 L470.3 2906.3 L473.0 2909.7 L473.0 2905.1 L475.7 2908.5 L475.7 2903.8 L478.8 2907.7 L478.8 2902.4 L481.3 2905.6 L481.3 2896.4 L483.8 2899.6 L483.8 2888.6 L486.3 2891.7 L486.3 2880.7 L488.8 2883.8 L488.8 2872.9 L491.3 2876.0 L491.3 2865.0 L493.7 2868.1 L493.7 2860.1 L497.0 2864.1 L497.0 2856.8 L499.4 2859.9 L499.4 2854.4 L505.0 2861.4 L505.0 2848.9 L507.6 2852.1 L507.6 2846.3 L510.1 2849.6 L510.1 2843.7 L512.7 2847.0 L512.7 2841.2 L515.3 2844.4 L515.3 2838.6 L519.3 2843.6 L519.3 2838.5 L520.7 2840.2 L520.7 2839.0 L531.8 2853.0 L531.8 2841.3 L534.1 2844.2 L534.1 2834.4 L536.4 2837.3 L536.4 2827.4 L538.7 2830.3 L538.7 2820.5 L541.0 2823.4 L541.0 2813.6 L548.5 2823.0 L548.5 2805.1 L553.8 2811.8 L553.8 2801.1 L556.4 2804.4 L556.4 2799.2 L559.0 2802.5 L559.0 2797.2 L561.6 2800.5 L561.6 2795.2 L569.5 2805.1 L569.5 2792.7 L571.9 2795.7 L571.9 2792.5 L574.3 2795.5 L574.3 2792.3 L576.7 2795.3 L576.7 2792.1 L585.6 2803.4 L585.6 2791.4 L589.0 2795.7 L589.0 2789.2 L594.1 2795.6 L594.1 2784.9 L599.0 2791.1 L599.0 2780.6 L602.9 2785.5 L602.9 2777.3 L609.0 2785.1 L609.0 2772.1 L612.3 2776.1 L612.3 2769.3 L615.5 2773.4 L615.5 2769.6 L620.4 2775.8 L620.4 2770.3 L632.6 2785.7 L632.6 2772.3 L634.7 2774.9 L634.7 2769.5 L636.8 2772.1 L636.8 2766.2 L641.4 2772.0 L641.4 2758.8 L648.0 2767.2 L648.0 2760.4 L650.6 2763.7 L650.6 2756.8 L653.2 2760.0 L653.2 2745.0 L655.7 2748.3 L655.7 2733.3 L658.3 2736.6 L658.3 2727.2 L662.2 2732.1 L662.2 2725.0 L666.2 2730.0 L666.2 2722.7 L670.8 2728.4 L670.8 2720.1 L672.9 2722.8 L672.9 2718.8 L678.0 2725.2 L678.0 2715.9 L680.4 2719.0 L680.4 2714.6 L682.8 2717.6 L682.8 2713.2 L685.2 2716.2 L685.2 2712.0 L689.9 2717.8 L689.9 2709.7 L691.4 2711.6 L691.4 2708.9 L700.0 2719.8 L700.0 2704.6 L702.4 2707.6 L702.4 2703.4 L704.8 2706.4 L704.8 2702.2 L711.9 2711.1 L711.9 2697.8 L715.0 2701.7 L715.0 2695.5 L718.0 2699.4 L718.0 2693.2 L723.7 2700.4 L723.7 2688.9 L726.8 2692.8 L726.8 2686.6 L729.9 2690.5 L729.9 2684.3 L732.1 2687.1 L732.1 2683.7 L734.3 2686.5 L734.3 2683.9 L736.5 2686.7 L736.5 2684.1 L740.7 2689.3 L740.7 2684.4 L744.5 2689.3 L744.5 2684.8 L750.4 2692.2 L750.4 2685.3 L752.8 2688.3 L752.8 2685.5 L755.2 2688.5 L755.2 2682.8 L757.6 2685.8 L757.6 2679.7 L760.7 2683.6 L760.7 2675.9 L763.2 2679.1 L763.2 2672.8 L765.7 2675.9 L765.7 2669.6 L768.2 2672.8 L768.2 2667.0 L770.7 2670.2 L770.7 2667.2 L777.0 2675.2 L777.0 2667.7 L779.0 2670.3 L779.0 2667.9 L780.9 2670.3 L780.9 2668.1 L787.4 2676.2 L787.4 2668.6 L791.9 2674.3 L791.9 2668.8 L796.5 2674.6 L796.5 2668.8 L800.9 2674.3 L800.9 2668.8 L805.9 2675.1 L805.9 2668.8 L808.4 2671.9 L808.4 2668.8 L810.9 2671.9 L810.9 2668.8 L813.3 2671.9 L813.3 2667.0 L815.8 2670.1 L815.8 2663.3 L818.3 2666.4 L818.3 2659.6 L821.3 2663.5 L821.3 2655.0 L824.4 2658.9 L824.4 2651.2 L828.0 2655.7 L828.0 2648.5 L830.0 2651.1 L830.0 2646.8 L832.1 2649.5 L832.1 2645.2 L838.7 2653.6 L838.7 2640.0 L841.0 2642.9 L841.0 2638.2 L843.3 2641.1 L843.3 2636.4 L845.7 2639.3 L845.7 2634.6 L848.0 2637.5 L848.0 2632.8 L852.0 2637.8 L852.0 2630.5 L854.9 2634.2 L854.9 2629.0 L858.7 2633.9 L858.7 2627.1 L865.4 2635.5 L865.4 2623.7 L869.5 2628.8 L869.5 2621.7 L871.7 2624.4 L871.7 2620.6 L876.8 2627.0 L876.8 2618.0 L879.4 2621.4 L879.4 2617.0 L882.1 2620.4 L882.1 2616.5 L884.8 2619.9 L884.8 2616.1 L887.5 2619.5 L887.5 2615.6 L892.1 2621.4 L892.1 2614.8 L895.7 2619.3 L895.7 2614.3 L900.8 2620.7 L900.8 2613.4 L902.9 2616.1 L902.9 2613.5 L911.4 2624.2 L911.4 2614.1 L915.5 2619.2 L915.5 2614.3 L920.9 2621.1 L920.9 2614.7 L929.3 2625.4 L929.3 2615.2 L936.5 2624.3 L936.5 2618.4 L943.4 2627.1 L943.4 2621.9 L946.1 2625.2 L946.1 2622.2 L948.7 2625.6 L948.7 2620.9 L951.4 2624.2 L951.4 2619.5 L958.0 2627.9 L958.0 2616.2 L960.6 2619.5 L960.6 2614.9 L963.2 2618.2 L963.2 2613.6 L965.8 2616.9 L965.8 2612.3 L968.4 2615.6 L968.4 2611.3 L971.0 2614.6 L971.0 2610.7 L973.6 2613.9 L973.6 2610.0 L976.2 2613.3 L976.2 2609.4 L978.8 2612.6 L978.8 2608.7 L985.0 2616.5 L985.0 2607.1 L988.7 2611.8 L988.7 2606.2 L993.1 2611.8 L993.1 2604.4 L995.7 2607.7 L995.7 2603.3 L1002.7 2612.0 L1002.7 2600.2 L1005.1 2603.3 L1005.1 2599.2 L1007.6 2602.3 L1007.6 2598.1 L1012.7 2604.5 L1012.7 2595.9 L1015.3 2599.2 L1015.3 2594.7 L1017.9 2598.0 L1017.9 2593.6 L1020.5 2596.9 L1020.5 2592.6 L1023.1 2595.9 L1023.1 2591.8 L1025.8 2595.1 L1025.8 2591.0 L1028.4 2594.3 L1028.4 2590.2 L1031.8 2594.5 L1031.8 2589.1 L1033.8 2591.8 L1033.8 2588.5 L1035.9 2591.1 L1035.9 2587.8 L1043.3 2597.2 L1043.3 2585.5 L1045.7 2588.6 L1045.7 2584.8 L1048.1 2587.8 L1048.1 2584.0 L1050.6 2587.1 L1050.6 2585.3 L1060.0 2597.2 L1060.0 2592.0 L1066.6 2600.3 L1066.6 2596.7 L1074.1 2606.2 L1074.1 2602.1 L1077.0 2605.8 L1077.0 2600.7 L1082.5 2607.6 L1082.5 2597.3 L1086.1 2601.8 L1086.1 2595.0 L1089.0 2598.7 L1089.0 2593.2 L1103.0 2610.9 L1103.0 2602.8 L1106.0 2606.5 L1106.0 2604.8 L1109.0 2608.6 L1109.0 2606.6 L1118.7 2618.8 L1118.7 2610.9 L1122.1 2615.1 L1122.1 2612.4 L1124.4 2615.3 L1124.4 2613.4 L1126.8 2616.3 L1126.8 2614.4 L1137.2 2627.6 L1137.2 2619.0 L1141.4 2624.2 L1141.4 2617.9 L1146.1 2624.0 L1146.1 2616.7 L1148.9 2620.2 L1148.9 2616.0 L1151.7 2619.5 L1151.7 2615.3 L1156.0 2620.8 L1156.0 2614.3 L1159.1 2618.1 L1159.1 2613.5 L1170.9 2628.3 L1170.9 2620.1 L1174.9 2625.2 L1174.9 2622.4 L1179.6 2628.4 L1179.6 2625.2 L1184.2 2630.9 L1184.2 2626.0 L1186.7 2629.2 L1186.7 2625.8 L1189.2 2629.0 L1189.2 2625.6 L1191.7 2628.7 L1191.7 2625.3 L1194.3 2628.5 L1194.3 2625.1 L1196.8 2628.2 L1196.8 2624.8 L1202.2 2631.6 L1202.2 2623.4 L1204.9 2626.9 L1204.9 2622.0 L1207.7 2625.5 L1207.7 2620.7 L1210.4 2624.1 L1210.4 2619.3 L1213.2 2622.8 L1213.2 2617.9 L1215.9 2621.4 L1215.9 2617.7 L1218.7 2621.1 L1218.7 2619.0 L1228.0 2630.9 L1228.0 2623.7 L1231.9 2628.6 L1231.9 2624.0 L1236.5 2629.8 L1236.5 2623.0 L1239.2 2626.4 L1239.2 2622.5 L1241.8 2625.8 L1241.8 2621.9 L1244.5 2625.3 L1244.5 2621.3 L1248.8 2626.8 L1248.8 2620.4 L1252.1 2624.5 L1252.1 2619.7 L1255.3 2623.8 L1255.3 2619.0 L1259.1 2623.9 L1259.1 2620.6 L1262.2 2624.5 L1262.2 2622.0 L1268.2 2629.6 L1268.2 2624.6 L1273.0 2630.7 L1273.0 2625.0 L1275.1 2627.7 L1275.1 2622.4 L1277.2 2625.0 L1277.2 2619.7 L1282.2 2626.1 L1282.2 2613.2 L1283.6 2615.0 L1283.6 2611.5 L1289.0 2618.3 L1289.0 2605.0 L1291.9 2608.7 L1291.9 2601.6 L1294.9 2605.3 L1294.9 2598.2 L1297.8 2601.9 L1297.8 2597.4 L1301.3 2601.9 L1301.3 2598.7 L1305.9 2604.5 L1305.9 2600.3 L1308.6 2603.6 L1308.6 2601.2 L1314.4 2608.6 L1314.4 2603.3 L1319.2 2609.3 L1319.2 2605.0 L1321.7 2608.2 L1321.7 2605.9 L1324.2 2609.1 L1324.2 2607.4 L1326.7 2610.6 L1326.7 2608.9 L1334.6 2618.9 L1334.6 2613.8 L1339.3 2619.6 L1339.3 2616.6 L1344.9 2623.7 L1344.9 2620.0 L1348.0 2623.9 L1348.0 2621.9 L1356.0 2632.0 L1356.0 2626.2 L1358.9 2630.0 L1358.9 2625.9 L1361.9 2629.7 L1361.9 2625.6 L1364.9 2629.4 L1364.9 2625.4 L1368.0 2629.2 L1368.0 2625.1 L1370.1 2627.7 L1370.1 2624.9 L1372.1 2627.5 L1372.1 2624.6 L1379.1 2633.4 L1379.1 2624.0 L1381.5 2627.1 L1381.5 2623.7 L1384.0 2626.8 L1384.0 2623.5 L1386.5 2626.6 L1386.5 2623.3 L1390.3 2628.1 L1390.3 2622.9 L1392.8 2626.0 L1392.8 2622.9 L1395.2 2626.0 L1395.2 2623.5 L1402.6 2632.8 L1402.6 2625.3 L1406.9 2630.7 L1406.9 2626.4 L1409.4 2629.4 L1409.4 2627.0 L1411.8 2630.0 L1411.8 2627.6 L1414.2 2630.6 L1414.2 2628.2 L1416.7 2631.2 L1416.7 2628.8 L1419.1 2631.8 L1419.1 2629.4 L1422.9 2634.2 L1422.9 2630.5 L1424.9 2633.0 L1424.9 2631.2 L1431.1 2639.0 L1431.1 2633.5 L1433.8 2636.9 L1433.8 2634.5 L1436.5 2637.9 L1436.5 2635.6 L1439.2 2639.0 L1439.2 2636.6 L1441.9 2640.0 L1441.9 2637.6 L1447.6 2644.8 L1447.6 2639.7 L1450.3 2643.2 L1450.3 2640.8 L1467.6 2662.5 L1467.6 2658.3 L1470.1 2661.5 L1470.1 2659.1 L1472.7 2662.3 L1472.7 2659.9 L1475.3 2663.1 L1475.3 2660.7 L1477.8 2663.9 L1477.8 2661.5 L1480.4 2664.7 L1480.4 2662.3 L1483.0 2665.5 L1483.0 2663.1 L1485.5 2666.3 L1485.5 2663.9 L1488.1 2667.1 L1488.1 2664.7 L1490.7 2667.9 L1490.7 2665.5 L1493.2 2668.7 L1493.2 2666.3 L1495.8 2669.5 L1495.8 2666.8 L1498.4 2670.1 L1498.4 2664.7 L1500.9 2667.9 L1500.9 2662.5 L1503.5 2665.8 L1503.5 2660.4 L1506.1 2663.6 L1506.1 2658.2 L1511.5 2665.0 L1511.5 2660.6 L1516.8 2667.3 L1516.8 2663.6 L1523.5 2672.0 L1523.5 2667.4 L1526.2 2670.9 L1526.2 2668.9 L1529.0 2672.4 L1529.0 2670.5 L1531.0 2673.0 L1531.0 2671.6 L1533.5 2674.8 L1533.5 2673.1 L1535.9 2676.2 L1535.9 2674.6 L1542.1 2682.3 L1542.1 2678.3 L1545.9 2683.1 L1545.9 2680.6 L1549.2 2684.6 L1549.2 2682.5 L1551.8 2685.8 L1551.8 2684.1 L1557.5 2691.3 L1557.5 2687.5 L1560.6 2691.4 L1560.6 2689.3 L1563.6 2693.2 L1563.6 2691.2 L1569.5 2698.6 L1569.5 2694.7 L1573.3 2699.5 L1573.3 2697.1 L1576.2 2700.7 L1576.2 2698.9 L1579.0 2702.5 L1579.0 2700.7 L1581.9 2704.3 L1581.9 2702.5 L1584.7 2706.1 L1584.7 2704.2 L1588.7 2709.3 L1588.7 2706.8 L1592.1 2711.0 L1592.1 2708.9 L1604.6 2724.6 L1604.6 2718.0 L1607.2 2721.3 L1607.2 2720.2 L1609.8 2723.5 L1609.8 2722.4 L1616.9 2731.4 L1616.9 2728.5 L1622.1 2735.1 L1622.1 2732.9 L1625.1 2736.6 L1625.1 2735.4 L1628.0 2739.1 L1628.0 2736.5 L1632.6 2742.4 L1632.6 2738.4 L1636.4 2743.2 L1636.4 2739.9 L1638.7 2742.7 L1638.7 2740.8 L1640.9 2743.6 L1640.9 2741.7 L1646.8 2749.1 L1646.8 2744.1 L1649.2 2747.1 L1649.2 2745.0 L1651.6 2748.1 L1651.6 2746.0 L1654.0 2749.1 L1654.0 2747.0 L1656.4 2750.0 L1656.4 2748.0 L1658.9 2751.0 L1658.9 2748.9 L1661.3 2752.0 L1661.3 2749.9 L1663.7 2752.9 L1663.7 2752.0 L1680.3 2773.0 L1680.3 2768.6 L1682.9 2771.8 L1682.9 2769.9 L1685.4 2773.1 L1685.4 2771.2 L1687.9 2774.4 L1687.9 2772.4 L1690.5 2775.6 L1690.5 2773.7 L1693.0 2776.9 L1693.0 2775.0 L1695.6 2778.2 L1695.6 2776.3 L1698.1 2779.5 L1698.1 2777.5 L1700.6 2780.7 L1700.6 2778.8 L1712.4 2793.7 L1712.4 2784.7 L1716.0 2789.3 L1716.0 2786.5 L1718.4 2789.6 L1718.4 2787.7 L1720.9 2790.7 L1720.9 2788.8 L1723.3 2791.8 L1723.3 2789.9 L1726.5 2794.0 L1726.5 2791.4 L1729.9 2795.7 L1729.9 2793.0 L1732.2 2795.9 L1732.2 2794.1 L1735.7 2798.6 L1735.7 2796.8 L1738.4 2800.1 L1738.4 2799.2 L1743.4 2805.6 L1743.4 2803.7 L1748.1 2809.6 L1748.1 2807.9 L1750.7 2811.2 L1750.7 2810.2 L1755.4 2816.3 L1755.4 2814.5 L1758.1 2817.8 L1758.1 2816.9 L1760.7 2820.2 L1760.7 2819.3 L1769.3 2830.1 L1769.3 2827.0 L1771.8 2830.2 L1771.8 2829.3 L1774.3 2832.4 L1774.3 2831.5 L1776.8 2834.7 L1776.8 2833.8 L1781.4 2839.5 L1781.4 2837.9 L1784.8 2842.2 L1784.8 2841.0 L1787.2 2843.9 L1787.2 2843.0 L1789.5 2846.0 L1789.5 2845.1 L1791.8 2848.0 L1791.8 2847.2 L1794.1 2850.1 L1794.1 2849.3 L1800.0 2856.7 L1800.0 2854.5 L1803.8 2859.3 L1803.8 2856.8 L1805.5 2858.9 L1805.5 2857.8 L1811.0 2864.8 L1811.0 2861.2 L1813.9 2864.8 L1813.9 2862.9 L1816.7 2866.5 L1816.7 2864.6 L1819.6 2868.2 L1819.6 2866.3 L1822.4 2869.9 L1822.4 2868.0 L1829.0 2876.4 L1829.0 2872.0 L1831.3 2874.9 L1831.3 2873.4 L1833.6 2876.3 L1833.6 2874.9 L1839.5 2882.3 L1839.5 2879.6 L1843.3 2884.4 L1843.3 2882.7 L1845.7 2885.6 L1845.7 2884.5 L1848.0 2887.4 L1848.0 2886.4 L1853.0 2892.8 L1853.0 2890.4 L1855.8 2893.9 L1855.8 2892.6 L1858.6 2896.1 L1858.6 2894.8 L1861.4 2898.3 L1861.4 2897.1 L1866.0 2902.9 L1866.0 2900.7 L1874.1 2911.0 L1874.1 2908.8 L1876.6 2911.9 L1876.6 2911.3 L1879.1 2914.4 L1879.1 2913.8 L1887.5 2924.4 L1887.5 2922.2 L1890.6 2926.1 L1890.6 2925.3 L1893.7 2929.2 L1893.7 2928.4 L1899.5 2935.8 L1899.5 2934.2 L1901.9 2937.3 L1901.9 2936.3 L1904.4 2939.3 L1904.4 2938.3 L1906.8 2941.4 L1906.8 2940.4 L1911.1 2945.8 L1911.1 2944.0 L1913.2 2946.7 L1913.2 2945.8 L1915.2 2948.4 L1915.2 2947.6 L1922.3 2956.5 L1922.3 2953.6 L1924.8 2956.8 L1924.8 2955.7 L1927.4 2958.9 L1927.4 2957.9 L1929.9 2961.1 L1929.9 2960.0 L1932.4 2963.2 L1932.4 2962.2 L1934.9 2965.4 L1934.9 2964.5 L1937.5 2967.7 L1937.5 2966.9 L1940.0 2970.1 L1940.0 2969.3 L1942.5 2972.5 L1942.5 2971.7 L1945.0 2974.9 L1945.0 2974.2 L1947.6 2977.3 L1947.6 2976.6 L1956.5 2987.8 L1956.5 2985.1 L1960.3 2989.9 L1960.3 2988.7 L1961.9 2990.7 L1961.9 2990.2 L1977.7 3010.2 L1977.7 3008.2 L1980.0 3011.0 L1980.0 3010.8 L1982.2 3013.7 L1982.2 3013.5 L1986.2 3018.6 L1986.2 3018.3 L1989.2 3022.1 L1989.2 3021.9 L1992.2 3025.7 L1992.2 3025.5 L1999.2 3034.3 L1999.2 3033.9 L2005.8 3042.1 L2005.8 3040.8 L2010.4 3046.6 L2010.4 3045.6 L2014.2 3050.5 L2014.2 3049.7 L2027.3 3066.2 L2027.3 3063.4 L2029.0 3065.6 L2029.0 3065.2 L2031.0 3067.7 L2031.0 3067.3 L2034.8 3072.2 L2034.8 3071.4 L2051.0 3091.8 L2051.0 3088.3 L2053.1 3090.9 L2053.1 3090.5 L2055.2 3093.1 L2055.2 3092.7 L2059.6 3098.3 L2059.6 3097.3 L2063.0 3101.6 L2063.0 3100.9 L2065.5 3104.0 L2065.5 3103.5 L2068.0 3106.6 L2068.0 3106.0 L2070.5 3109.1 L2070.5 3108.5 L2072.9 3111.6 L2072.9 3111.0 L2075.4 3114.1 L2075.4 3113.5 L2077.9 3116.6 L2077.9 3116.0 L2080.4 3119.1 L2080.4 3118.4 L2082.9 3121.6 L2082.9 3120.9 L2092.6 3133.2 L2092.6 3130.7 L2095.2 3134.0 L2095.2 3133.3 L2097.9 3136.7 L2097.9 3136.0 L2100.6 3139.4 L2100.6 3139.2 L2105.8 3145.8 L2105.8 3145.8 L2111.4 3152.8 L2111.4 3152.8 L2114.9 3157.3 L2114.9 3157.3 L2125.2 3170.3 L2125.2 3170.3 L2128.1 3173.9 L2128.1 3173.9 L2130.9 3177.4 L2130.9 3177.4 L2133.2 3180.3" fill="none" stroke="#BEBEBE" stroke-width="6" stroke-linejoin="round"/>
<line x1="200.0" y1="3185.1" x2="2226.0" y2="3185.1" stroke="#000" stroke-width="6"/>
<path d="M296.5 3147.5V3222.7M302.0 3147.5V3222.7M304.6 3147.5V3222.7M307.2 3147.5V3222.7M309.8 3147.5V3222.7M312.4 3147.5V3222.7M315.0 3147.5V3222.7M317.6 3147.5V3222.7M320.2 3147.5V3222.7M322.8 3147.5V3222.7M325.5 3147.5V3222.7M328.1 3147.5V3222.7M332.7 3147.5V3222.7M336.6 3147.5V3222.7M339.3 3147.5V3222.7M342.0 3147.5V3222.7M344.6 3147.5V3222.7M347.3 3147.5V3222.7M353.2 3147.5V3222.7M356.5 3147.5V3222.7M360.0 3147.5V3222.7M361.6 3147.5V3222.7M368.2 3147.5V3222.7M371.9 3147.5V3222.7M378.5 3147.5V3222.7M386.2 3147.5V3222.7M388.1 3147.5V3222.7M391.7 3147.5V3222.7M394.4 3147.5V3222.7M397.0 3147.5V3222.7M399.6 3147.5V3222.7M402.3 3147.5V3222.7M407.7 3147.5V3222.7M411.2 3147.5V3222.7M417.9 3147.5V3222.7M419.9 3147.5V3222.7M422.0 3147.5V3222.7M433.3 3147.5V3222.7M435.5 3147.5V3222.7M443.1 3147.5V3222.7M445.9 3147.5V3222.7M448.7 3147.5V3222.7M451.5 3147.5V3222.7M454.3 3147.5V3222.7M458.3 3147.5V3222.7M465.2 3147.5V3222.7M467.8 3147.5V3222.7M470.3 3147.5V3222.7M472.9 3147.5V3222.7M475.5 3147.5V3222.7M479.0 3147.5V3222.7M481.4 3147.5V3222.7M483.9 3147.5V3222.7M486.3 3147.5V3222.7M488.7 3147.5V3222.7M491.1 3147.5V3222.7M493.5 3147.5V3222.7M497.2 3147.5V3222.7M499.2 3147.5V3222.7M505.2 3147.5V3222.7M507.7 3147.5V3222.7M510.1 3147.5V3222.7M512.6 3147.5V3222.7M515.1 3147.5V3222.7M520.0 3147.5V3222.7M532.0 3147.5V3222.7M534.9 3147.5V3222.7M537.9 3147.5V3222.7M540.8 3147.5V3222.7M548.5 3147.5V3222.7M554.0 3147.5V3222.7M556.5 3147.5V3222.7M559.0 3147.5V3222.7M561.4 3147.5V3222.7M569.7 3147.5V3222.7M572.0 3147.5V3222.7M574.2 3147.5V3222.7M576.5 3147.5V3222.7M585.8 3147.5V3222.7M588.8 3147.5V3222.7M594.1 3147.5V3222.7M599.2 3147.5V3222.7M602.7 3147.5V3222.7M609.2 3147.5V3222.7M612.3 3147.5V3222.7M615.3 3147.5V3222.7M620.4 3147.5V3222.7M632.8 3147.5V3222.7M636.6 3147.5V3222.7M641.4 3147.5V3222.7M648.2 3147.5V3222.7M650.7 3147.5V3222.7M653.2 3147.5V3222.7M655.6 3147.5V3222.7M658.1 3147.5V3222.7M662.2 3147.5V3222.7M666.2 3147.5V3222.7M671.0 3147.5V3222.7M672.7 3147.5V3222.7M678.2 3147.5V3222.7M680.5 3147.5V3222.7M682.8 3147.5V3222.7M685.1 3147.5V3222.7M690.6 3147.5V3222.7M700.2 3147.5V3222.7M702.4 3147.5V3222.7M704.6 3147.5V3222.7M712.1 3147.5V3222.7M715.0 3147.5V3222.7M717.8 3147.5V3222.7M723.9 3147.5V3222.7M726.6 3147.5V3222.7M730.1 3147.5V3222.7M733.2 3147.5V3222.7M736.3 3147.5V3222.7M740.9 3147.5V3222.7M744.3 3147.5V3222.7M750.6 3147.5V3222.7M752.8 3147.5V3222.7M755.1 3147.5V3222.7M757.4 3147.5V3222.7M760.9 3147.5V3222.7M763.3 3147.5V3222.7M765.7 3147.5V3222.7M768.1 3147.5V3222.7M770.5 3147.5V3222.7M777.2 3147.5V3222.7M778.8 3147.5V3222.7M780.9 3147.5V3222.7M787.4 3147.5V3222.7M791.9 3147.5V3222.7M796.5 3147.5V3222.7M800.9 3147.5V3222.7M806.1 3147.5V3222.7M808.5 3147.5V3222.7M810.9 3147.5V3222.7M813.3 3147.5V3222.7M815.7 3147.5V3222.7M818.1 3147.5V3222.7M821.5 3147.5V3222.7M824.2 3147.5V3222.7M828.2 3147.5V3222.7M831.9 3147.5V3222.7M838.9 3147.5V3222.7M841.9 3147.5V3222.7M844.8 3147.5V3222.7M847.8 3147.5V3222.7M852.0 3147.5V3222.7M855.1 3147.5V3222.7M858.5 3147.5V3222.7M865.4 3147.5V3222.7M869.7 3147.5V3222.7M871.5 3147.5V3222.7M877.0 3147.5V3222.7M879.5 3147.5V3222.7M882.1 3147.5V3222.7M884.7 3147.5V3222.7M887.3 3147.5V3222.7M892.3 3147.5V3222.7M895.5 3147.5V3222.7M901.0 3147.5V3222.7M902.7 3147.5V3222.7M911.4 3147.5V3222.7M915.5 3147.5V3222.7M920.9 3147.5V3222.7M929.3 3147.5V3222.7M936.5 3147.5V3222.7M943.6 3147.5V3222.7M946.1 3147.5V3222.7M948.7 3147.5V3222.7M951.2 3147.5V3222.7M958.2 3147.5V3222.7M960.8 3147.5V3222.7M963.3 3147.5V3222.7M965.9 3147.5V3222.7M968.4 3147.5V3222.7M971.0 3147.5V3222.7M973.5 3147.5V3222.7M976.1 3147.5V3222.7M978.6 3147.5V3222.7M985.2 3147.5V3222.7M988.5 3147.5V3222.7M993.3 3147.5V3222.7M995.5 3147.5V3222.7M1002.9 3147.5V3222.7M1005.1 3147.5V3222.7M1007.4 3147.5V3222.7M1012.9 3147.5V3222.7M1015.4 3147.5V3222.7M1018.0 3147.5V3222.7M1020.5 3147.5V3222.7M1023.1 3147.5V3222.7M1025.6 3147.5V3222.7M1028.2 3147.5V3222.7M1032.0 3147.5V3222.7M1035.7 3147.5V3222.7M1043.5 3147.5V3222.7M1045.8 3147.5V3222.7M1048.1 3147.5V3222.7M1050.4 3147.5V3222.7M1060.0 3147.5V3222.7M1066.6 3147.5V3222.7M1074.3 3147.5V3222.7M1076.8 3147.5V3222.7M1082.5 3147.5V3222.7M1086.3 3147.5V3222.7M1088.8 3147.5V3222.7M1103.2 3147.5V3222.7M1106.0 3147.5V3222.7M1108.8 3147.5V3222.7M1118.7 3147.5V3222.7M1122.3 3147.5V3222.7M1124.4 3147.5V3222.7M1126.6 3147.5V3222.7M1137.2 3147.5V3222.7M1141.4 3147.5V3222.7M1146.3 3147.5V3222.7M1148.9 3147.5V3222.7M1151.5 3147.5V3222.7M1156.2 3147.5V3222.7M1158.9 3147.5V3222.7M1170.9 3147.5V3222.7M1174.9 3147.5V3222.7M1179.6 3147.5V3222.7M1184.4 3147.5V3222.7M1186.8 3147.5V3222.7M1189.3 3147.5V3222.7M1191.7 3147.5V3222.7M1194.2 3147.5V3222.7M1196.6 3147.5V3222.7M1202.4 3147.5V3222.7M1205.1 3147.5V3222.7M1207.7 3147.5V3222.7M1210.4 3147.5V3222.7M1213.1 3147.5V3222.7M1215.8 3147.5V3222.7M1218.5 3147.5V3222.7M1228.2 3147.5V3222.7M1231.7 3147.5V3222.7M1236.7 3147.5V3222.7M1239.2 3147.5V3222.7M1241.8 3147.5V3222.7M1244.3 3147.5V3222.7M1249.0 3147.5V3222.7M1252.1 3147.5V3222.7M1255.1 3147.5V3222.7M1259.3 3147.5V3222.7M1262.0 3147.5V3222.7M1268.2 3147.5V3222.7M1273.2 3147.5V3222.7M1277.0 3147.5V3222.7M1282.9 3147.5V3222.7M1289.2 3147.5V3222.7M1292.0 3147.5V3222.7M1294.8 3147.5V3222.7M1297.6 3147.5V3222.7M1301.3 3147.5V3222.7M1306.1 3147.5V3222.7M1308.4 3147.5V3222.7M1314.4 3147.5V3222.7M1319.4 3147.5V3222.7M1321.8 3147.5V3222.7M1324.1 3147.5V3222.7M1326.5 3147.5V3222.7M1334.6 3147.5V3222.7M1339.3 3147.5V3222.7M1345.1 3147.5V3222.7M1347.8 3147.5V3222.7M1356.2 3147.5V3222.7M1359.0 3147.5V3222.7M1361.9 3147.5V3222.7M1364.7 3147.5V3222.7M1368.2 3147.5V3222.7M1371.9 3147.5V3222.7M1379.3 3147.5V3222.7M1381.6 3147.5V3222.7M1383.9 3147.5V3222.7M1386.3 3147.5V3222.7M1390.5 3147.5V3222.7M1392.8 3147.5V3222.7M1395.0 3147.5V3222.7M1402.6 3147.5V3222.7M1407.1 3147.5V3222.7M1409.5 3147.5V3222.7M1411.8 3147.5V3222.7M1414.2 3147.5V3222.7M1416.5 3147.5V3222.7M1418.9 3147.5V3222.7M1423.1 3147.5V3222.7M1424.7 3147.5V3222.7M1431.3 3147.5V3222.7M1433.9 3147.5V3222.7M1436.5 3147.5V3222.7M1439.1 3147.5V3222.7M1441.7 3147.5V3222.7M1447.8 3147.5V3222.7M1450.1 3147.5V3222.7M1467.8 3147.5V3222.7M1470.3 3147.5V3222.7M1472.9 3147.5V3222.7M1475.4 3147.5V3222.7M1477.9 3147.5V3222.7M1480.5 3147.5V3222.7M1483.0 3147.5V3222.7M1485.6 3147.5V3222.7M1488.1 3147.5V3222.7M1490.6 3147.5V3222.7M1493.2 3147.5V3222.7M1495.7 3147.5V3222.7M1498.2 3147.5V3222.7M1500.8 3147.5V3222.7M1503.3 3147.5V3222.7M1505.9 3147.5V3222.7M1511.5 3147.5V3222.7M1516.8 3147.5V3222.7M1523.7 3147.5V3222.7M1526.2 3147.5V3222.7M1528.8 3147.5V3222.7M1531.2 3147.5V3222.7M1533.5 3147.5V3222.7M1535.7 3147.5V3222.7M1542.3 3147.5V3222.7M1545.7 3147.5V3222.7M1549.4 3147.5V3222.7M1551.6 3147.5V3222.7M1557.7 3147.5V3222.7M1560.6 3147.5V3222.7M1563.4 3147.5V3222.7M1569.5 3147.5V3222.7M1573.5 3147.5V3222.7M1576.3 3147.5V3222.7M1579.0 3147.5V3222.7M1581.8 3147.5V3222.7M1584.5 3147.5V3222.7M1588.9 3147.5V3222.7M1591.9 3147.5V3222.7M1604.8 3147.5V3222.7M1607.2 3147.5V3222.7M1609.6 3147.5V3222.7M1616.9 3147.5V3222.7M1622.3 3147.5V3222.7M1625.1 3147.5V3222.7M1627.8 3147.5V3222.7M1632.6 3147.5V3222.7M1636.6 3147.5V3222.7M1638.7 3147.5V3222.7M1640.7 3147.5V3222.7M1647.0 3147.5V3222.7M1649.7 3147.5V3222.7M1652.5 3147.5V3222.7M1655.2 3147.5V3222.7M1658.0 3147.5V3222.7M1660.7 3147.5V3222.7M1663.5 3147.5V3222.7M1680.5 3147.5V3222.7M1683.0 3147.5V3222.7M1685.5 3147.5V3222.7M1688.0 3147.5V3222.7M1690.5 3147.5V3222.7M1693.0 3147.5V3222.7M1695.5 3147.5V3222.7M1698.0 3147.5V3222.7M1700.4 3147.5V3222.7M1712.4 3147.5V3222.7M1716.2 3147.5V3222.7M1718.5 3147.5V3222.7M1720.8 3147.5V3222.7M1723.1 3147.5V3222.7M1726.5 3147.5V3222.7M1730.1 3147.5V3222.7M1732.0 3147.5V3222.7M1735.9 3147.5V3222.7M1738.2 3147.5V3222.7M1743.4 3147.5V3222.7M1748.3 3147.5V3222.7M1750.5 3147.5V3222.7M1755.6 3147.5V3222.7M1758.1 3147.5V3222.7M1760.5 3147.5V3222.7M1769.5 3147.5V3222.7M1771.9 3147.5V3222.7M1774.3 3147.5V3222.7M1776.6 3147.5V3222.7M1781.4 3147.5V3222.7M1785.0 3147.5V3222.7M1788.0 3147.5V3222.7M1790.9 3147.5V3222.7M1793.9 3147.5V3222.7M1800.0 3147.5V3222.7M1804.6 3147.5V3222.7M1811.2 3147.5V3222.7M1814.0 3147.5V3222.7M1816.7 3147.5V3222.7M1819.5 3147.5V3222.7M1822.2 3147.5V3222.7M1829.2 3147.5V3222.7M1831.3 3147.5V3222.7M1833.4 3147.5V3222.7M1839.5 3147.5V3222.7M1843.5 3147.5V3222.7M1845.7 3147.5V3222.7M1847.8 3147.5V3222.7M1853.2 3147.5V3222.7M1855.9 3147.5V3222.7M1858.5 3147.5V3222.7M1861.2 3147.5V3222.7M1866.0 3147.5V3222.7M1874.3 3147.5V3222.7M1876.6 3147.5V3222.7M1878.9 3147.5V3222.7M1887.7 3147.5V3222.7M1890.6 3147.5V3222.7M1893.5 3147.5V3222.7M1899.7 3147.5V3222.7M1902.0 3147.5V3222.7M1904.3 3147.5V3222.7M1906.6 3147.5V3222.7M1911.3 3147.5V3222.7M1915.0 3147.5V3222.7M1922.5 3147.5V3222.7M1925.0 3147.5V3222.7M1927.5 3147.5V3222.7M1930.0 3147.5V3222.7M1932.5 3147.5V3222.7M1934.9 3147.5V3222.7M1937.4 3147.5V3222.7M1939.9 3147.5V3222.7M1942.4 3147.5V3222.7M1944.9 3147.5V3222.7M1947.4 3147.5V3222.7M1956.5 3147.5V3222.7M1961.1 3147.5V3222.7M1977.9 3147.5V3222.7M1980.0 3147.5V3222.7M1982.0 3147.5V3222.7M1986.4 3147.5V3222.7M1989.2 3147.5V3222.7M1992.0 3147.5V3222.7M1999.2 3147.5V3222.7M2005.8 3147.5V3222.7M2010.6 3147.5V3222.7M2014.0 3147.5V3222.7M2028.2 3147.5V3222.7M2031.2 3147.5V3222.7M2034.6 3147.5V3222.7M2051.2 3147.5V3222.7M2055.0 3147.5V3222.7M2059.6 3147.5V3222.7M2063.2 3147.5V3222.7M2066.0 3147.5V3222.7M2068.8 3147.5V3222.7M2071.6 3147.5V3222.7M2074.3 3147.5V3222.7M2077.1 3147.5V3222.7M2079.9 3147.5V3222.7M2082.7 3147.5V3222.7M2092.8 3147.5V3222.7M2095.3 3147.5V3222.7M2097.8 3147.5V3222.7M2100.4 3147.5V3222.7M2105.8 3147.5V3222.7M2111.6 3147.5V3222.7M2114.7 3147.5V3222.7M2125.4 3147.5V3222.7M2128.1 3147.5V3222.7M2130.7 3147.5V3222.7" stroke="#000" stroke-width="2.4"/>
<text transform="translate(2316.40,2517.83) scale(1,1.02)" font-size="61.1" font-family="Liberation Sans, sans-serif" fill="#000">p</text>
<circle cx="2349.6" cy="2587.3" r="4.10" fill="#000"/>
<text transform="translate(2411.40,2605.23) scale(1,1.07)" font-size="48.9" font-family="Liberation Sans, sans-serif" fill="#000">0</text>
<circle cx="2349.6" cy="2651.5" r="8.80" fill="#000"/>
<text transform="translate(2411.40,2669.43) scale(1,1.07)" font-size="48.9" font-family="Liberation Sans, sans-serif" fill="#000">1</text>
<circle cx="2349.6" cy="2715.3" r="13.50" fill="#000"/>
<text transform="translate(2411.40,2733.23) scale(1,1.07)" font-size="48.9" font-family="Liberation Sans, sans-serif" fill="#000">2</text>
<circle cx="2349.6" cy="2779.5" r="18.20" fill="#000"/>
<text transform="translate(2411.40,2797.43) scale(1,1.07)" font-size="48.9" font-family="Liberation Sans, sans-serif" fill="#000">3</text>
<text transform="translate(2315.80,2984.33) scale(1,1.02)" font-size="61.1" font-family="Liberation Sans, sans-serif" fill="#000">p</text>
<rect x="2317.8" y="3022.5" width="64.1" height="319.6" fill="url(#cbar)"/>
<line x1="2317.8" y1="3334.6" x2="2330.5" y2="3334.6" stroke="#FFF" stroke-width="2"/>
<line x1="2369.2" y1="3334.6" x2="2381.9" y2="3334.6" stroke="#FFF" stroke-width="2"/>
<text transform="translate(2411.00,3352.53) scale(1,1.07)" font-size="48.9" font-family="Liberation Sans, sans-serif" fill="#000">0</text>
<line x1="2317.8" y1="3254.5" x2="2330.5" y2="3254.5" stroke="#FFF" stroke-width="2"/>
<line x1="2369.2" y1="3254.5" x2="2381.9" y2="3254.5" stroke="#FFF" stroke-width="2"/>
<text transform="translate(2411.00,3272.43) scale(1,1.07)" font-size="48.9" font-family="Liberation Sans, sans-serif" fill="#000">1</text>
<line x1="2317.8" y1="3174.2" x2="2330.5" y2="3174.2" stroke="#FFF" stroke-width="2"/>
<line x1="2369.2" y1="3174.2" x2="2381.9" y2="3174.2" stroke="#FFF" stroke-width="2"/>
<text transform="translate(2411.00,3192.13) scale(1,1.07)" font-size="48.9" font-family="Liberation Sans, sans-serif" fill="#000">2</text>
<line x1="2317.8" y1="3093.7" x2="2330.5" y2="3093.7" stroke="#FFF" stroke-width="2"/>
<line x1="2369.2" y1="3093.7" x2="2381.9" y2="3093.7" stroke="#FFF" stroke-width="2"/>
<text transform="translate(2411.00,3111.63) scale(1,1.07)" font-size="48.9" font-family="Liberation Sans, sans-serif" fill="#000">3</text>
</svg></body></html>
